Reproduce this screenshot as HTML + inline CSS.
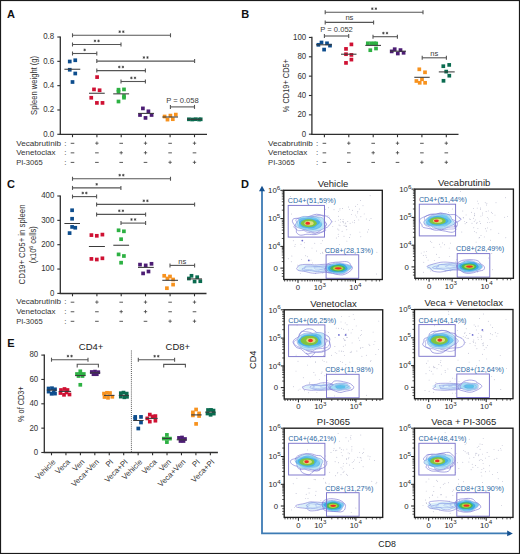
<!DOCTYPE html>
<html><head><meta charset="utf-8"><style>
html,body{margin:0;padding:0;background:#fff;}
svg{display:block;}
text{font-family:"Liberation Sans",sans-serif;}
</style></head><body>
<svg width="520" height="554" viewBox="0 0 520 554">
<defs><filter id="bl" x="-20%" y="-40%" width="140%" height="180%"><feGaussianBlur stdDeviation="0.65"/></filter></defs>
<rect x="0" y="0" width="520" height="554" fill="#fff"/>
<line x1="60.30" y1="36.42" x2="60.30" y2="135.00" stroke="#2e2e2e" stroke-width="1.3" />
<line x1="59.70" y1="134.40" x2="207.00" y2="134.40" stroke="#2e2e2e" stroke-width="1.3" />
<line x1="57.30" y1="134.30" x2="60.30" y2="134.30" stroke="#2e2e2e" stroke-width="1.1" />
<text x="54.20" y="136.65" font-size="8.6" text-anchor="end" fill="#333" textLength="10.98" lengthAdjust="spacingAndGlyphs" >0.0</text>
<line x1="57.30" y1="109.98" x2="60.30" y2="109.98" stroke="#2e2e2e" stroke-width="1.1" />
<text x="54.20" y="112.33" font-size="8.6" text-anchor="end" fill="#333" textLength="10.98" lengthAdjust="spacingAndGlyphs" >0.2</text>
<line x1="57.30" y1="85.66" x2="60.30" y2="85.66" stroke="#2e2e2e" stroke-width="1.1" />
<text x="54.20" y="88.01" font-size="8.6" text-anchor="end" fill="#333" textLength="10.98" lengthAdjust="spacingAndGlyphs" >0.4</text>
<line x1="57.30" y1="61.34" x2="60.30" y2="61.34" stroke="#2e2e2e" stroke-width="1.1" />
<text x="54.20" y="63.69" font-size="8.6" text-anchor="end" fill="#333" textLength="10.98" lengthAdjust="spacingAndGlyphs" >0.6</text>
<line x1="57.30" y1="37.02" x2="60.30" y2="37.02" stroke="#2e2e2e" stroke-width="1.1" />
<text x="54.20" y="39.37" font-size="8.6" text-anchor="end" fill="#333" textLength="10.98" lengthAdjust="spacingAndGlyphs" >0.8</text>
<line x1="72.50" y1="134.40" x2="72.50" y2="137.20" stroke="#2e2e2e" stroke-width="1.1" />
<line x1="96.90" y1="134.40" x2="96.90" y2="137.20" stroke="#2e2e2e" stroke-width="1.1" />
<line x1="121.20" y1="134.40" x2="121.20" y2="137.20" stroke="#2e2e2e" stroke-width="1.1" />
<line x1="145.50" y1="134.40" x2="145.50" y2="137.20" stroke="#2e2e2e" stroke-width="1.1" />
<line x1="170.10" y1="134.40" x2="170.10" y2="137.20" stroke="#2e2e2e" stroke-width="1.1" />
<line x1="194.50" y1="134.40" x2="194.50" y2="137.20" stroke="#2e2e2e" stroke-width="1.1" />
<text x="37.40" y="85.40" font-size="8.5" text-anchor="middle" fill="#333" textLength="59" lengthAdjust="spacingAndGlyphs" transform="rotate(-90 37.40 85.40)" >Spleen weight (g)</text>
<text x="16.20" y="145.50" font-size="8.0" text-anchor="start" fill="#333" textLength="44.8" lengthAdjust="spacingAndGlyphs" >Vecabrutinib</text>
<text x="65.40" y="145.50" font-size="8.0" text-anchor="middle" fill="#333" >:</text>
<line x1="70.70" y1="143.30" x2="74.30" y2="143.30" stroke="#444" stroke-width="0.9" />
<line x1="95.20" y1="143.20" x2="98.60" y2="143.20" stroke="#444" stroke-width="0.8" />
<line x1="96.90" y1="141.50" x2="96.90" y2="144.90" stroke="#444" stroke-width="0.8" />
<line x1="119.40" y1="143.30" x2="123.00" y2="143.30" stroke="#444" stroke-width="0.9" />
<line x1="143.80" y1="143.20" x2="147.20" y2="143.20" stroke="#444" stroke-width="0.8" />
<line x1="145.50" y1="141.50" x2="145.50" y2="144.90" stroke="#444" stroke-width="0.8" />
<line x1="168.30" y1="143.30" x2="171.90" y2="143.30" stroke="#444" stroke-width="0.9" />
<line x1="192.80" y1="143.20" x2="196.20" y2="143.20" stroke="#444" stroke-width="0.8" />
<line x1="194.50" y1="141.50" x2="194.50" y2="144.90" stroke="#444" stroke-width="0.8" />
<text x="16.20" y="155.05" font-size="8.0" text-anchor="start" fill="#333" textLength="39.2" lengthAdjust="spacingAndGlyphs" >Venetoclax</text>
<text x="65.40" y="155.05" font-size="8.0" text-anchor="middle" fill="#333" >:</text>
<line x1="70.70" y1="152.85" x2="74.30" y2="152.85" stroke="#444" stroke-width="0.9" />
<line x1="95.10" y1="152.85" x2="98.70" y2="152.85" stroke="#444" stroke-width="0.9" />
<line x1="119.50" y1="152.75" x2="122.90" y2="152.75" stroke="#444" stroke-width="0.8" />
<line x1="121.20" y1="151.05" x2="121.20" y2="154.45" stroke="#444" stroke-width="0.8" />
<line x1="143.80" y1="152.75" x2="147.20" y2="152.75" stroke="#444" stroke-width="0.8" />
<line x1="145.50" y1="151.05" x2="145.50" y2="154.45" stroke="#444" stroke-width="0.8" />
<line x1="168.30" y1="152.85" x2="171.90" y2="152.85" stroke="#444" stroke-width="0.9" />
<line x1="192.70" y1="152.85" x2="196.30" y2="152.85" stroke="#444" stroke-width="0.9" />
<text x="16.20" y="164.60" font-size="8.0" text-anchor="start" fill="#333" textLength="26.5" lengthAdjust="spacingAndGlyphs" >PI-3065</text>
<text x="65.40" y="164.60" font-size="8.0" text-anchor="middle" fill="#333" >:</text>
<line x1="70.70" y1="162.40" x2="74.30" y2="162.40" stroke="#444" stroke-width="0.9" />
<line x1="95.10" y1="162.40" x2="98.70" y2="162.40" stroke="#444" stroke-width="0.9" />
<line x1="119.40" y1="162.40" x2="123.00" y2="162.40" stroke="#444" stroke-width="0.9" />
<line x1="143.70" y1="162.40" x2="147.30" y2="162.40" stroke="#444" stroke-width="0.9" />
<line x1="168.40" y1="162.30" x2="171.80" y2="162.30" stroke="#444" stroke-width="0.8" />
<line x1="170.10" y1="160.60" x2="170.10" y2="164.00" stroke="#444" stroke-width="0.8" />
<line x1="192.80" y1="162.30" x2="196.20" y2="162.30" stroke="#444" stroke-width="0.8" />
<line x1="194.50" y1="160.60" x2="194.50" y2="164.00" stroke="#444" stroke-width="0.8" />
<rect x="67.90" y="59.65" width="3.7" height="3.7" fill="#0d4d8d"/>
<rect x="73.40" y="58.40" width="3.7" height="3.7" fill="#0d4d8d"/>
<rect x="67.90" y="67.90" width="3.7" height="3.7" fill="#0d4d8d"/>
<rect x="73.40" y="71.65" width="3.7" height="3.7" fill="#0d4d8d"/>
<rect x="70.65" y="80.15" width="3.7" height="3.7" fill="#0d4d8d"/>
<rect x="95.25" y="75.25" width="3.7" height="3.7" fill="#cf1133"/>
<rect x="92.15" y="87.55" width="3.7" height="3.7" fill="#cf1133"/>
<rect x="97.75" y="88.40" width="3.7" height="3.7" fill="#cf1133"/>
<rect x="89.40" y="95.90" width="3.7" height="3.7" fill="#cf1133"/>
<rect x="95.05" y="101.05" width="3.7" height="3.7" fill="#cf1133"/>
<rect x="100.65" y="101.05" width="3.7" height="3.7" fill="#cf1133"/>
<rect x="116.65" y="87.85" width="3.7" height="3.7" fill="#2db143"/>
<rect x="116.65" y="89.85" width="3.7" height="3.7" fill="#2db143"/>
<rect x="122.15" y="87.55" width="3.7" height="3.7" fill="#2db143"/>
<rect x="122.15" y="94.15" width="3.7" height="3.7" fill="#2db143"/>
<rect x="122.15" y="95.85" width="3.7" height="3.7" fill="#2db143"/>
<rect x="116.65" y="99.65" width="3.7" height="3.7" fill="#2db143"/>
<rect x="141.05" y="106.55" width="3.7" height="3.7" fill="#4c1d74"/>
<rect x="146.55" y="109.45" width="3.7" height="3.7" fill="#4c1d74"/>
<rect x="138.15" y="113.15" width="3.7" height="3.7" fill="#4c1d74"/>
<rect x="149.75" y="113.15" width="3.7" height="3.7" fill="#4c1d74"/>
<rect x="143.65" y="116.05" width="3.7" height="3.7" fill="#4c1d74"/>
<rect x="162.75" y="114.65" width="3.7" height="3.7" fill="#f7921e"/>
<rect x="165.65" y="117.75" width="3.7" height="3.7" fill="#f7921e"/>
<rect x="168.55" y="113.75" width="3.7" height="3.7" fill="#f7921e"/>
<rect x="170.95" y="117.35" width="3.7" height="3.7" fill="#f7921e"/>
<rect x="173.95" y="112.75" width="3.7" height="3.7" fill="#f7921e"/>
<rect x="187.05" y="117.45" width="3.7" height="3.7" fill="#0a6b4f"/>
<rect x="190.45" y="117.65" width="3.7" height="3.7" fill="#0a6b4f"/>
<rect x="193.85" y="117.35" width="3.7" height="3.7" fill="#0a6b4f"/>
<rect x="197.25" y="117.65" width="3.7" height="3.7" fill="#0a6b4f"/>
<rect x="198.85" y="117.45" width="3.7" height="3.7" fill="#0a6b4f"/>
<line x1="64.40" y1="69.25" x2="80.25" y2="69.25" stroke="#3a3a3a" stroke-width="1.05" />
<line x1="89.00" y1="93.25" x2="104.75" y2="93.25" stroke="#3a3a3a" stroke-width="1.05" />
<line x1="113.20" y1="93.85" x2="129.10" y2="93.85" stroke="#3a3a3a" stroke-width="1.05" />
<line x1="138.20" y1="113.40" x2="154.00" y2="113.40" stroke="#3a3a3a" stroke-width="1.05" />
<line x1="162.40" y1="117.00" x2="178.00" y2="117.00" stroke="#3a3a3a" stroke-width="1.05" />
<line x1="187.00" y1="119.30" x2="202.00" y2="119.30" stroke="#3a3a3a" stroke-width="1.05" />
<line x1="72.50" y1="35.30" x2="170.50" y2="35.30" stroke="#555" stroke-width="1.1" />
<line x1="72.50" y1="33.30" x2="72.50" y2="37.30" stroke="#555" stroke-width="1.1" />
<line x1="170.50" y1="33.30" x2="170.50" y2="37.30" stroke="#555" stroke-width="1.1" />
<line x1="119.70" y1="30.40" x2="119.70" y2="33.00" stroke="#333" stroke-width="0.7" />
<line x1="118.57" y1="31.05" x2="120.83" y2="32.35" stroke="#333" stroke-width="0.7" />
<line x1="120.83" y1="31.05" x2="118.57" y2="32.35" stroke="#333" stroke-width="0.7" />
<line x1="123.30" y1="30.40" x2="123.30" y2="33.00" stroke="#333" stroke-width="0.7" />
<line x1="122.17" y1="31.05" x2="124.43" y2="32.35" stroke="#333" stroke-width="0.7" />
<line x1="124.43" y1="31.05" x2="122.17" y2="32.35" stroke="#333" stroke-width="0.7" />
<line x1="72.50" y1="44.50" x2="121.00" y2="44.50" stroke="#555" stroke-width="1.1" />
<line x1="72.50" y1="42.50" x2="72.50" y2="46.50" stroke="#555" stroke-width="1.1" />
<line x1="121.00" y1="42.50" x2="121.00" y2="46.50" stroke="#555" stroke-width="1.1" />
<line x1="94.95" y1="39.60" x2="94.95" y2="42.20" stroke="#333" stroke-width="0.7" />
<line x1="93.82" y1="40.25" x2="96.08" y2="41.55" stroke="#333" stroke-width="0.7" />
<line x1="96.08" y1="40.25" x2="93.82" y2="41.55" stroke="#333" stroke-width="0.7" />
<line x1="98.55" y1="39.60" x2="98.55" y2="42.20" stroke="#333" stroke-width="0.7" />
<line x1="97.42" y1="40.25" x2="99.68" y2="41.55" stroke="#333" stroke-width="0.7" />
<line x1="99.68" y1="40.25" x2="97.42" y2="41.55" stroke="#333" stroke-width="0.7" />
<line x1="72.50" y1="53.50" x2="96.80" y2="53.50" stroke="#555" stroke-width="1.1" />
<line x1="72.50" y1="51.50" x2="72.50" y2="55.50" stroke="#555" stroke-width="1.1" />
<line x1="96.80" y1="51.50" x2="96.80" y2="55.50" stroke="#555" stroke-width="1.1" />
<line x1="84.65" y1="48.60" x2="84.65" y2="51.20" stroke="#333" stroke-width="0.7" />
<line x1="83.52" y1="49.25" x2="85.78" y2="50.55" stroke="#333" stroke-width="0.7" />
<line x1="85.78" y1="49.25" x2="83.52" y2="50.55" stroke="#333" stroke-width="0.7" />
<line x1="96.80" y1="61.10" x2="194.60" y2="61.10" stroke="#555" stroke-width="1.1" />
<line x1="96.80" y1="59.10" x2="96.80" y2="63.10" stroke="#555" stroke-width="1.1" />
<line x1="194.60" y1="59.10" x2="194.60" y2="63.10" stroke="#555" stroke-width="1.1" />
<line x1="143.90" y1="56.20" x2="143.90" y2="58.80" stroke="#333" stroke-width="0.7" />
<line x1="142.77" y1="56.85" x2="145.03" y2="58.15" stroke="#333" stroke-width="0.7" />
<line x1="145.03" y1="56.85" x2="142.77" y2="58.15" stroke="#333" stroke-width="0.7" />
<line x1="147.50" y1="56.20" x2="147.50" y2="58.80" stroke="#333" stroke-width="0.7" />
<line x1="146.37" y1="56.85" x2="148.63" y2="58.15" stroke="#333" stroke-width="0.7" />
<line x1="148.63" y1="56.85" x2="146.37" y2="58.15" stroke="#333" stroke-width="0.7" />
<line x1="96.80" y1="70.60" x2="145.40" y2="70.60" stroke="#555" stroke-width="1.1" />
<line x1="96.80" y1="68.60" x2="96.80" y2="72.60" stroke="#555" stroke-width="1.1" />
<line x1="145.40" y1="68.60" x2="145.40" y2="72.60" stroke="#555" stroke-width="1.1" />
<line x1="119.30" y1="65.70" x2="119.30" y2="68.30" stroke="#333" stroke-width="0.7" />
<line x1="118.17" y1="66.35" x2="120.43" y2="67.65" stroke="#333" stroke-width="0.7" />
<line x1="120.43" y1="66.35" x2="118.17" y2="67.65" stroke="#333" stroke-width="0.7" />
<line x1="122.90" y1="65.70" x2="122.90" y2="68.30" stroke="#333" stroke-width="0.7" />
<line x1="121.77" y1="66.35" x2="124.03" y2="67.65" stroke="#333" stroke-width="0.7" />
<line x1="124.03" y1="66.35" x2="121.77" y2="67.65" stroke="#333" stroke-width="0.7" />
<line x1="121.00" y1="81.50" x2="145.40" y2="81.50" stroke="#555" stroke-width="1.1" />
<line x1="121.00" y1="79.50" x2="121.00" y2="83.50" stroke="#555" stroke-width="1.1" />
<line x1="145.40" y1="79.50" x2="145.40" y2="83.50" stroke="#555" stroke-width="1.1" />
<line x1="131.40" y1="76.60" x2="131.40" y2="79.20" stroke="#333" stroke-width="0.7" />
<line x1="130.27" y1="77.25" x2="132.53" y2="78.55" stroke="#333" stroke-width="0.7" />
<line x1="132.53" y1="77.25" x2="130.27" y2="78.55" stroke="#333" stroke-width="0.7" />
<line x1="135.00" y1="76.60" x2="135.00" y2="79.20" stroke="#333" stroke-width="0.7" />
<line x1="133.87" y1="77.25" x2="136.13" y2="78.55" stroke="#333" stroke-width="0.7" />
<line x1="136.13" y1="77.25" x2="133.87" y2="78.55" stroke="#333" stroke-width="0.7" />
<line x1="170.40" y1="106.90" x2="194.50" y2="106.90" stroke="#555" stroke-width="1.1" />
<line x1="170.40" y1="104.90" x2="170.40" y2="108.90" stroke="#555" stroke-width="1.1" />
<line x1="194.50" y1="104.90" x2="194.50" y2="108.90" stroke="#555" stroke-width="1.1" />
<text x="182.45" y="102.60" font-size="7.6" text-anchor="middle" fill="#3a3a3a" >P = 0.058</text>
<line x1="311.90" y1="36.85" x2="311.90" y2="135.00" stroke="#2e2e2e" stroke-width="1.3" />
<line x1="311.30" y1="134.40" x2="458.50" y2="134.40" stroke="#2e2e2e" stroke-width="1.3" />
<line x1="308.90" y1="134.20" x2="311.90" y2="134.20" stroke="#2e2e2e" stroke-width="1.1" />
<text x="306.20" y="136.55" font-size="8.6" text-anchor="end" fill="#333" textLength="4.39" lengthAdjust="spacingAndGlyphs" >0</text>
<line x1="308.90" y1="114.85" x2="311.90" y2="114.85" stroke="#2e2e2e" stroke-width="1.1" />
<text x="306.20" y="117.20" font-size="8.6" text-anchor="end" fill="#333" textLength="8.78" lengthAdjust="spacingAndGlyphs" >20</text>
<line x1="308.90" y1="95.50" x2="311.90" y2="95.50" stroke="#2e2e2e" stroke-width="1.1" />
<text x="306.20" y="97.85" font-size="8.6" text-anchor="end" fill="#333" textLength="8.78" lengthAdjust="spacingAndGlyphs" >40</text>
<line x1="308.90" y1="76.15" x2="311.90" y2="76.15" stroke="#2e2e2e" stroke-width="1.1" />
<text x="306.20" y="78.50" font-size="8.6" text-anchor="end" fill="#333" textLength="8.78" lengthAdjust="spacingAndGlyphs" >60</text>
<line x1="308.90" y1="56.80" x2="311.90" y2="56.80" stroke="#2e2e2e" stroke-width="1.1" />
<text x="306.20" y="59.15" font-size="8.6" text-anchor="end" fill="#333" textLength="8.78" lengthAdjust="spacingAndGlyphs" >80</text>
<line x1="308.90" y1="37.45" x2="311.90" y2="37.45" stroke="#2e2e2e" stroke-width="1.1" />
<text x="306.20" y="39.80" font-size="8.6" text-anchor="end" fill="#333" textLength="13.18" lengthAdjust="spacingAndGlyphs" >100</text>
<line x1="324.40" y1="134.40" x2="324.40" y2="137.20" stroke="#2e2e2e" stroke-width="1.1" />
<line x1="348.80" y1="134.40" x2="348.80" y2="137.20" stroke="#2e2e2e" stroke-width="1.1" />
<line x1="373.20" y1="134.40" x2="373.20" y2="137.20" stroke="#2e2e2e" stroke-width="1.1" />
<line x1="397.50" y1="134.40" x2="397.50" y2="137.20" stroke="#2e2e2e" stroke-width="1.1" />
<line x1="421.90" y1="134.40" x2="421.90" y2="137.20" stroke="#2e2e2e" stroke-width="1.1" />
<line x1="446.30" y1="134.40" x2="446.30" y2="137.20" stroke="#2e2e2e" stroke-width="1.1" />
<text x="289.30" y="85.60" font-size="8.4" text-anchor="middle" fill="#333" textLength="53.1" lengthAdjust="spacingAndGlyphs" transform="rotate(-90 289.30 85.60)" >% CD19+ CD5+</text>
<text x="268.10" y="145.50" font-size="8.0" text-anchor="start" fill="#333" textLength="44.8" lengthAdjust="spacingAndGlyphs" >Vecabrutinib</text>
<text x="317.20" y="145.50" font-size="8.0" text-anchor="middle" fill="#333" >:</text>
<line x1="322.60" y1="143.30" x2="326.20" y2="143.30" stroke="#444" stroke-width="0.9" />
<line x1="347.10" y1="143.20" x2="350.50" y2="143.20" stroke="#444" stroke-width="0.8" />
<line x1="348.80" y1="141.50" x2="348.80" y2="144.90" stroke="#444" stroke-width="0.8" />
<line x1="371.40" y1="143.30" x2="375.00" y2="143.30" stroke="#444" stroke-width="0.9" />
<line x1="395.80" y1="143.20" x2="399.20" y2="143.20" stroke="#444" stroke-width="0.8" />
<line x1="397.50" y1="141.50" x2="397.50" y2="144.90" stroke="#444" stroke-width="0.8" />
<line x1="420.10" y1="143.30" x2="423.70" y2="143.30" stroke="#444" stroke-width="0.9" />
<line x1="444.60" y1="143.20" x2="448.00" y2="143.20" stroke="#444" stroke-width="0.8" />
<line x1="446.30" y1="141.50" x2="446.30" y2="144.90" stroke="#444" stroke-width="0.8" />
<text x="268.10" y="155.05" font-size="8.0" text-anchor="start" fill="#333" textLength="39.2" lengthAdjust="spacingAndGlyphs" >Venetoclax</text>
<text x="317.20" y="155.05" font-size="8.0" text-anchor="middle" fill="#333" >:</text>
<line x1="322.60" y1="152.85" x2="326.20" y2="152.85" stroke="#444" stroke-width="0.9" />
<line x1="347.00" y1="152.85" x2="350.60" y2="152.85" stroke="#444" stroke-width="0.9" />
<line x1="371.50" y1="152.75" x2="374.90" y2="152.75" stroke="#444" stroke-width="0.8" />
<line x1="373.20" y1="151.05" x2="373.20" y2="154.45" stroke="#444" stroke-width="0.8" />
<line x1="395.80" y1="152.75" x2="399.20" y2="152.75" stroke="#444" stroke-width="0.8" />
<line x1="397.50" y1="151.05" x2="397.50" y2="154.45" stroke="#444" stroke-width="0.8" />
<line x1="420.10" y1="152.85" x2="423.70" y2="152.85" stroke="#444" stroke-width="0.9" />
<line x1="444.50" y1="152.85" x2="448.10" y2="152.85" stroke="#444" stroke-width="0.9" />
<text x="268.10" y="164.60" font-size="8.0" text-anchor="start" fill="#333" textLength="26.5" lengthAdjust="spacingAndGlyphs" >PI-3065</text>
<text x="317.20" y="164.60" font-size="8.0" text-anchor="middle" fill="#333" >:</text>
<line x1="322.60" y1="162.40" x2="326.20" y2="162.40" stroke="#444" stroke-width="0.9" />
<line x1="347.00" y1="162.40" x2="350.60" y2="162.40" stroke="#444" stroke-width="0.9" />
<line x1="371.40" y1="162.40" x2="375.00" y2="162.40" stroke="#444" stroke-width="0.9" />
<line x1="395.70" y1="162.40" x2="399.30" y2="162.40" stroke="#444" stroke-width="0.9" />
<line x1="420.20" y1="162.30" x2="423.60" y2="162.30" stroke="#444" stroke-width="0.8" />
<line x1="421.90" y1="160.60" x2="421.90" y2="164.00" stroke="#444" stroke-width="0.8" />
<line x1="444.60" y1="162.30" x2="448.00" y2="162.30" stroke="#444" stroke-width="0.8" />
<line x1="446.30" y1="160.60" x2="446.30" y2="164.00" stroke="#444" stroke-width="0.8" />
<rect x="316.55" y="42.95" width="3.7" height="3.7" fill="#0d4d8d"/>
<rect x="319.65" y="40.65" width="3.7" height="3.7" fill="#0d4d8d"/>
<rect x="325.15" y="41.45" width="3.7" height="3.7" fill="#0d4d8d"/>
<rect x="328.15" y="43.75" width="3.7" height="3.7" fill="#0d4d8d"/>
<rect x="322.25" y="47.75" width="3.7" height="3.7" fill="#0d4d8d"/>
<rect x="349.55" y="42.55" width="3.7" height="3.7" fill="#cf1133"/>
<rect x="344.15" y="47.05" width="3.7" height="3.7" fill="#cf1133"/>
<rect x="344.15" y="52.35" width="3.7" height="3.7" fill="#cf1133"/>
<rect x="349.55" y="53.05" width="3.7" height="3.7" fill="#cf1133"/>
<rect x="349.55" y="57.75" width="3.7" height="3.7" fill="#cf1133"/>
<rect x="344.15" y="61.05" width="3.7" height="3.7" fill="#cf1133"/>
<rect x="365.95" y="41.45" width="3.7" height="3.7" fill="#2db143"/>
<rect x="369.35" y="41.45" width="3.7" height="3.7" fill="#2db143"/>
<rect x="372.75" y="41.45" width="3.7" height="3.7" fill="#2db143"/>
<rect x="374.35" y="41.65" width="3.7" height="3.7" fill="#2db143"/>
<rect x="368.45" y="48.35" width="3.7" height="3.7" fill="#2db143"/>
<rect x="374.15" y="46.65" width="3.7" height="3.7" fill="#2db143"/>
<rect x="389.85" y="49.55" width="3.7" height="3.7" fill="#4c1d74"/>
<rect x="392.85" y="47.35" width="3.7" height="3.7" fill="#4c1d74"/>
<rect x="395.95" y="51.65" width="3.7" height="3.7" fill="#4c1d74"/>
<rect x="398.65" y="48.25" width="3.7" height="3.7" fill="#4c1d74"/>
<rect x="401.75" y="50.95" width="3.7" height="3.7" fill="#4c1d74"/>
<rect x="417.45" y="67.45" width="3.7" height="3.7" fill="#f7921e"/>
<rect x="423.15" y="70.45" width="3.7" height="3.7" fill="#f7921e"/>
<rect x="414.55" y="79.15" width="3.7" height="3.7" fill="#f7921e"/>
<rect x="417.85" y="80.95" width="3.7" height="3.7" fill="#f7921e"/>
<rect x="420.15" y="77.45" width="3.7" height="3.7" fill="#f7921e"/>
<rect x="423.25" y="80.95" width="3.7" height="3.7" fill="#f7921e"/>
<rect x="441.45" y="64.35" width="3.7" height="3.7" fill="#0a6b4f"/>
<rect x="447.35" y="63.05" width="3.7" height="3.7" fill="#0a6b4f"/>
<rect x="444.35" y="69.75" width="3.7" height="3.7" fill="#0a6b4f"/>
<rect x="447.45" y="73.85" width="3.7" height="3.7" fill="#0a6b4f"/>
<rect x="441.65" y="78.95" width="3.7" height="3.7" fill="#0a6b4f"/>
<line x1="316.00" y1="44.80" x2="332.00" y2="44.80" stroke="#3a3a3a" stroke-width="1.05" />
<line x1="341.00" y1="54.20" x2="356.50" y2="54.20" stroke="#3a3a3a" stroke-width="1.05" />
<line x1="365.30" y1="45.40" x2="381.00" y2="45.40" stroke="#3a3a3a" stroke-width="1.05" />
<line x1="390.00" y1="51.20" x2="406.00" y2="51.20" stroke="#3a3a3a" stroke-width="1.05" />
<line x1="414.30" y1="77.30" x2="429.70" y2="77.30" stroke="#3a3a3a" stroke-width="1.05" />
<line x1="438.80" y1="71.90" x2="454.70" y2="71.90" stroke="#3a3a3a" stroke-width="1.05" />
<line x1="325.20" y1="12.30" x2="423.00" y2="12.30" stroke="#555" stroke-width="1.1" />
<line x1="325.20" y1="10.30" x2="325.20" y2="14.30" stroke="#555" stroke-width="1.1" />
<line x1="423.00" y1="10.30" x2="423.00" y2="14.30" stroke="#555" stroke-width="1.1" />
<line x1="372.30" y1="7.40" x2="372.30" y2="10.00" stroke="#333" stroke-width="0.7" />
<line x1="371.17" y1="8.05" x2="373.43" y2="9.35" stroke="#333" stroke-width="0.7" />
<line x1="373.43" y1="8.05" x2="371.17" y2="9.35" stroke="#333" stroke-width="0.7" />
<line x1="375.90" y1="7.40" x2="375.90" y2="10.00" stroke="#333" stroke-width="0.7" />
<line x1="374.77" y1="8.05" x2="377.03" y2="9.35" stroke="#333" stroke-width="0.7" />
<line x1="377.03" y1="8.05" x2="374.77" y2="9.35" stroke="#333" stroke-width="0.7" />
<line x1="325.20" y1="22.40" x2="373.60" y2="22.40" stroke="#555" stroke-width="1.1" />
<line x1="325.20" y1="20.40" x2="325.20" y2="24.40" stroke="#555" stroke-width="1.1" />
<line x1="373.60" y1="20.40" x2="373.60" y2="24.40" stroke="#555" stroke-width="1.1" />
<text x="349.40" y="20.10" font-size="7.6" text-anchor="middle" fill="#3a3a3a" >ns</text>
<line x1="324.40" y1="36.00" x2="348.70" y2="36.00" stroke="#555" stroke-width="1.1" />
<line x1="324.40" y1="34.00" x2="324.40" y2="38.00" stroke="#555" stroke-width="1.1" />
<line x1="348.70" y1="34.00" x2="348.70" y2="38.00" stroke="#555" stroke-width="1.1" />
<text x="336.55" y="31.50" font-size="7.6" text-anchor="middle" fill="#3a3a3a" >P = 0.052</text>
<line x1="373.00" y1="36.70" x2="397.40" y2="36.70" stroke="#555" stroke-width="1.1" />
<line x1="373.00" y1="34.70" x2="373.00" y2="38.70" stroke="#555" stroke-width="1.1" />
<line x1="397.40" y1="34.70" x2="397.40" y2="38.70" stroke="#555" stroke-width="1.1" />
<line x1="383.40" y1="31.80" x2="383.40" y2="34.40" stroke="#333" stroke-width="0.7" />
<line x1="382.27" y1="32.45" x2="384.53" y2="33.75" stroke="#333" stroke-width="0.7" />
<line x1="384.53" y1="32.45" x2="382.27" y2="33.75" stroke="#333" stroke-width="0.7" />
<line x1="387.00" y1="31.80" x2="387.00" y2="34.40" stroke="#333" stroke-width="0.7" />
<line x1="385.87" y1="32.45" x2="388.13" y2="33.75" stroke="#333" stroke-width="0.7" />
<line x1="388.13" y1="32.45" x2="385.87" y2="33.75" stroke="#333" stroke-width="0.7" />
<line x1="422.20" y1="57.80" x2="446.40" y2="57.80" stroke="#555" stroke-width="1.1" />
<line x1="422.20" y1="55.80" x2="422.20" y2="59.80" stroke="#555" stroke-width="1.1" />
<line x1="446.40" y1="55.80" x2="446.40" y2="59.80" stroke="#555" stroke-width="1.1" />
<text x="434.30" y="55.90" font-size="7.6" text-anchor="middle" fill="#3a3a3a" >ns</text>
<line x1="60.30" y1="195.40" x2="60.30" y2="294.10" stroke="#2e2e2e" stroke-width="1.3" />
<line x1="59.70" y1="293.50" x2="206.50" y2="293.50" stroke="#2e2e2e" stroke-width="1.3" />
<line x1="57.30" y1="293.40" x2="60.30" y2="293.40" stroke="#2e2e2e" stroke-width="1.1" />
<text x="54.40" y="295.75" font-size="8.6" text-anchor="end" fill="#333" textLength="4.39" lengthAdjust="spacingAndGlyphs" >0</text>
<line x1="57.30" y1="269.05" x2="60.30" y2="269.05" stroke="#2e2e2e" stroke-width="1.1" />
<text x="54.40" y="271.40" font-size="8.6" text-anchor="end" fill="#333" textLength="13.18" lengthAdjust="spacingAndGlyphs" >100</text>
<line x1="57.30" y1="244.70" x2="60.30" y2="244.70" stroke="#2e2e2e" stroke-width="1.1" />
<text x="54.40" y="247.05" font-size="8.6" text-anchor="end" fill="#333" textLength="13.18" lengthAdjust="spacingAndGlyphs" >200</text>
<line x1="57.30" y1="220.35" x2="60.30" y2="220.35" stroke="#2e2e2e" stroke-width="1.1" />
<text x="54.40" y="222.70" font-size="8.6" text-anchor="end" fill="#333" textLength="13.18" lengthAdjust="spacingAndGlyphs" >300</text>
<line x1="57.30" y1="196.00" x2="60.30" y2="196.00" stroke="#2e2e2e" stroke-width="1.1" />
<text x="54.40" y="198.35" font-size="8.6" text-anchor="end" fill="#333" textLength="13.18" lengthAdjust="spacingAndGlyphs" >400</text>
<line x1="72.50" y1="293.50" x2="72.50" y2="296.30" stroke="#2e2e2e" stroke-width="1.1" />
<line x1="96.90" y1="293.50" x2="96.90" y2="296.30" stroke="#2e2e2e" stroke-width="1.1" />
<line x1="121.20" y1="293.50" x2="121.20" y2="296.30" stroke="#2e2e2e" stroke-width="1.1" />
<line x1="145.50" y1="293.50" x2="145.50" y2="296.30" stroke="#2e2e2e" stroke-width="1.1" />
<line x1="170.10" y1="293.50" x2="170.10" y2="296.30" stroke="#2e2e2e" stroke-width="1.1" />
<line x1="194.50" y1="293.50" x2="194.50" y2="296.30" stroke="#2e2e2e" stroke-width="1.1" />
<text x="24.80" y="244.50" font-size="8.5" text-anchor="middle" fill="#333" textLength="80" lengthAdjust="spacingAndGlyphs" transform="rotate(-90 24.80 244.50)" >CD19+ CD5+ in spleen</text>
<text x="36.3" y="244.7" font-size="8.5" text-anchor="middle" fill="#333" transform="rotate(-90 36.3 244.7)" textLength="37" lengthAdjust="spacingAndGlyphs">(x10<tspan font-size="6" dy="-3.3">6</tspan><tspan dy="3.3"> cells)</tspan></text>
<text x="16.20" y="304.40" font-size="8.0" text-anchor="start" fill="#333" textLength="44.8" lengthAdjust="spacingAndGlyphs" >Vecabrutinib</text>
<text x="65.40" y="304.40" font-size="8.0" text-anchor="middle" fill="#333" >:</text>
<line x1="70.70" y1="302.20" x2="74.30" y2="302.20" stroke="#444" stroke-width="0.9" />
<line x1="95.20" y1="302.10" x2="98.60" y2="302.10" stroke="#444" stroke-width="0.8" />
<line x1="96.90" y1="300.40" x2="96.90" y2="303.80" stroke="#444" stroke-width="0.8" />
<line x1="119.40" y1="302.20" x2="123.00" y2="302.20" stroke="#444" stroke-width="0.9" />
<line x1="143.80" y1="302.10" x2="147.20" y2="302.10" stroke="#444" stroke-width="0.8" />
<line x1="145.50" y1="300.40" x2="145.50" y2="303.80" stroke="#444" stroke-width="0.8" />
<line x1="168.30" y1="302.20" x2="171.90" y2="302.20" stroke="#444" stroke-width="0.9" />
<line x1="192.80" y1="302.10" x2="196.20" y2="302.10" stroke="#444" stroke-width="0.8" />
<line x1="194.50" y1="300.40" x2="194.50" y2="303.80" stroke="#444" stroke-width="0.8" />
<text x="16.20" y="313.95" font-size="8.0" text-anchor="start" fill="#333" textLength="39.2" lengthAdjust="spacingAndGlyphs" >Venetoclax</text>
<text x="65.40" y="313.95" font-size="8.0" text-anchor="middle" fill="#333" >:</text>
<line x1="70.70" y1="311.75" x2="74.30" y2="311.75" stroke="#444" stroke-width="0.9" />
<line x1="95.10" y1="311.75" x2="98.70" y2="311.75" stroke="#444" stroke-width="0.9" />
<line x1="119.50" y1="311.65" x2="122.90" y2="311.65" stroke="#444" stroke-width="0.8" />
<line x1="121.20" y1="309.95" x2="121.20" y2="313.35" stroke="#444" stroke-width="0.8" />
<line x1="143.80" y1="311.65" x2="147.20" y2="311.65" stroke="#444" stroke-width="0.8" />
<line x1="145.50" y1="309.95" x2="145.50" y2="313.35" stroke="#444" stroke-width="0.8" />
<line x1="168.30" y1="311.75" x2="171.90" y2="311.75" stroke="#444" stroke-width="0.9" />
<line x1="192.70" y1="311.75" x2="196.30" y2="311.75" stroke="#444" stroke-width="0.9" />
<text x="16.20" y="323.50" font-size="8.0" text-anchor="start" fill="#333" textLength="26.5" lengthAdjust="spacingAndGlyphs" >PI-3065</text>
<text x="65.40" y="323.50" font-size="8.0" text-anchor="middle" fill="#333" >:</text>
<line x1="70.70" y1="321.30" x2="74.30" y2="321.30" stroke="#444" stroke-width="0.9" />
<line x1="95.10" y1="321.30" x2="98.70" y2="321.30" stroke="#444" stroke-width="0.9" />
<line x1="119.40" y1="321.30" x2="123.00" y2="321.30" stroke="#444" stroke-width="0.9" />
<line x1="143.70" y1="321.30" x2="147.30" y2="321.30" stroke="#444" stroke-width="0.9" />
<line x1="168.40" y1="321.20" x2="171.80" y2="321.20" stroke="#444" stroke-width="0.8" />
<line x1="170.10" y1="319.50" x2="170.10" y2="322.90" stroke="#444" stroke-width="0.8" />
<line x1="192.80" y1="321.20" x2="196.20" y2="321.20" stroke="#444" stroke-width="0.8" />
<line x1="194.50" y1="319.50" x2="194.50" y2="322.90" stroke="#444" stroke-width="0.8" />
<rect x="70.25" y="208.40" width="3.7" height="3.7" fill="#0d4d8d"/>
<rect x="70.25" y="216.90" width="3.7" height="3.7" fill="#0d4d8d"/>
<rect x="70.25" y="225.05" width="3.7" height="3.7" fill="#0d4d8d"/>
<rect x="73.40" y="225.90" width="3.7" height="3.7" fill="#0d4d8d"/>
<rect x="67.75" y="231.25" width="3.7" height="3.7" fill="#0d4d8d"/>
<rect x="89.55" y="233.25" width="3.7" height="3.7" fill="#cf1133"/>
<rect x="94.95" y="233.95" width="3.7" height="3.7" fill="#cf1133"/>
<rect x="100.55" y="232.75" width="3.7" height="3.7" fill="#cf1133"/>
<rect x="89.55" y="257.05" width="3.7" height="3.7" fill="#cf1133"/>
<rect x="94.95" y="257.65" width="3.7" height="3.7" fill="#cf1133"/>
<rect x="100.55" y="256.45" width="3.7" height="3.7" fill="#cf1133"/>
<rect x="116.75" y="228.45" width="3.7" height="3.7" fill="#2db143"/>
<rect x="122.05" y="229.45" width="3.7" height="3.7" fill="#2db143"/>
<rect x="119.25" y="237.35" width="3.7" height="3.7" fill="#2db143"/>
<rect x="116.75" y="252.55" width="3.7" height="3.7" fill="#2db143"/>
<rect x="122.05" y="254.15" width="3.7" height="3.7" fill="#2db143"/>
<rect x="119.25" y="260.85" width="3.7" height="3.7" fill="#2db143"/>
<rect x="138.15" y="262.75" width="3.7" height="3.7" fill="#4c1d74"/>
<rect x="143.85" y="263.55" width="3.7" height="3.7" fill="#4c1d74"/>
<rect x="149.65" y="261.95" width="3.7" height="3.7" fill="#4c1d74"/>
<rect x="141.25" y="271.55" width="3.7" height="3.7" fill="#4c1d74"/>
<rect x="146.65" y="269.65" width="3.7" height="3.7" fill="#4c1d74"/>
<rect x="162.35" y="273.95" width="3.7" height="3.7" fill="#f7921e"/>
<rect x="165.55" y="276.65" width="3.7" height="3.7" fill="#f7921e"/>
<rect x="168.15" y="274.65" width="3.7" height="3.7" fill="#f7921e"/>
<rect x="171.25" y="277.65" width="3.7" height="3.7" fill="#f7921e"/>
<rect x="171.25" y="282.75" width="3.7" height="3.7" fill="#f7921e"/>
<rect x="165.05" y="286.35" width="3.7" height="3.7" fill="#f7921e"/>
<rect x="187.05" y="276.65" width="3.7" height="3.7" fill="#0a6b4f"/>
<rect x="189.65" y="273.95" width="3.7" height="3.7" fill="#0a6b4f"/>
<rect x="192.75" y="279.65" width="3.7" height="3.7" fill="#0a6b4f"/>
<rect x="195.35" y="275.35" width="3.7" height="3.7" fill="#0a6b4f"/>
<rect x="198.45" y="279.35" width="3.7" height="3.7" fill="#0a6b4f"/>
<line x1="64.40" y1="223.50" x2="80.00" y2="223.50" stroke="#3a3a3a" stroke-width="1.05" />
<line x1="88.90" y1="246.50" x2="104.90" y2="246.50" stroke="#3a3a3a" stroke-width="1.05" />
<line x1="113.30" y1="245.25" x2="129.10" y2="245.25" stroke="#3a3a3a" stroke-width="1.05" />
<line x1="138.00" y1="267.40" x2="153.80" y2="267.40" stroke="#3a3a3a" stroke-width="1.05" />
<line x1="162.30" y1="280.30" x2="178.00" y2="280.30" stroke="#3a3a3a" stroke-width="1.05" />
<line x1="187.00" y1="278.90" x2="202.00" y2="278.90" stroke="#3a3a3a" stroke-width="1.05" />
<line x1="72.50" y1="178.75" x2="170.50" y2="178.75" stroke="#555" stroke-width="1.1" />
<line x1="72.50" y1="176.75" x2="72.50" y2="180.75" stroke="#555" stroke-width="1.1" />
<line x1="170.50" y1="176.75" x2="170.50" y2="180.75" stroke="#555" stroke-width="1.1" />
<line x1="119.70" y1="173.85" x2="119.70" y2="176.45" stroke="#333" stroke-width="0.7" />
<line x1="118.57" y1="174.50" x2="120.83" y2="175.80" stroke="#333" stroke-width="0.7" />
<line x1="120.83" y1="174.50" x2="118.57" y2="175.80" stroke="#333" stroke-width="0.7" />
<line x1="123.30" y1="173.85" x2="123.30" y2="176.45" stroke="#333" stroke-width="0.7" />
<line x1="122.17" y1="174.50" x2="124.43" y2="175.80" stroke="#333" stroke-width="0.7" />
<line x1="124.43" y1="174.50" x2="122.17" y2="175.80" stroke="#333" stroke-width="0.7" />
<line x1="72.50" y1="187.90" x2="120.90" y2="187.90" stroke="#555" stroke-width="1.1" />
<line x1="72.50" y1="185.90" x2="72.50" y2="189.90" stroke="#555" stroke-width="1.1" />
<line x1="120.90" y1="185.90" x2="120.90" y2="189.90" stroke="#555" stroke-width="1.1" />
<line x1="96.70" y1="183.00" x2="96.70" y2="185.60" stroke="#333" stroke-width="0.7" />
<line x1="95.57" y1="183.65" x2="97.83" y2="184.95" stroke="#333" stroke-width="0.7" />
<line x1="97.83" y1="183.65" x2="95.57" y2="184.95" stroke="#333" stroke-width="0.7" />
<line x1="72.50" y1="196.60" x2="96.60" y2="196.60" stroke="#555" stroke-width="1.1" />
<line x1="72.50" y1="194.60" x2="72.50" y2="198.60" stroke="#555" stroke-width="1.1" />
<line x1="96.60" y1="194.60" x2="96.60" y2="198.60" stroke="#555" stroke-width="1.1" />
<line x1="82.75" y1="191.70" x2="82.75" y2="194.30" stroke="#333" stroke-width="0.7" />
<line x1="81.62" y1="192.35" x2="83.88" y2="193.65" stroke="#333" stroke-width="0.7" />
<line x1="83.88" y1="192.35" x2="81.62" y2="193.65" stroke="#333" stroke-width="0.7" />
<line x1="86.35" y1="191.70" x2="86.35" y2="194.30" stroke="#333" stroke-width="0.7" />
<line x1="85.22" y1="192.35" x2="87.48" y2="193.65" stroke="#333" stroke-width="0.7" />
<line x1="87.48" y1="192.35" x2="85.22" y2="193.65" stroke="#333" stroke-width="0.7" />
<line x1="96.60" y1="204.40" x2="194.60" y2="204.40" stroke="#555" stroke-width="1.1" />
<line x1="96.60" y1="202.40" x2="96.60" y2="206.40" stroke="#555" stroke-width="1.1" />
<line x1="194.60" y1="202.40" x2="194.60" y2="206.40" stroke="#555" stroke-width="1.1" />
<line x1="143.80" y1="199.50" x2="143.80" y2="202.10" stroke="#333" stroke-width="0.7" />
<line x1="142.67" y1="200.15" x2="144.93" y2="201.45" stroke="#333" stroke-width="0.7" />
<line x1="144.93" y1="200.15" x2="142.67" y2="201.45" stroke="#333" stroke-width="0.7" />
<line x1="147.40" y1="199.50" x2="147.40" y2="202.10" stroke="#333" stroke-width="0.7" />
<line x1="146.27" y1="200.15" x2="148.53" y2="201.45" stroke="#333" stroke-width="0.7" />
<line x1="148.53" y1="200.15" x2="146.27" y2="201.45" stroke="#333" stroke-width="0.7" />
<line x1="96.60" y1="214.40" x2="145.60" y2="214.40" stroke="#555" stroke-width="1.1" />
<line x1="96.60" y1="212.40" x2="96.60" y2="216.40" stroke="#555" stroke-width="1.1" />
<line x1="145.60" y1="212.40" x2="145.60" y2="216.40" stroke="#555" stroke-width="1.1" />
<line x1="119.30" y1="209.50" x2="119.30" y2="212.10" stroke="#333" stroke-width="0.7" />
<line x1="118.17" y1="210.15" x2="120.43" y2="211.45" stroke="#333" stroke-width="0.7" />
<line x1="120.43" y1="210.15" x2="118.17" y2="211.45" stroke="#333" stroke-width="0.7" />
<line x1="122.90" y1="209.50" x2="122.90" y2="212.10" stroke="#333" stroke-width="0.7" />
<line x1="121.77" y1="210.15" x2="124.03" y2="211.45" stroke="#333" stroke-width="0.7" />
<line x1="124.03" y1="210.15" x2="121.77" y2="211.45" stroke="#333" stroke-width="0.7" />
<line x1="121.00" y1="223.10" x2="145.60" y2="223.10" stroke="#555" stroke-width="1.1" />
<line x1="121.00" y1="221.10" x2="121.00" y2="225.10" stroke="#555" stroke-width="1.1" />
<line x1="145.60" y1="221.10" x2="145.60" y2="225.10" stroke="#555" stroke-width="1.1" />
<line x1="131.50" y1="218.20" x2="131.50" y2="220.80" stroke="#333" stroke-width="0.7" />
<line x1="130.37" y1="218.85" x2="132.63" y2="220.15" stroke="#333" stroke-width="0.7" />
<line x1="132.63" y1="218.85" x2="130.37" y2="220.15" stroke="#333" stroke-width="0.7" />
<line x1="135.10" y1="218.20" x2="135.10" y2="220.80" stroke="#333" stroke-width="0.7" />
<line x1="133.97" y1="218.85" x2="136.23" y2="220.15" stroke="#333" stroke-width="0.7" />
<line x1="136.23" y1="218.85" x2="133.97" y2="220.15" stroke="#333" stroke-width="0.7" />
<line x1="170.00" y1="265.40" x2="194.60" y2="265.40" stroke="#555" stroke-width="1.1" />
<line x1="170.00" y1="263.40" x2="170.00" y2="267.40" stroke="#555" stroke-width="1.1" />
<line x1="194.60" y1="263.40" x2="194.60" y2="267.40" stroke="#555" stroke-width="1.1" />
<text x="182.30" y="263.60" font-size="7.6" text-anchor="middle" fill="#3a3a3a" >ns</text>
<line x1="44.30" y1="354.40" x2="44.30" y2="453.10" stroke="#2e2e2e" stroke-width="1.3" />
<line x1="43.70" y1="452.50" x2="217.90" y2="452.50" stroke="#2e2e2e" stroke-width="1.3" />
<line x1="41.30" y1="452.50" x2="44.30" y2="452.50" stroke="#2e2e2e" stroke-width="1.1" />
<text x="38.20" y="454.85" font-size="8.6" text-anchor="end" fill="#333" textLength="4.39" lengthAdjust="spacingAndGlyphs" >0</text>
<line x1="41.30" y1="428.15" x2="44.30" y2="428.15" stroke="#2e2e2e" stroke-width="1.1" />
<text x="38.20" y="430.50" font-size="8.6" text-anchor="end" fill="#333" textLength="8.78" lengthAdjust="spacingAndGlyphs" >20</text>
<line x1="41.30" y1="403.80" x2="44.30" y2="403.80" stroke="#2e2e2e" stroke-width="1.1" />
<text x="38.20" y="406.15" font-size="8.6" text-anchor="end" fill="#333" textLength="8.78" lengthAdjust="spacingAndGlyphs" >40</text>
<line x1="41.30" y1="379.45" x2="44.30" y2="379.45" stroke="#2e2e2e" stroke-width="1.1" />
<text x="38.20" y="381.80" font-size="8.6" text-anchor="end" fill="#333" textLength="8.78" lengthAdjust="spacingAndGlyphs" >60</text>
<line x1="41.30" y1="355.10" x2="44.30" y2="355.10" stroke="#2e2e2e" stroke-width="1.1" />
<text x="38.20" y="357.45" font-size="8.6" text-anchor="end" fill="#333" textLength="8.78" lengthAdjust="spacingAndGlyphs" >80</text>
<line x1="51.50" y1="452.50" x2="51.50" y2="455.30" stroke="#2e2e2e" stroke-width="1.1" />
<line x1="65.94" y1="452.50" x2="65.94" y2="455.30" stroke="#2e2e2e" stroke-width="1.1" />
<line x1="80.38" y1="452.50" x2="80.38" y2="455.30" stroke="#2e2e2e" stroke-width="1.1" />
<line x1="94.82" y1="452.50" x2="94.82" y2="455.30" stroke="#2e2e2e" stroke-width="1.1" />
<line x1="109.26" y1="452.50" x2="109.26" y2="455.30" stroke="#2e2e2e" stroke-width="1.1" />
<line x1="123.70" y1="452.50" x2="123.70" y2="455.30" stroke="#2e2e2e" stroke-width="1.1" />
<line x1="138.14" y1="452.50" x2="138.14" y2="455.30" stroke="#2e2e2e" stroke-width="1.1" />
<line x1="152.58" y1="452.50" x2="152.58" y2="455.30" stroke="#2e2e2e" stroke-width="1.1" />
<line x1="167.02" y1="452.50" x2="167.02" y2="455.30" stroke="#2e2e2e" stroke-width="1.1" />
<line x1="181.46" y1="452.50" x2="181.46" y2="455.30" stroke="#2e2e2e" stroke-width="1.1" />
<line x1="195.90" y1="452.50" x2="195.90" y2="455.30" stroke="#2e2e2e" stroke-width="1.1" />
<line x1="210.34" y1="452.50" x2="210.34" y2="455.30" stroke="#2e2e2e" stroke-width="1.1" />
<line x1="131.4" y1="350.5" x2="131.4" y2="452" stroke="#555" stroke-width="1" stroke-dasharray="1 1.05"/>
<text x="23.90" y="404.20" font-size="8.5" text-anchor="middle" fill="#333" textLength="35.4" lengthAdjust="spacingAndGlyphs" transform="rotate(-90 23.90 404.20)" >% of CD3+</text>
<text x="91.10" y="350.00" font-size="9.2" text-anchor="middle" fill="#222" textLength="24.6" lengthAdjust="spacingAndGlyphs" >CD4+</text>
<text x="177.80" y="349.60" font-size="9.2" text-anchor="middle" fill="#222" textLength="24.4" lengthAdjust="spacingAndGlyphs" >CD8+</text>
<text x="52.20" y="458.40" font-size="7.8" text-anchor="end" fill="#333" transform="rotate(-45 52.20 458.40)" dominant-baseline="hanging">Vehicle</text>
<text x="66.64" y="458.40" font-size="7.8" text-anchor="end" fill="#333" transform="rotate(-45 66.64 458.40)" dominant-baseline="hanging">Veca</text>
<text x="81.08" y="458.40" font-size="7.8" text-anchor="end" fill="#333" transform="rotate(-45 81.08 458.40)" dominant-baseline="hanging">Ven</text>
<text x="95.52" y="458.40" font-size="7.8" text-anchor="end" fill="#333" transform="rotate(-45 95.52 458.40)" dominant-baseline="hanging">Veca+Ven</text>
<text x="109.96" y="458.40" font-size="7.8" text-anchor="end" fill="#333" transform="rotate(-45 109.96 458.40)" dominant-baseline="hanging">PI</text>
<text x="124.40" y="458.40" font-size="7.8" text-anchor="end" fill="#333" transform="rotate(-45 124.40 458.40)" dominant-baseline="hanging">Veca+PI</text>
<text x="138.84" y="458.40" font-size="7.8" text-anchor="end" fill="#333" transform="rotate(-45 138.84 458.40)" dominant-baseline="hanging">Vehicle</text>
<text x="153.28" y="458.40" font-size="7.8" text-anchor="end" fill="#333" transform="rotate(-45 153.28 458.40)" dominant-baseline="hanging">Veca</text>
<text x="167.72" y="458.40" font-size="7.8" text-anchor="end" fill="#333" transform="rotate(-45 167.72 458.40)" dominant-baseline="hanging">Ven</text>
<text x="182.16" y="458.40" font-size="7.8" text-anchor="end" fill="#333" transform="rotate(-45 182.16 458.40)" dominant-baseline="hanging">Veca+Ven</text>
<text x="196.60" y="458.40" font-size="7.8" text-anchor="end" fill="#333" transform="rotate(-45 196.60 458.40)" dominant-baseline="hanging">PI</text>
<text x="211.04" y="458.40" font-size="7.8" text-anchor="end" fill="#333" transform="rotate(-45 211.04 458.40)" dominant-baseline="hanging">Veca+PI</text>
<line x1="51.50" y1="359.70" x2="88.00" y2="359.70" stroke="#555" stroke-width="1.1" />
<line x1="51.50" y1="357.70" x2="51.50" y2="361.70" stroke="#555" stroke-width="1.1" />
<line x1="88.00" y1="357.70" x2="88.00" y2="361.70" stroke="#555" stroke-width="1.1" />
<line x1="67.95" y1="354.80" x2="67.95" y2="357.40" stroke="#333" stroke-width="0.7" />
<line x1="66.82" y1="355.45" x2="69.08" y2="356.75" stroke="#333" stroke-width="0.7" />
<line x1="69.08" y1="355.45" x2="66.82" y2="356.75" stroke="#333" stroke-width="0.7" />
<line x1="71.55" y1="354.80" x2="71.55" y2="357.40" stroke="#333" stroke-width="0.7" />
<line x1="70.42" y1="355.45" x2="72.68" y2="356.75" stroke="#333" stroke-width="0.7" />
<line x1="72.68" y1="355.45" x2="70.42" y2="356.75" stroke="#333" stroke-width="0.7" />
<line x1="138.30" y1="359.80" x2="174.60" y2="359.80" stroke="#555" stroke-width="1.1" />
<line x1="138.30" y1="357.80" x2="138.30" y2="361.80" stroke="#555" stroke-width="1.1" />
<line x1="174.60" y1="357.80" x2="174.60" y2="361.80" stroke="#555" stroke-width="1.1" />
<line x1="154.65" y1="354.90" x2="154.65" y2="357.50" stroke="#333" stroke-width="0.7" />
<line x1="153.52" y1="355.55" x2="155.78" y2="356.85" stroke="#333" stroke-width="0.7" />
<line x1="155.78" y1="355.55" x2="153.52" y2="356.85" stroke="#333" stroke-width="0.7" />
<line x1="158.25" y1="354.90" x2="158.25" y2="357.50" stroke="#333" stroke-width="0.7" />
<line x1="157.12" y1="355.55" x2="159.38" y2="356.85" stroke="#333" stroke-width="0.7" />
<line x1="159.38" y1="355.55" x2="157.12" y2="356.85" stroke="#333" stroke-width="0.7" />
<path d="M77.20,367.60 L77.20,364.30 L98.40,364.30 L98.40,367.60" fill="none" stroke="#555" stroke-width="1.1"/>
<path d="M163.70,367.60 L163.70,364.40 L185.40,364.40 L185.40,367.60" fill="none" stroke="#555" stroke-width="1.1"/>
<rect x="46.75" y="386.65" width="3.7" height="3.7" fill="#0d4d8d"/>
<rect x="50.15" y="386.35" width="3.7" height="3.7" fill="#0d4d8d"/>
<rect x="53.15" y="387.45" width="3.7" height="3.7" fill="#0d4d8d"/>
<rect x="46.75" y="389.75" width="3.7" height="3.7" fill="#0d4d8d"/>
<rect x="51.75" y="390.35" width="3.7" height="3.7" fill="#0d4d8d"/>
<rect x="49.75" y="391.95" width="3.7" height="3.7" fill="#0d4d8d"/>
<rect x="53.15" y="391.75" width="3.7" height="3.7" fill="#0d4d8d"/>
<line x1="46.90" y1="390.10" x2="56.50" y2="390.10" stroke="#3a3a3a" stroke-width="1.05" />
<rect x="59.15" y="388.15" width="3.7" height="3.7" fill="#cf1133"/>
<rect x="62.65" y="387.15" width="3.7" height="3.7" fill="#cf1133"/>
<rect x="65.65" y="388.15" width="3.7" height="3.7" fill="#cf1133"/>
<rect x="58.65" y="391.15" width="3.7" height="3.7" fill="#cf1133"/>
<rect x="62.15" y="392.95" width="3.7" height="3.7" fill="#cf1133"/>
<rect x="67.65" y="392.65" width="3.7" height="3.7" fill="#cf1133"/>
<rect x="64.65" y="390.65" width="3.7" height="3.7" fill="#cf1133"/>
<line x1="58.80" y1="391.40" x2="71.10" y2="391.40" stroke="#3a3a3a" stroke-width="1.05" />
<rect x="78.45" y="369.45" width="3.7" height="3.7" fill="#2db143"/>
<rect x="75.15" y="372.15" width="3.7" height="3.7" fill="#2db143"/>
<rect x="78.45" y="372.15" width="3.7" height="3.7" fill="#2db143"/>
<rect x="81.95" y="372.15" width="3.7" height="3.7" fill="#2db143"/>
<rect x="76.65" y="374.15" width="3.7" height="3.7" fill="#2db143"/>
<rect x="80.65" y="374.15" width="3.7" height="3.7" fill="#2db143"/>
<rect x="78.45" y="382.95" width="3.7" height="3.7" fill="#2db143"/>
<line x1="75.10" y1="375.60" x2="85.50" y2="375.60" stroke="#3a3a3a" stroke-width="1.05" />
<rect x="89.95" y="370.15" width="3.7" height="3.7" fill="#4c1d74"/>
<rect x="93.15" y="369.75" width="3.7" height="3.7" fill="#4c1d74"/>
<rect x="96.45" y="370.35" width="3.7" height="3.7" fill="#4c1d74"/>
<rect x="91.65" y="372.35" width="3.7" height="3.7" fill="#4c1d74"/>
<rect x="94.95" y="372.35" width="3.7" height="3.7" fill="#4c1d74"/>
<line x1="89.90" y1="372.80" x2="100.20" y2="372.80" stroke="#3a3a3a" stroke-width="1.05" />
<rect x="102.15" y="391.75" width="3.7" height="3.7" fill="#f7921e"/>
<rect x="105.15" y="390.95" width="3.7" height="3.7" fill="#f7921e"/>
<rect x="108.15" y="391.15" width="3.7" height="3.7" fill="#f7921e"/>
<rect x="102.65" y="395.15" width="3.7" height="3.7" fill="#f7921e"/>
<rect x="106.15" y="395.95" width="3.7" height="3.7" fill="#f7921e"/>
<rect x="110.45" y="394.95" width="3.7" height="3.7" fill="#f7921e"/>
<line x1="104.00" y1="395.40" x2="114.50" y2="395.40" stroke="#3a3a3a" stroke-width="1.05" />
<rect x="118.95" y="391.35" width="3.7" height="3.7" fill="#0a6b4f"/>
<rect x="121.65" y="390.75" width="3.7" height="3.7" fill="#0a6b4f"/>
<rect x="124.85" y="391.75" width="3.7" height="3.7" fill="#0a6b4f"/>
<rect x="118.95" y="394.75" width="3.7" height="3.7" fill="#0a6b4f"/>
<rect x="122.45" y="395.45" width="3.7" height="3.7" fill="#0a6b4f"/>
<rect x="125.15" y="394.95" width="3.7" height="3.7" fill="#0a6b4f"/>
<line x1="118.80" y1="395.40" x2="128.90" y2="395.40" stroke="#3a3a3a" stroke-width="1.05" />
<rect x="133.35" y="415.05" width="3.7" height="3.7" fill="#0d4d8d"/>
<rect x="133.35" y="416.95" width="3.7" height="3.7" fill="#0d4d8d"/>
<rect x="139.15" y="415.05" width="3.7" height="3.7" fill="#0d4d8d"/>
<rect x="139.15" y="420.65" width="3.7" height="3.7" fill="#0d4d8d"/>
<rect x="136.45" y="426.65" width="3.7" height="3.7" fill="#0d4d8d"/>
<line x1="133.20" y1="420.50" x2="143.60" y2="420.50" stroke="#3a3a3a" stroke-width="1.05" />
<rect x="147.95" y="412.75" width="3.7" height="3.7" fill="#cf1133"/>
<rect x="153.55" y="414.25" width="3.7" height="3.7" fill="#cf1133"/>
<rect x="145.45" y="416.55" width="3.7" height="3.7" fill="#cf1133"/>
<rect x="153.55" y="418.85" width="3.7" height="3.7" fill="#cf1133"/>
<rect x="147.95" y="419.75" width="3.7" height="3.7" fill="#cf1133"/>
<rect x="150.75" y="414.65" width="3.7" height="3.7" fill="#cf1133"/>
<line x1="145.60" y1="418.40" x2="157.70" y2="418.40" stroke="#3a3a3a" stroke-width="1.05" />
<rect x="165.05" y="433.05" width="3.7" height="3.7" fill="#2db143"/>
<rect x="161.95" y="436.75" width="3.7" height="3.7" fill="#2db143"/>
<rect x="165.05" y="436.75" width="3.7" height="3.7" fill="#2db143"/>
<rect x="168.15" y="436.75" width="3.7" height="3.7" fill="#2db143"/>
<rect x="165.05" y="440.25" width="3.7" height="3.7" fill="#2db143"/>
<line x1="162.30" y1="438.40" x2="171.50" y2="438.40" stroke="#3a3a3a" stroke-width="1.05" />
<rect x="177.15" y="436.05" width="3.7" height="3.7" fill="#4c1d74"/>
<rect x="180.15" y="435.65" width="3.7" height="3.7" fill="#4c1d74"/>
<rect x="183.15" y="437.15" width="3.7" height="3.7" fill="#4c1d74"/>
<rect x="178.65" y="439.15" width="3.7" height="3.7" fill="#4c1d74"/>
<rect x="181.65" y="439.15" width="3.7" height="3.7" fill="#4c1d74"/>
<line x1="176.70" y1="439.80" x2="186.50" y2="439.80" stroke="#3a3a3a" stroke-width="1.05" />
<rect x="194.25" y="407.65" width="3.7" height="3.7" fill="#f7921e"/>
<rect x="191.05" y="410.55" width="3.7" height="3.7" fill="#f7921e"/>
<rect x="197.25" y="411.55" width="3.7" height="3.7" fill="#f7921e"/>
<rect x="191.05" y="413.55" width="3.7" height="3.7" fill="#f7921e"/>
<rect x="197.25" y="414.15" width="3.7" height="3.7" fill="#f7921e"/>
<rect x="194.25" y="422.05" width="3.7" height="3.7" fill="#f7921e"/>
<line x1="191.20" y1="414.90" x2="201.70" y2="414.90" stroke="#3a3a3a" stroke-width="1.05" />
<rect x="206.15" y="408.15" width="3.7" height="3.7" fill="#0a6b4f"/>
<rect x="209.15" y="408.05" width="3.7" height="3.7" fill="#0a6b4f"/>
<rect x="211.65" y="408.75" width="3.7" height="3.7" fill="#0a6b4f"/>
<rect x="205.65" y="411.65" width="3.7" height="3.7" fill="#0a6b4f"/>
<rect x="208.75" y="412.95" width="3.7" height="3.7" fill="#0a6b4f"/>
<rect x="211.95" y="411.75" width="3.7" height="3.7" fill="#0a6b4f"/>
<line x1="205.30" y1="412.10" x2="215.40" y2="412.10" stroke="#3a3a3a" stroke-width="1.05" />
<text x="333.05" y="187.20" font-size="9.5" text-anchor="middle" fill="#1e1e1e" >Vehicle</text>
<circle cx="357.5" cy="204.6" r="0.45" fill="#a2a3bd"/>
<circle cx="332.7" cy="221.7" r="0.45" fill="#a2a3bd"/>
<circle cx="321.0" cy="243.6" r="0.45" fill="#a2a3bd"/>
<circle cx="352.4" cy="210.3" r="0.45" fill="#a2a3bd"/>
<circle cx="291.9" cy="256.0" r="0.45" fill="#a2a3bd"/>
<circle cx="300.3" cy="273.6" r="0.45" fill="#a2a3bd"/>
<circle cx="290.6" cy="196.4" r="0.45" fill="#a2a3bd"/>
<circle cx="356.7" cy="216.9" r="0.45" fill="#a2a3bd"/>
<circle cx="343.2" cy="222.7" r="0.45" fill="#a2a3bd"/>
<circle cx="332.8" cy="226.6" r="0.45" fill="#a2a3bd"/>
<circle cx="346.8" cy="229.7" r="0.45" fill="#a2a3bd"/>
<circle cx="345.2" cy="223.7" r="0.45" fill="#a2a3bd"/>
<circle cx="312.4" cy="262.9" r="0.45" fill="#a2a3bd"/>
<circle cx="369.6" cy="220.2" r="0.45" fill="#a2a3bd"/>
<circle cx="336.3" cy="238.0" r="0.45" fill="#a2a3bd"/>
<circle cx="326.4" cy="255.2" r="0.45" fill="#a2a3bd"/>
<circle cx="316.6" cy="251.0" r="0.45" fill="#a2a3bd"/>
<circle cx="363.0" cy="205.7" r="0.45" fill="#a2a3bd"/>
<circle cx="343.1" cy="219.6" r="0.45" fill="#a2a3bd"/>
<circle cx="349.4" cy="209.4" r="0.45" fill="#a2a3bd"/>
<circle cx="328.0" cy="215.7" r="0.45" fill="#a2a3bd"/>
<circle cx="305.7" cy="255.8" r="0.45" fill="#a2a3bd"/>
<circle cx="348.4" cy="207.0" r="0.45" fill="#a2a3bd"/>
<circle cx="342.9" cy="221.5" r="0.45" fill="#a2a3bd"/>
<circle cx="340.0" cy="225.8" r="0.45" fill="#a2a3bd"/>
<circle cx="366.3" cy="219.0" r="0.45" fill="#a2a3bd"/>
<circle cx="351.4" cy="214.6" r="0.45" fill="#a2a3bd"/>
<circle cx="360.9" cy="216.7" r="0.45" fill="#a2a3bd"/>
<circle cx="344.0" cy="236.3" r="0.45" fill="#a2a3bd"/>
<circle cx="288.3" cy="258.7" r="0.45" fill="#a2a3bd"/>
<circle cx="324.6" cy="266.4" r="0.45" fill="#a2a3bd"/>
<circle cx="311.0" cy="260.1" r="0.45" fill="#a2a3bd"/>
<circle cx="368.5" cy="229.7" r="0.45" fill="#a2a3bd"/>
<circle cx="350.2" cy="234.8" r="0.45" fill="#a2a3bd"/>
<circle cx="338.9" cy="230.0" r="0.45" fill="#a2a3bd"/>
<circle cx="334.0" cy="209.7" r="0.45" fill="#a2a3bd"/>
<circle cx="354.3" cy="222.8" r="0.45" fill="#a2a3bd"/>
<circle cx="325.2" cy="209.2" r="0.45" fill="#a2a3bd"/>
<circle cx="321.3" cy="269.0" r="0.45" fill="#a2a3bd"/>
<circle cx="355.6" cy="206.3" r="0.45" fill="#a2a3bd"/>
<circle cx="347.8" cy="221.5" r="0.45" fill="#a2a3bd"/>
<circle cx="301.0" cy="244.2" r="0.45" fill="#a2a3bd"/>
<circle cx="304.5" cy="242.7" r="0.45" fill="#a2a3bd"/>
<circle cx="338.6" cy="220.1" r="0.45" fill="#a2a3bd"/>
<circle cx="342.6" cy="208.5" r="0.45" fill="#a2a3bd"/>
<circle cx="343.2" cy="221.7" r="0.45" fill="#a2a3bd"/>
<circle cx="339.0" cy="225.0" r="0.45" fill="#a2a3bd"/>
<circle cx="357.4" cy="212.9" r="0.45" fill="#a2a3bd"/>
<circle cx="328.4" cy="207.7" r="0.45" fill="#a2a3bd"/>
<circle cx="352.5" cy="222.1" r="0.45" fill="#a2a3bd"/>
<circle cx="297.7" cy="265.1" r="0.45" fill="#a2a3bd"/>
<circle cx="312.0" cy="248.1" r="0.45" fill="#a2a3bd"/>
<circle cx="360.8" cy="236.8" r="0.45" fill="#a2a3bd"/>
<circle cx="338.6" cy="211.6" r="0.45" fill="#a2a3bd"/>
<circle cx="338.5" cy="236.6" r="0.45" fill="#a2a3bd"/>
<circle cx="336.3" cy="251.3" r="0.45" fill="#a2a3bd"/>
<circle cx="315.8" cy="264.9" r="0.45" fill="#a2a3bd"/>
<circle cx="364.2" cy="213.9" r="0.45" fill="#a2a3bd"/>
<circle cx="345.8" cy="222.9" r="0.45" fill="#a2a3bd"/>
<circle cx="291.3" cy="261.7" r="0.45" fill="#a2a3bd"/>
<circle cx="340.0" cy="208.4" r="0.45" fill="#a2a3bd"/>
<circle cx="376.9" cy="252.2" r="0.45" fill="#a2a3bd"/>
<circle cx="337.8" cy="229.0" r="0.45" fill="#a2a3bd"/>
<circle cx="339.9" cy="209.9" r="0.45" fill="#a2a3bd"/>
<circle cx="359.9" cy="232.1" r="0.45" fill="#a2a3bd"/>
<circle cx="335.2" cy="221.3" r="0.45" fill="#a2a3bd"/>
<circle cx="370.1" cy="195.8" r="0.45" fill="#a2a3bd"/>
<circle cx="329.2" cy="252.5" r="0.45" fill="#a2a3bd"/>
<circle cx="304.3" cy="247.8" r="0.45" fill="#a2a3bd"/>
<circle cx="322.8" cy="273.1" r="0.45" fill="#a2a3bd"/>
<circle cx="359.3" cy="209.0" r="0.45" fill="#a2a3bd"/>
<circle cx="354.5" cy="220.5" r="0.45" fill="#a2a3bd"/>
<circle cx="294.9" cy="246.3" r="0.45" fill="#a2a3bd"/>
<circle cx="307.3" cy="256.7" r="0.45" fill="#a2a3bd"/>
<circle cx="322.9" cy="253.3" r="0.45" fill="#a2a3bd"/>
<circle cx="339.6" cy="244.6" r="0.45" fill="#a2a3bd"/>
<circle cx="327.1" cy="271.5" r="0.45" fill="#a2a3bd"/>
<circle cx="340.5" cy="219.5" r="0.45" fill="#a2a3bd"/>
<circle cx="367.4" cy="232.0" r="0.45" fill="#a2a3bd"/>
<circle cx="322.5" cy="252.3" r="0.45" fill="#a2a3bd"/>
<circle cx="320.7" cy="253.6" r="0.45" fill="#a2a3bd"/>
<circle cx="346.6" cy="226.2" r="0.45" fill="#a2a3bd"/>
<circle cx="357.8" cy="211.5" r="0.45" fill="#a2a3bd"/>
<circle cx="329.7" cy="217.1" r="0.45" fill="#a2a3bd"/>
<circle cx="322.4" cy="240.7" r="0.45" fill="#a2a3bd"/>
<circle cx="295.2" cy="244.4" r="0.45" fill="#a2a3bd"/>
<circle cx="291.5" cy="214.0" r="0.45" fill="#a2a3bd"/>
<circle cx="326.3" cy="203.8" r="0.45" fill="#a2a3bd"/>
<circle cx="346.9" cy="241.1" r="0.45" fill="#a2a3bd"/>
<circle cx="355.7" cy="215.1" r="0.45" fill="#a2a3bd"/>
<circle cx="371.0" cy="218.5" r="0.45" fill="#a2a3bd"/>
<circle cx="340.3" cy="222.1" r="0.45" fill="#a2a3bd"/>
<circle cx="293.3" cy="240.7" r="0.45" fill="#a2a3bd"/>
<circle cx="314.8" cy="243.3" r="0.45" fill="#a2a3bd"/>
<circle cx="344.1" cy="225.3" r="0.45" fill="#a2a3bd"/>
<circle cx="376.5" cy="274.0" r="0.45" fill="#a2a3bd"/>
<circle cx="349.4" cy="237.5" r="0.45" fill="#a2a3bd"/>
<circle cx="337.5" cy="250.9" r="0.45" fill="#a2a3bd"/>
<circle cx="301.4" cy="259.4" r="0.45" fill="#a2a3bd"/>
<circle cx="345.9" cy="226.2" r="0.45" fill="#a2a3bd"/>
<circle cx="358.8" cy="219.9" r="0.45" fill="#a2a3bd"/>
<circle cx="315.6" cy="273.4" r="0.45" fill="#a2a3bd"/>
<circle cx="342.1" cy="231.3" r="0.45" fill="#a2a3bd"/>
<circle cx="360.4" cy="200.5" r="0.45" fill="#a2a3bd"/>
<circle cx="338.2" cy="234.3" r="0.45" fill="#a2a3bd"/>
<circle cx="338.4" cy="216.2" r="0.45" fill="#a2a3bd"/>
<circle cx="346.0" cy="225.9" r="0.45" fill="#a2a3bd"/>
<circle cx="350.1" cy="223.3" r="0.45" fill="#a2a3bd"/>
<circle cx="302.6" cy="268.2" r="0.45" fill="#a2a3bd"/>
<circle cx="302.3" cy="240.6" r="0.9" fill="#6c6cd0"/>
<circle cx="308.8" cy="260.4" r="0.9" fill="#6c6cd0"/>
<path d="M329.83,224.56 C329.18,225.46 328.48,226.27 327.58,226.96 C326.69,227.65 325.14,228.01 324.48,228.73 C323.82,229.45 324.33,230.60 323.61,231.29 C322.89,231.98 321.38,232.35 320.17,232.87 C318.95,233.40 317.75,234.16 316.32,234.44 C314.90,234.72 313.16,234.59 311.60,234.55 C310.04,234.51 308.81,234.11 306.98,234.22 C305.16,234.33 302.36,235.41 300.65,235.19 C298.94,234.97 297.45,233.84 296.74,232.89 C296.03,231.94 296.55,230.48 296.37,229.49 C296.19,228.50 296.05,227.77 295.67,226.95 C295.29,226.13 294.62,225.44 294.08,224.56 C293.54,223.68 292.50,222.65 292.44,221.68 C292.37,220.72 292.38,219.34 293.68,218.76 C294.98,218.18 298.40,218.33 300.26,218.20 C302.11,218.07 303.53,218.19 304.81,217.97 C306.09,217.75 306.80,217.29 307.93,216.89 C309.07,216.49 310.17,215.98 311.60,215.54 C313.03,215.10 314.89,214.34 316.52,214.26 C318.15,214.19 319.70,214.76 321.37,215.08 C323.03,215.40 325.12,215.60 326.50,216.21 C327.89,216.81 328.87,217.81 329.70,218.70 C330.53,219.60 331.47,220.60 331.49,221.57 C331.51,222.55 330.48,223.66 329.83,224.56 Z" fill="none" stroke="#6d6ad0" stroke-width="0.6" />
<path d="M326.36,224.22 C326.34,224.93 325.79,225.69 325.24,226.33 C324.68,226.97 323.70,227.48 323.03,228.08 C322.37,228.68 321.99,229.35 321.24,229.94 C320.50,230.54 319.57,231.07 318.56,231.63 C317.54,232.20 316.46,233.16 315.14,233.33 C313.81,233.50 312.00,232.89 310.60,232.67 C309.20,232.45 307.83,232.39 306.72,232.01 C305.61,231.64 305.29,230.65 303.94,230.43 C302.58,230.21 299.96,230.95 298.58,230.69 C297.21,230.42 296.48,229.52 295.70,228.85 C294.91,228.17 293.81,227.40 293.87,226.63 C293.92,225.86 295.58,224.96 296.05,224.22 C296.51,223.48 296.66,222.97 296.64,222.21 C296.61,221.44 295.46,220.34 295.88,219.65 C296.29,218.95 297.89,218.42 299.13,218.05 C300.38,217.68 302.03,217.63 303.34,217.45 C304.65,217.27 305.78,217.06 306.99,216.98 C308.20,216.89 309.33,217.08 310.60,216.94 C311.87,216.81 313.00,216.45 314.61,216.16 C316.23,215.87 318.72,215.06 320.27,215.21 C321.83,215.35 323.30,216.24 323.94,217.04 C324.58,217.85 323.87,219.18 324.11,220.02 C324.35,220.86 325.01,221.39 325.38,222.09 C325.76,222.79 326.39,223.51 326.36,224.22 Z" fill="none" stroke="#6d6ad0" stroke-width="0.5" />
<path d="M325.48,227.45 C325.38,227.89 324.93,228.24 324.98,228.74 C325.03,229.24 326.01,229.99 325.78,230.46 C325.54,230.93 324.42,231.28 323.59,231.56 C322.76,231.85 321.73,232.01 320.81,232.16 C319.89,232.31 318.98,232.34 318.08,232.47 C317.18,232.60 316.29,232.94 315.40,232.94 C314.51,232.94 313.46,232.75 312.71,232.49 C311.96,232.23 311.59,231.64 310.89,231.38 C310.18,231.11 309.30,231.12 308.50,230.91 C307.70,230.71 307.07,230.44 306.09,230.15 C305.11,229.86 303.26,229.62 302.63,229.17 C302.00,228.72 302.14,228.00 302.33,227.45 C302.51,226.90 303.22,226.36 303.74,225.88 C304.26,225.40 304.85,224.98 305.42,224.56 C306.00,224.13 306.51,223.70 307.17,223.32 C307.84,222.93 308.50,222.41 309.42,222.25 C310.34,222.09 311.69,222.19 312.69,222.36 C313.68,222.54 314.52,223.24 315.40,223.29 C316.28,223.34 317.00,222.80 317.96,222.66 C318.92,222.51 319.98,222.44 321.17,222.43 C322.37,222.41 324.24,222.26 325.13,222.56 C326.02,222.86 326.43,223.64 326.50,224.23 C326.58,224.82 325.77,225.54 325.60,226.08 C325.43,226.61 325.58,227.01 325.48,227.45 Z" fill="none" stroke="#6d6ad0" stroke-width="0.45" />
<g filter="url(#bl)">
<path d="M324.32,223.71 C324.45,224.35 324.90,225.00 324.91,225.68 C324.92,226.36 324.86,227.14 324.37,227.79 C323.89,228.43 322.96,229.04 322.00,229.52 C321.03,230.00 319.77,230.37 318.56,230.67 C317.36,230.96 316.06,231.20 314.78,231.30 C313.51,231.41 312.13,231.42 310.90,231.29 C309.67,231.16 308.48,230.83 307.40,230.55 C306.33,230.26 305.47,229.87 304.45,229.57 C303.43,229.27 302.39,229.07 301.28,228.75 C300.17,228.43 298.75,228.15 297.81,227.67 C296.86,227.19 295.94,226.52 295.60,225.86 C295.27,225.20 295.54,224.39 295.80,223.71 C296.07,223.03 296.78,222.42 297.18,221.78 C297.59,221.15 297.82,220.54 298.24,219.88 C298.66,219.23 298.93,218.41 299.72,217.85 C300.51,217.29 301.72,216.74 302.97,216.52 C304.22,216.29 305.91,216.43 307.23,216.53 C308.55,216.63 309.72,217.00 310.90,217.10 C312.08,217.19 313.03,217.13 314.28,217.10 C315.53,217.07 317.06,216.80 318.40,216.91 C319.73,217.01 321.33,217.28 322.28,217.75 C323.23,218.22 323.77,219.04 324.08,219.72 C324.39,220.41 324.09,221.19 324.13,221.85 C324.17,222.52 324.19,223.07 324.32,223.71 Z" fill="#bfe6f6" stroke="none" stroke-width="0" />
<path d="M321.59,223.37 C321.85,223.89 322.05,224.49 321.96,225.04 C321.86,225.59 321.50,226.18 321.02,226.69 C320.54,227.20 319.85,227.70 319.08,228.12 C318.31,228.54 317.40,228.95 316.41,229.20 C315.42,229.45 314.23,229.61 313.14,229.63 C312.06,229.65 310.91,229.47 309.90,229.32 C308.89,229.18 308.04,228.93 307.10,228.77 C306.16,228.62 305.26,228.56 304.27,228.41 C303.29,228.26 302.07,228.17 301.19,227.87 C300.32,227.57 299.42,227.11 299.01,226.62 C298.59,226.13 298.65,225.47 298.69,224.92 C298.72,224.38 299.16,223.88 299.23,223.37 C299.30,222.86 299.18,222.43 299.11,221.88 C299.04,221.32 298.66,220.66 298.84,220.07 C299.02,219.48 299.43,218.78 300.19,218.35 C300.94,217.92 302.23,217.65 303.34,217.49 C304.45,217.34 305.73,217.45 306.83,217.44 C307.92,217.43 308.87,217.45 309.90,217.44 C310.93,217.43 311.98,217.31 313.00,217.38 C314.02,217.46 315.17,217.59 316.03,217.88 C316.88,218.17 317.58,218.67 318.12,219.12 C318.66,219.57 318.90,220.10 319.28,220.57 C319.65,221.04 320.01,221.45 320.39,221.92 C320.78,222.38 321.33,222.85 321.59,223.37 Z" fill="#72c9ef" stroke="none" stroke-width="0" />
<path d="M319.55,223.28 C319.25,223.73 318.56,224.12 318.10,224.48 C317.65,224.85 317.20,225.15 316.82,225.50 C316.43,225.85 316.23,226.25 315.79,226.60 C315.35,226.95 314.85,227.37 314.18,227.63 C313.52,227.89 312.63,228.07 311.80,228.16 C310.96,228.25 310.05,228.20 309.20,228.17 C308.35,228.14 307.53,228.07 306.70,227.97 C305.88,227.88 305.02,227.78 304.26,227.59 C303.50,227.40 302.74,227.14 302.15,226.83 C301.56,226.53 301.12,226.12 300.73,225.74 C300.35,225.36 300.09,224.96 299.84,224.55 C299.58,224.14 299.30,223.72 299.20,223.28 C299.09,222.85 299.02,222.37 299.22,221.94 C299.43,221.51 299.88,221.08 300.41,220.73 C300.94,220.39 301.72,220.12 302.41,219.87 C303.10,219.62 303.82,219.43 304.54,219.23 C305.27,219.03 305.97,218.81 306.74,218.67 C307.52,218.54 308.38,218.42 309.20,218.42 C310.02,218.42 310.88,218.55 311.65,218.69 C312.42,218.82 313.10,219.05 313.84,219.24 C314.58,219.43 315.33,219.59 316.10,219.81 C316.87,220.04 317.83,220.26 318.46,220.60 C319.09,220.93 319.71,221.40 319.90,221.84 C320.08,222.29 319.85,222.84 319.55,223.28 Z" fill="#48b0e6" stroke="none" stroke-width="0" />
<ellipse cx="308.80" cy="223.28" rx="8.00" ry="3.91" fill="#80c440" />
<ellipse cx="308.98" cy="223.20" rx="4.60" ry="2.21" fill="#dfe07a" />
<ellipse cx="307.70" cy="223.20" rx="2.40" ry="1.53" fill="#ec2f2a" />
</g>
<path d="M324.32,223.71 C324.45,224.35 324.90,225.00 324.91,225.68 C324.92,226.36 324.86,227.14 324.37,227.79 C323.89,228.43 322.96,229.04 322.00,229.52 C321.03,230.00 319.77,230.37 318.56,230.67 C317.36,230.96 316.06,231.20 314.78,231.30 C313.51,231.41 312.13,231.42 310.90,231.29 C309.67,231.16 308.48,230.83 307.40,230.55 C306.33,230.26 305.47,229.87 304.45,229.57 C303.43,229.27 302.39,229.07 301.28,228.75 C300.17,228.43 298.75,228.15 297.81,227.67 C296.86,227.19 295.94,226.52 295.60,225.86 C295.27,225.20 295.54,224.39 295.80,223.71 C296.07,223.03 296.78,222.42 297.18,221.78 C297.59,221.15 297.82,220.54 298.24,219.88 C298.66,219.23 298.93,218.41 299.72,217.85 C300.51,217.29 301.72,216.74 302.97,216.52 C304.22,216.29 305.91,216.43 307.23,216.53 C308.55,216.63 309.72,217.00 310.90,217.10 C312.08,217.19 313.03,217.13 314.28,217.10 C315.53,217.07 317.06,216.80 318.40,216.91 C319.73,217.01 321.33,217.28 322.28,217.75 C323.23,218.22 323.77,219.04 324.08,219.72 C324.39,220.41 324.09,221.19 324.13,221.85 C324.17,222.52 324.19,223.07 324.32,223.71 Z" fill="none" stroke="#6f86d8" stroke-width="0.45" />
<path d="M321.73,223.37 C321.81,223.91 321.79,224.48 321.57,225.01 C321.35,225.54 320.94,226.08 320.43,226.56 C319.92,227.04 319.26,227.51 318.52,227.90 C317.78,228.29 316.91,228.65 315.99,228.91 C315.08,229.18 314.03,229.36 313.02,229.48 C312.00,229.60 310.95,229.63 309.90,229.64 C308.85,229.66 307.80,229.64 306.74,229.57 C305.67,229.49 304.52,229.41 303.50,229.19 C302.49,228.97 301.41,228.65 300.63,228.24 C299.84,227.83 299.23,227.27 298.78,226.74 C298.34,226.21 298.16,225.61 297.96,225.05 C297.77,224.49 297.63,223.93 297.60,223.37 C297.56,222.81 297.49,222.20 297.75,221.66 C298.01,221.12 298.48,220.54 299.16,220.11 C299.84,219.69 300.90,219.38 301.81,219.12 C302.72,218.86 303.74,218.78 304.62,218.56 C305.49,218.35 306.19,218.12 307.07,217.82 C307.95,217.52 308.82,217.05 309.90,216.79 C310.98,216.53 312.35,216.24 313.52,216.27 C314.70,216.29 316.03,216.57 316.96,216.95 C317.89,217.33 318.57,217.98 319.12,218.53 C319.66,219.08 319.90,219.69 320.23,220.24 C320.56,220.78 320.84,221.27 321.09,221.79 C321.35,222.32 321.65,222.83 321.73,223.37 Z" fill="none" stroke="#5e9ae0" stroke-width="0.35" />
<g filter="url(#bl)">
<path d="M333.81,268.50 C334.22,268.83 334.54,269.20 334.39,269.55 C334.24,269.90 333.66,270.26 332.91,270.59 C332.15,270.91 331.07,271.22 329.86,271.48 C328.65,271.75 327.21,272.00 325.65,272.16 C324.09,272.32 322.22,272.42 320.51,272.43 C318.80,272.45 316.99,272.33 315.40,272.24 C313.81,272.15 312.47,271.99 310.99,271.90 C309.51,271.80 308.08,271.76 306.53,271.67 C304.98,271.57 303.07,271.52 301.69,271.33 C300.31,271.14 298.90,270.85 298.24,270.54 C297.58,270.24 297.68,269.82 297.74,269.48 C297.80,269.14 298.49,268.82 298.60,268.50 C298.71,268.18 298.51,267.91 298.41,267.56 C298.30,267.21 297.69,266.79 297.98,266.42 C298.26,266.05 298.92,265.61 300.10,265.34 C301.28,265.07 303.32,264.90 305.07,264.81 C306.81,264.71 308.84,264.78 310.56,264.77 C312.28,264.77 313.78,264.78 315.40,264.77 C317.02,264.77 318.68,264.69 320.29,264.74 C321.89,264.78 323.71,264.87 325.05,265.05 C326.39,265.23 327.49,265.55 328.35,265.83 C329.20,266.11 329.57,266.45 330.17,266.74 C330.76,267.03 331.32,267.29 331.92,267.59 C332.53,267.88 333.40,268.17 333.81,268.50 Z" fill="#dcf0fa" stroke="none" stroke-width="0" />
</g>
<path d="M328.85,268.50 C329.19,268.83 330.45,269.13 331.10,269.54 C331.76,269.96 332.89,270.53 332.80,270.98 C332.70,271.43 331.93,272.01 330.53,272.26 C329.14,272.50 326.21,272.36 324.42,272.46 C322.62,272.56 321.34,272.71 319.75,272.85 C318.16,272.99 316.50,273.33 314.90,273.31 C313.30,273.30 311.50,273.01 310.13,272.78 C308.77,272.54 307.79,272.17 306.71,271.91 C305.63,271.65 304.88,271.41 303.63,271.21 C302.38,271.00 300.25,270.94 299.19,270.68 C298.12,270.42 297.65,270.00 297.22,269.64 C296.80,269.27 296.61,268.88 296.65,268.50 C296.68,268.12 297.20,267.77 297.44,267.38 C297.67,266.99 297.59,266.56 298.05,266.16 C298.52,265.76 299.08,265.27 300.24,264.98 C301.40,264.68 303.35,264.49 305.03,264.40 C306.71,264.30 308.68,264.29 310.33,264.40 C311.97,264.51 313.44,264.98 314.90,265.03 C316.36,265.09 317.40,264.86 319.11,264.73 C320.81,264.60 323.16,264.26 325.13,264.25 C327.09,264.23 329.96,264.31 330.91,264.65 C331.86,265.00 331.13,265.80 330.83,266.29 C330.52,266.78 329.41,267.22 329.08,267.59 C328.75,267.96 328.51,268.17 328.85,268.50 Z" fill="none" stroke="#6d6ad0" stroke-width="0.55" />
<path d="M326.26,268.70 C326.55,268.93 327.97,269.18 328.30,269.45 C328.63,269.71 328.52,270.03 328.23,270.30 C327.93,270.57 327.48,270.92 326.54,271.09 C325.60,271.26 323.82,271.24 322.60,271.31 C321.39,271.38 320.38,271.47 319.26,271.52 C318.15,271.58 316.92,271.73 315.90,271.64 C314.88,271.56 313.94,271.19 313.16,271.00 C312.37,270.82 312.09,270.61 311.20,270.53 C310.31,270.45 309.02,270.57 307.80,270.52 C306.59,270.47 304.88,270.42 303.92,270.25 C302.97,270.09 302.33,269.79 302.05,269.53 C301.77,269.28 301.90,268.96 302.24,268.70 C302.57,268.44 303.53,268.21 304.04,267.99 C304.55,267.76 305.10,267.60 305.30,267.32 C305.50,267.04 304.68,266.54 305.25,266.31 C305.82,266.07 307.47,265.94 308.73,265.91 C310.00,265.88 311.66,266.01 312.86,266.15 C314.05,266.29 314.98,266.68 315.90,266.76 C316.82,266.84 317.20,266.75 318.38,266.62 C319.56,266.48 321.59,266.00 322.97,265.95 C324.34,265.89 325.71,266.10 326.63,266.29 C327.56,266.47 328.51,266.77 328.50,267.06 C328.49,267.36 326.94,267.78 326.57,268.06 C326.20,268.33 325.97,268.47 326.26,268.70 Z" fill="none" stroke="#7487e0" stroke-width="0.5" />
<path d="M324.68,268.40 C324.53,268.59 323.71,268.78 323.12,268.93 C322.52,269.07 321.69,269.17 321.12,269.28 C320.56,269.39 320.01,269.42 319.71,269.60 C319.41,269.78 319.73,270.12 319.33,270.33 C318.93,270.54 318.12,270.80 317.30,270.85 C316.48,270.90 315.20,270.78 314.40,270.64 C313.60,270.49 312.97,270.18 312.53,269.98 C312.09,269.78 312.23,269.52 311.75,269.44 C311.27,269.35 310.59,269.46 309.66,269.47 C308.73,269.48 307.08,269.55 306.18,269.47 C305.28,269.40 304.56,269.19 304.26,269.01 C303.95,268.84 304.29,268.60 304.32,268.40 C304.35,268.20 304.23,267.99 304.44,267.80 C304.64,267.60 304.97,267.39 305.54,267.24 C306.10,267.10 306.96,266.96 307.82,266.91 C308.69,266.87 309.92,266.96 310.72,266.96 C311.52,266.96 312.00,266.93 312.61,266.89 C313.22,266.85 313.70,266.82 314.40,266.74 C315.10,266.65 316.10,266.37 316.80,266.38 C317.50,266.38 318.00,266.65 318.58,266.76 C319.15,266.88 319.73,266.96 320.25,267.08 C320.78,267.19 321.11,267.32 321.73,267.44 C322.36,267.57 323.53,267.66 324.02,267.82 C324.51,267.98 324.83,268.21 324.68,268.40 Z" fill="none" stroke="#8aa4e8" stroke-width="0.45" />
<path d="M325.14,268.10 C324.70,268.23 324.18,268.26 324.09,268.38 C323.99,268.49 324.36,268.59 324.57,268.77 C324.78,268.96 325.40,269.29 325.35,269.49 C325.29,269.69 324.81,269.93 324.24,269.96 C323.67,270.00 322.55,269.78 321.91,269.68 C321.27,269.58 320.81,269.44 320.40,269.34 C319.99,269.24 319.85,269.10 319.46,269.08 C319.08,269.06 318.58,269.20 318.10,269.22 C317.62,269.23 317.09,269.21 316.59,269.17 C316.09,269.13 315.41,269.06 315.11,268.96 C314.81,268.85 314.97,268.66 314.80,268.52 C314.64,268.38 314.27,268.25 314.13,268.10 C313.99,267.95 313.81,267.76 313.96,267.62 C314.12,267.47 314.63,267.34 315.05,267.23 C315.46,267.13 315.97,267.05 316.45,266.99 C316.92,266.93 317.43,266.91 317.90,266.88 C318.36,266.86 318.79,266.90 319.21,266.85 C319.63,266.81 319.99,266.65 320.40,266.64 C320.81,266.63 321.23,266.76 321.64,266.80 C322.06,266.84 322.36,266.88 322.90,266.89 C323.44,266.90 324.35,266.79 324.88,266.84 C325.42,266.89 325.80,267.05 326.10,267.18 C326.41,267.31 326.89,267.47 326.73,267.62 C326.57,267.78 325.59,267.97 325.14,268.10 Z" fill="none" stroke="#8aa4e8" stroke-width="0.4" />
<path d="M352.35,268.10 C352.33,268.66 352.00,269.24 351.60,269.76 C351.19,270.28 350.50,270.74 349.92,271.22 C349.35,271.69 348.83,272.18 348.12,272.62 C347.41,273.07 346.59,273.49 345.66,273.86 C344.73,274.24 343.70,274.76 342.55,274.90 C341.41,275.04 339.99,274.81 338.80,274.70 C337.61,274.59 336.44,274.48 335.40,274.25 C334.37,274.02 333.71,273.52 332.60,273.31 C331.50,273.09 329.83,273.25 328.78,272.96 C327.74,272.67 326.97,272.10 326.33,271.59 C325.69,271.08 325.02,270.49 324.93,269.90 C324.85,269.32 325.59,268.67 325.82,268.10 C326.05,267.53 326.20,267.05 326.32,266.48 C326.44,265.90 326.09,265.19 326.53,264.66 C326.98,264.14 328.02,263.67 328.98,263.33 C329.94,262.99 331.20,262.82 332.29,262.63 C333.39,262.44 334.46,262.30 335.55,262.21 C336.63,262.12 337.67,262.15 338.80,262.07 C339.93,262.00 341.02,261.84 342.30,261.76 C343.58,261.69 345.28,261.46 346.48,261.65 C347.67,261.84 348.81,262.39 349.48,262.91 C350.16,263.44 350.17,264.23 350.54,264.81 C350.91,265.39 351.40,265.87 351.70,266.42 C352.00,266.97 352.37,267.54 352.35,268.10 Z" fill="none" stroke="#6d6ad0" stroke-width="0.6" />
<g filter="url(#bl)">
<path d="M350.98,268.30 C350.61,268.76 349.76,269.18 349.20,269.57 C348.64,269.95 348.10,270.26 347.63,270.63 C347.16,271.01 346.91,271.42 346.37,271.80 C345.83,272.17 345.22,272.61 344.40,272.88 C343.59,273.15 342.50,273.34 341.48,273.44 C340.46,273.54 339.34,273.49 338.30,273.46 C337.26,273.42 336.25,273.35 335.24,273.24 C334.23,273.14 333.18,273.04 332.25,272.84 C331.32,272.64 330.38,272.37 329.66,272.04 C328.95,271.72 328.41,271.30 327.93,270.89 C327.46,270.49 327.15,270.06 326.83,269.63 C326.52,269.20 326.18,268.76 326.05,268.30 C325.93,267.84 325.84,267.33 326.09,266.88 C326.33,266.43 326.89,265.97 327.54,265.61 C328.19,265.24 329.14,264.96 329.99,264.70 C330.83,264.43 331.72,264.23 332.60,264.02 C333.48,263.81 334.34,263.58 335.29,263.43 C336.24,263.29 337.30,263.17 338.30,263.17 C339.30,263.17 340.35,263.31 341.30,263.45 C342.25,263.59 343.08,263.84 343.98,264.03 C344.89,264.23 345.81,264.40 346.75,264.64 C347.69,264.88 348.86,265.11 349.64,265.46 C350.41,265.82 351.17,266.31 351.40,266.78 C351.62,267.25 351.34,267.84 350.98,268.30 Z" fill="#7ccbee" stroke="none" stroke-width="0" />
<path d="M347.53,268.30 C347.58,268.65 347.55,269.02 347.36,269.36 C347.18,269.70 346.85,270.05 346.44,270.36 C346.03,270.67 345.50,270.97 344.91,271.22 C344.31,271.47 343.62,271.70 342.88,271.88 C342.15,272.05 341.32,272.17 340.50,272.25 C339.69,272.33 338.84,272.35 338.00,272.36 C337.16,272.37 336.32,272.35 335.47,272.29 C334.62,272.24 333.72,272.17 332.92,272.02 C332.11,271.87 331.28,271.67 330.66,271.40 C330.03,271.14 329.53,270.79 329.17,270.46 C328.80,270.12 328.63,269.74 328.46,269.38 C328.29,269.02 328.18,268.66 328.16,268.30 C328.13,267.94 328.10,267.55 328.31,267.20 C328.53,266.85 328.90,266.48 329.42,266.21 C329.94,265.93 330.74,265.71 331.45,265.53 C332.15,265.35 332.95,265.27 333.66,265.12 C334.36,264.97 334.96,264.83 335.69,264.65 C336.41,264.48 337.14,264.21 338.00,264.07 C338.86,263.93 339.92,263.79 340.84,263.82 C341.76,263.85 342.78,264.02 343.53,264.25 C344.27,264.49 344.84,264.88 345.30,265.21 C345.77,265.55 346.01,265.93 346.30,266.27 C346.60,266.62 346.84,266.94 347.05,267.28 C347.25,267.61 347.47,267.95 347.53,268.30 Z" fill="#3ea6e4" stroke="none" stroke-width="0" />
<ellipse cx="337.80" cy="268.30" rx="7.44" ry="3.22" fill="#46b858" />
<ellipse cx="338.10" cy="268.30" rx="5.04" ry="2.08" fill="#b9d33a" />
<ellipse cx="338.30" cy="268.30" rx="3.36" ry="1.14" fill="#ee2a20" />
</g>
<path d="M351.29,268.30 C350.92,268.79 350.05,269.23 349.47,269.64 C348.90,270.05 348.34,270.38 347.86,270.77 C347.38,271.16 347.12,271.60 346.57,272.00 C346.02,272.39 345.39,272.85 344.55,273.14 C343.72,273.43 342.60,273.63 341.56,273.74 C340.52,273.84 339.37,273.79 338.30,273.75 C337.23,273.72 336.20,273.64 335.17,273.53 C334.13,273.42 333.05,273.31 332.10,273.10 C331.15,272.89 330.19,272.60 329.45,272.26 C328.71,271.91 328.16,271.47 327.67,271.04 C327.19,270.62 326.87,270.17 326.55,269.71 C326.23,269.25 325.87,268.78 325.74,268.30 C325.62,267.82 325.53,267.27 325.78,266.80 C326.03,266.33 326.60,265.84 327.27,265.45 C327.94,265.07 328.91,264.77 329.78,264.49 C330.64,264.21 331.55,264.00 332.46,263.77 C333.36,263.55 334.24,263.30 335.22,263.15 C336.19,263.00 337.27,262.87 338.30,262.87 C339.33,262.88 340.40,263.02 341.37,263.17 C342.35,263.32 343.20,263.58 344.13,263.79 C345.06,264.00 346.00,264.17 346.96,264.43 C347.93,264.68 349.13,264.92 349.92,265.30 C350.71,265.68 351.49,266.19 351.72,266.69 C351.95,267.19 351.67,267.81 351.29,268.30 Z" fill="none" stroke="#5a72d8" stroke-width="0.45" />
<rect x="288.20" y="205.40" width="36.3" height="31.7" fill="none" stroke="#7c74cc" stroke-width="0.95"/>
<rect x="326.10" y="254.80" width="32.6" height="23.5" fill="none" stroke="#7c74cc" stroke-width="0.95"/>
<text x="287.80" y="203.30" font-size="7.3" text-anchor="start" fill="#2d69a4" textLength="48" lengthAdjust="spacingAndGlyphs" >CD4+(51,59%)</text>
<text x="324.80" y="252.60" font-size="7.3" text-anchor="start" fill="#2d69a4" textLength="48.3" lengthAdjust="spacingAndGlyphs" >CD8+(28,13%)</text>
<rect x="283.80" y="190.30" width="98.5" height="89.2" fill="none" stroke="#1e1e1e" stroke-width="1.35"/>
<line x1="280.40" y1="190.30" x2="283.80" y2="190.30" stroke="#1e1e1e" stroke-width="1.0" />
<line x1="280.40" y1="218.60" x2="283.80" y2="218.60" stroke="#1e1e1e" stroke-width="1.0" />
<line x1="280.40" y1="246.40" x2="283.80" y2="246.40" stroke="#1e1e1e" stroke-width="1.0" />
<line x1="280.40" y1="268.10" x2="283.80" y2="268.10" stroke="#1e1e1e" stroke-width="1.0" />
<line x1="281.80" y1="210.17" x2="283.80" y2="210.17" stroke="#1e1e1e" stroke-width="0.75" />
<line x1="281.80" y1="205.24" x2="283.80" y2="205.24" stroke="#1e1e1e" stroke-width="0.75" />
<line x1="281.80" y1="201.74" x2="283.80" y2="201.74" stroke="#1e1e1e" stroke-width="0.75" />
<line x1="281.80" y1="199.03" x2="283.80" y2="199.03" stroke="#1e1e1e" stroke-width="0.75" />
<line x1="281.80" y1="196.81" x2="283.80" y2="196.81" stroke="#1e1e1e" stroke-width="0.75" />
<line x1="281.80" y1="194.94" x2="283.80" y2="194.94" stroke="#1e1e1e" stroke-width="0.75" />
<line x1="281.80" y1="193.31" x2="283.80" y2="193.31" stroke="#1e1e1e" stroke-width="0.75" />
<line x1="281.80" y1="191.88" x2="283.80" y2="191.88" stroke="#1e1e1e" stroke-width="0.75" />
<line x1="281.80" y1="238.47" x2="283.80" y2="238.47" stroke="#1e1e1e" stroke-width="0.75" />
<line x1="281.80" y1="233.54" x2="283.80" y2="233.54" stroke="#1e1e1e" stroke-width="0.75" />
<line x1="281.80" y1="230.04" x2="283.80" y2="230.04" stroke="#1e1e1e" stroke-width="0.75" />
<line x1="281.80" y1="227.33" x2="283.80" y2="227.33" stroke="#1e1e1e" stroke-width="0.75" />
<line x1="281.80" y1="225.11" x2="283.80" y2="225.11" stroke="#1e1e1e" stroke-width="0.75" />
<line x1="281.80" y1="223.24" x2="283.80" y2="223.24" stroke="#1e1e1e" stroke-width="0.75" />
<line x1="281.80" y1="221.61" x2="283.80" y2="221.61" stroke="#1e1e1e" stroke-width="0.75" />
<line x1="281.80" y1="220.18" x2="283.80" y2="220.18" stroke="#1e1e1e" stroke-width="0.75" />
<line x1="281.80" y1="261.57" x2="283.80" y2="261.57" stroke="#1e1e1e" stroke-width="0.75" />
<line x1="281.80" y1="257.75" x2="283.80" y2="257.75" stroke="#1e1e1e" stroke-width="0.75" />
<line x1="281.80" y1="255.04" x2="283.80" y2="255.04" stroke="#1e1e1e" stroke-width="0.75" />
<line x1="281.80" y1="252.93" x2="283.80" y2="252.93" stroke="#1e1e1e" stroke-width="0.75" />
<line x1="281.80" y1="251.21" x2="283.80" y2="251.21" stroke="#1e1e1e" stroke-width="0.75" />
<line x1="281.80" y1="249.76" x2="283.80" y2="249.76" stroke="#1e1e1e" stroke-width="0.75" />
<line x1="281.80" y1="248.50" x2="283.80" y2="248.50" stroke="#1e1e1e" stroke-width="0.75" />
<line x1="281.80" y1="247.39" x2="283.80" y2="247.39" stroke="#1e1e1e" stroke-width="0.75" />
<line x1="281.80" y1="270.80" x2="283.80" y2="270.80" stroke="#1e1e1e" stroke-width="0.75" />
<line x1="281.80" y1="273.50" x2="283.80" y2="273.50" stroke="#1e1e1e" stroke-width="0.75" />
<line x1="281.80" y1="276.30" x2="283.80" y2="276.30" stroke="#1e1e1e" stroke-width="0.75" />
<text x="276.80" y="193.10" font-size="7.8" text-anchor="end" fill="#2a2a2a">10</text>
<text x="276.80" y="189.90" font-size="6.2" fill="#2a2a2a">6</text>
<text x="276.80" y="221.40" font-size="7.8" text-anchor="end" fill="#2a2a2a">10</text>
<text x="276.80" y="218.20" font-size="6.2" fill="#2a2a2a">5</text>
<text x="276.80" y="249.20" font-size="7.8" text-anchor="end" fill="#2a2a2a">10</text>
<text x="276.80" y="246.00" font-size="6.2" fill="#2a2a2a">4</text>
<text x="277.80" y="270.90" font-size="7.8" text-anchor="end" fill="#2a2a2a">0</text>
<line x1="298.00" y1="279.50" x2="298.00" y2="282.90" stroke="#1e1e1e" stroke-width="1.0" />
<line x1="321.00" y1="279.50" x2="321.00" y2="282.90" stroke="#1e1e1e" stroke-width="1.0" />
<line x1="355.50" y1="279.50" x2="355.50" y2="282.90" stroke="#1e1e1e" stroke-width="1.0" />
<line x1="284.60" y1="279.50" x2="284.60" y2="281.50" stroke="#1e1e1e" stroke-width="0.75" />
<line x1="287.30" y1="279.50" x2="287.30" y2="281.50" stroke="#1e1e1e" stroke-width="0.75" />
<line x1="290.00" y1="279.50" x2="290.00" y2="281.50" stroke="#1e1e1e" stroke-width="0.75" />
<line x1="292.70" y1="279.50" x2="292.70" y2="281.50" stroke="#1e1e1e" stroke-width="0.75" />
<line x1="295.40" y1="279.50" x2="295.40" y2="281.50" stroke="#1e1e1e" stroke-width="0.75" />
<line x1="301.97" y1="279.50" x2="301.97" y2="281.50" stroke="#1e1e1e" stroke-width="0.75" />
<line x1="304.90" y1="279.50" x2="304.90" y2="281.50" stroke="#1e1e1e" stroke-width="0.75" />
<line x1="307.55" y1="279.50" x2="307.55" y2="281.50" stroke="#1e1e1e" stroke-width="0.75" />
<line x1="310.02" y1="279.50" x2="310.02" y2="281.50" stroke="#1e1e1e" stroke-width="0.75" />
<line x1="312.37" y1="279.50" x2="312.37" y2="281.50" stroke="#1e1e1e" stroke-width="0.75" />
<line x1="314.63" y1="279.50" x2="314.63" y2="281.50" stroke="#1e1e1e" stroke-width="0.75" />
<line x1="316.81" y1="279.50" x2="316.81" y2="281.50" stroke="#1e1e1e" stroke-width="0.75" />
<line x1="318.93" y1="279.50" x2="318.93" y2="281.50" stroke="#1e1e1e" stroke-width="0.75" />
<line x1="331.39" y1="279.50" x2="331.39" y2="281.50" stroke="#1e1e1e" stroke-width="0.75" />
<line x1="337.46" y1="279.50" x2="337.46" y2="281.50" stroke="#1e1e1e" stroke-width="0.75" />
<line x1="341.77" y1="279.50" x2="341.77" y2="281.50" stroke="#1e1e1e" stroke-width="0.75" />
<line x1="345.11" y1="279.50" x2="345.11" y2="281.50" stroke="#1e1e1e" stroke-width="0.75" />
<line x1="347.85" y1="279.50" x2="347.85" y2="281.50" stroke="#1e1e1e" stroke-width="0.75" />
<line x1="350.16" y1="279.50" x2="350.16" y2="281.50" stroke="#1e1e1e" stroke-width="0.75" />
<line x1="352.16" y1="279.50" x2="352.16" y2="281.50" stroke="#1e1e1e" stroke-width="0.75" />
<line x1="353.92" y1="279.50" x2="353.92" y2="281.50" stroke="#1e1e1e" stroke-width="0.75" />
<line x1="365.89" y1="279.50" x2="365.89" y2="281.50" stroke="#1e1e1e" stroke-width="0.75" />
<line x1="371.96" y1="279.50" x2="371.96" y2="281.50" stroke="#1e1e1e" stroke-width="0.75" />
<line x1="376.27" y1="279.50" x2="376.27" y2="281.50" stroke="#1e1e1e" stroke-width="0.75" />
<line x1="379.61" y1="279.50" x2="379.61" y2="281.50" stroke="#1e1e1e" stroke-width="0.75" />
<text x="298.00" y="289.90" font-size="7.8" text-anchor="middle" fill="#2a2a2a">0</text>
<text x="318.10" y="289.90" font-size="7.8" text-anchor="middle" fill="#2a2a2a">10</text>
<text x="322.50" y="286.50" font-size="6.2" fill="#2a2a2a">3</text>
<text x="353.70" y="289.90" font-size="7.8" text-anchor="middle" fill="#2a2a2a">10</text>
<text x="358.10" y="286.50" font-size="6.2" fill="#2a2a2a">4</text>
<text x="464.15" y="186.00" font-size="9.5" text-anchor="middle" fill="#1e1e1e" >Vecabrutinib</text>
<circle cx="505.6" cy="197.7" r="0.45" fill="#a2a3bd"/>
<circle cx="486.9" cy="203.3" r="0.45" fill="#a2a3bd"/>
<circle cx="434.3" cy="260.4" r="0.45" fill="#a2a3bd"/>
<circle cx="444.4" cy="244.7" r="0.45" fill="#a2a3bd"/>
<circle cx="461.8" cy="232.0" r="0.45" fill="#a2a3bd"/>
<circle cx="505.8" cy="237.8" r="0.45" fill="#a2a3bd"/>
<circle cx="476.5" cy="223.3" r="0.45" fill="#a2a3bd"/>
<circle cx="466.6" cy="222.4" r="0.45" fill="#a2a3bd"/>
<circle cx="488.3" cy="210.9" r="0.45" fill="#a2a3bd"/>
<circle cx="477.1" cy="222.7" r="0.45" fill="#a2a3bd"/>
<circle cx="486.3" cy="231.0" r="0.45" fill="#a2a3bd"/>
<circle cx="480.6" cy="208.0" r="0.45" fill="#a2a3bd"/>
<circle cx="491.8" cy="253.5" r="0.45" fill="#a2a3bd"/>
<circle cx="488.7" cy="258.0" r="0.45" fill="#a2a3bd"/>
<circle cx="507.4" cy="216.4" r="0.45" fill="#a2a3bd"/>
<circle cx="477.4" cy="201.1" r="0.45" fill="#a2a3bd"/>
<circle cx="463.2" cy="217.5" r="0.45" fill="#a2a3bd"/>
<circle cx="464.7" cy="261.5" r="0.45" fill="#a2a3bd"/>
<circle cx="496.0" cy="202.8" r="0.45" fill="#a2a3bd"/>
<circle cx="452.3" cy="209.0" r="0.45" fill="#a2a3bd"/>
<circle cx="440.9" cy="246.9" r="0.45" fill="#a2a3bd"/>
<circle cx="474.6" cy="213.2" r="0.45" fill="#a2a3bd"/>
<circle cx="443.4" cy="268.0" r="0.45" fill="#a2a3bd"/>
<circle cx="495.0" cy="215.1" r="0.45" fill="#a2a3bd"/>
<circle cx="459.6" cy="218.2" r="0.45" fill="#a2a3bd"/>
<circle cx="473.8" cy="227.7" r="0.45" fill="#a2a3bd"/>
<circle cx="492.3" cy="213.4" r="0.45" fill="#a2a3bd"/>
<circle cx="485.2" cy="202.7" r="0.45" fill="#a2a3bd"/>
<circle cx="436.4" cy="254.3" r="0.45" fill="#a2a3bd"/>
<circle cx="471.4" cy="212.2" r="0.45" fill="#a2a3bd"/>
<circle cx="480.9" cy="216.1" r="0.45" fill="#a2a3bd"/>
<circle cx="482.4" cy="213.0" r="0.45" fill="#a2a3bd"/>
<circle cx="486.1" cy="211.5" r="0.45" fill="#a2a3bd"/>
<circle cx="424.1" cy="251.9" r="0.45" fill="#a2a3bd"/>
<circle cx="474.6" cy="215.7" r="0.45" fill="#a2a3bd"/>
<circle cx="421.2" cy="253.1" r="0.45" fill="#a2a3bd"/>
<circle cx="476.1" cy="242.1" r="0.45" fill="#a2a3bd"/>
<circle cx="484.3" cy="236.9" r="0.45" fill="#a2a3bd"/>
<circle cx="487.6" cy="222.6" r="0.45" fill="#a2a3bd"/>
<circle cx="450.4" cy="243.1" r="0.45" fill="#a2a3bd"/>
<circle cx="489.8" cy="222.6" r="0.45" fill="#a2a3bd"/>
<circle cx="450.3" cy="270.9" r="0.45" fill="#a2a3bd"/>
<circle cx="454.8" cy="263.9" r="0.45" fill="#a2a3bd"/>
<circle cx="479.6" cy="237.5" r="0.45" fill="#a2a3bd"/>
<circle cx="487.4" cy="227.9" r="0.45" fill="#a2a3bd"/>
<circle cx="430.6" cy="241.2" r="0.45" fill="#a2a3bd"/>
<circle cx="470.2" cy="219.5" r="0.45" fill="#a2a3bd"/>
<circle cx="442.6" cy="242.9" r="0.45" fill="#a2a3bd"/>
<circle cx="492.1" cy="221.8" r="0.45" fill="#a2a3bd"/>
<circle cx="479.8" cy="221.2" r="0.45" fill="#a2a3bd"/>
<circle cx="490.9" cy="229.8" r="0.45" fill="#a2a3bd"/>
<circle cx="504.7" cy="217.2" r="0.45" fill="#a2a3bd"/>
<circle cx="440.2" cy="229.7" r="0.45" fill="#a2a3bd"/>
<circle cx="462.8" cy="211.0" r="0.45" fill="#a2a3bd"/>
<circle cx="449.2" cy="248.1" r="0.45" fill="#a2a3bd"/>
<circle cx="475.7" cy="219.9" r="0.45" fill="#a2a3bd"/>
<circle cx="472.0" cy="223.3" r="0.45" fill="#a2a3bd"/>
<circle cx="431.8" cy="242.6" r="0.45" fill="#a2a3bd"/>
<circle cx="477.9" cy="228.4" r="0.45" fill="#a2a3bd"/>
<circle cx="466.8" cy="222.4" r="0.45" fill="#a2a3bd"/>
<circle cx="430.8" cy="271.0" r="0.45" fill="#a2a3bd"/>
<circle cx="485.6" cy="228.8" r="0.45" fill="#a2a3bd"/>
<circle cx="473.5" cy="218.2" r="0.45" fill="#a2a3bd"/>
<circle cx="469.4" cy="218.9" r="0.45" fill="#a2a3bd"/>
<circle cx="480.6" cy="209.3" r="0.45" fill="#a2a3bd"/>
<circle cx="491.4" cy="212.3" r="0.45" fill="#a2a3bd"/>
<circle cx="488.4" cy="218.9" r="0.45" fill="#a2a3bd"/>
<circle cx="474.7" cy="215.0" r="0.45" fill="#a2a3bd"/>
<circle cx="486.6" cy="205.0" r="0.45" fill="#a2a3bd"/>
<circle cx="465.1" cy="223.8" r="0.45" fill="#a2a3bd"/>
<circle cx="481.0" cy="235.5" r="0.45" fill="#a2a3bd"/>
<circle cx="474.4" cy="231.4" r="0.45" fill="#a2a3bd"/>
<circle cx="425.9" cy="255.2" r="0.45" fill="#a2a3bd"/>
<circle cx="466.1" cy="214.9" r="0.45" fill="#a2a3bd"/>
<circle cx="477.2" cy="208.1" r="0.45" fill="#a2a3bd"/>
<circle cx="480.4" cy="223.5" r="0.45" fill="#a2a3bd"/>
<circle cx="477.6" cy="272.0" r="0.45" fill="#a2a3bd"/>
<circle cx="423.8" cy="262.3" r="0.45" fill="#a2a3bd"/>
<circle cx="449.7" cy="256.6" r="0.45" fill="#a2a3bd"/>
<circle cx="456.2" cy="225.8" r="0.45" fill="#a2a3bd"/>
<circle cx="463.4" cy="217.9" r="0.45" fill="#a2a3bd"/>
<circle cx="492.5" cy="269.7" r="0.45" fill="#a2a3bd"/>
<circle cx="433.9" cy="247.3" r="0.45" fill="#a2a3bd"/>
<circle cx="476.2" cy="232.8" r="0.45" fill="#a2a3bd"/>
<circle cx="456.9" cy="259.7" r="0.45" fill="#a2a3bd"/>
<circle cx="426.5" cy="251.6" r="0.45" fill="#a2a3bd"/>
<circle cx="432.3" cy="227.4" r="0.45" fill="#a2a3bd"/>
<circle cx="498.8" cy="233.2" r="0.45" fill="#a2a3bd"/>
<circle cx="478.2" cy="203.7" r="0.45" fill="#a2a3bd"/>
<circle cx="479.0" cy="237.9" r="0.45" fill="#a2a3bd"/>
<circle cx="439.1" cy="257.5" r="0.45" fill="#a2a3bd"/>
<circle cx="448.5" cy="212.6" r="0.45" fill="#a2a3bd"/>
<circle cx="426.5" cy="257.3" r="0.45" fill="#a2a3bd"/>
<circle cx="432.4" cy="270.6" r="0.45" fill="#a2a3bd"/>
<circle cx="473.4" cy="208.4" r="0.45" fill="#a2a3bd"/>
<circle cx="490.5" cy="240.2" r="0.45" fill="#a2a3bd"/>
<circle cx="474.2" cy="221.2" r="0.45" fill="#a2a3bd"/>
<circle cx="482.5" cy="215.0" r="0.45" fill="#a2a3bd"/>
<circle cx="464.7" cy="221.4" r="0.45" fill="#a2a3bd"/>
<circle cx="457.6" cy="263.9" r="0.45" fill="#a2a3bd"/>
<circle cx="487.3" cy="217.6" r="0.45" fill="#a2a3bd"/>
<circle cx="447.3" cy="265.9" r="0.45" fill="#a2a3bd"/>
<circle cx="439.5" cy="244.2" r="0.45" fill="#a2a3bd"/>
<circle cx="460.5" cy="191.5" r="0.45" fill="#a2a3bd"/>
<circle cx="423.3" cy="255.5" r="0.45" fill="#a2a3bd"/>
<circle cx="455.6" cy="262.0" r="0.45" fill="#a2a3bd"/>
<circle cx="423.5" cy="272.3" r="0.45" fill="#a2a3bd"/>
<circle cx="445.3" cy="271.0" r="0.45" fill="#a2a3bd"/>
<circle cx="428.1" cy="260.1" r="0.45" fill="#a2a3bd"/>
<circle cx="441.5" cy="214.5" r="0.9" fill="#6c6cd0"/>
<path d="M457.15,222.05 C456.02,222.82 454.67,223.22 454.25,223.91 C453.82,224.60 454.33,225.18 454.59,226.16 C454.85,227.14 456.21,228.76 455.82,229.79 C455.42,230.82 453.97,232.08 452.22,232.31 C450.47,232.54 447.27,231.51 445.31,231.17 C443.35,230.83 441.87,230.65 440.46,230.25 C439.06,229.86 438.23,228.98 436.89,228.78 C435.55,228.58 433.93,229.13 432.44,229.06 C430.95,228.99 429.56,228.66 427.96,228.35 C426.36,228.04 423.88,227.81 422.85,227.18 C421.81,226.55 422.27,225.43 421.78,224.57 C421.28,223.72 420.18,222.93 419.88,222.05 C419.58,221.17 419.36,220.10 419.98,219.28 C420.60,218.46 422.35,217.77 423.59,217.14 C424.83,216.50 426.05,215.91 427.42,215.47 C428.79,215.03 430.33,214.70 431.82,214.50 C433.31,214.30 434.90,214.56 436.34,214.29 C437.78,214.01 439.06,212.92 440.46,212.86 C441.87,212.80 443.38,213.62 444.78,213.92 C446.19,214.22 447.19,214.55 448.90,214.68 C450.62,214.80 453.54,214.31 455.09,214.67 C456.64,215.04 457.23,216.11 458.22,216.88 C459.21,217.64 461.21,218.41 461.03,219.27 C460.86,220.13 458.28,221.27 457.15,222.05 Z" fill="none" stroke="#6d6ad0" stroke-width="0.6" />
<path d="M456.86,221.74 C457.53,222.43 457.58,223.29 457.50,224.08 C457.42,224.87 457.56,225.97 456.39,226.47 C455.22,226.97 452.10,226.86 450.49,227.08 C448.87,227.30 447.83,227.45 446.68,227.81 C445.54,228.16 444.80,228.84 443.59,229.23 C442.38,229.62 440.92,229.97 439.44,230.14 C437.97,230.32 436.11,230.50 434.72,230.27 C433.33,230.03 432.00,229.33 431.10,228.73 C430.20,228.12 430.22,227.16 429.32,226.64 C428.42,226.11 426.55,226.06 425.73,225.57 C424.91,225.08 424.63,224.33 424.39,223.69 C424.15,223.05 424.24,222.38 424.30,221.74 C424.36,221.09 424.74,220.53 424.75,219.83 C424.76,219.13 424.02,218.22 424.39,217.53 C424.76,216.84 425.96,216.26 426.97,215.70 C427.98,215.14 429.08,214.48 430.44,214.19 C431.79,213.89 433.61,214.01 435.11,213.91 C436.61,213.80 437.99,213.56 439.44,213.55 C440.89,213.54 442.38,213.68 443.81,213.84 C445.24,214.01 446.96,214.10 448.03,214.54 C449.10,214.98 449.86,215.81 450.26,216.50 C450.66,217.19 449.91,218.09 450.45,218.66 C450.98,219.23 452.42,219.40 453.49,219.91 C454.56,220.43 456.19,221.04 456.86,221.74 Z" fill="none" stroke="#6d6ad0" stroke-width="0.5" />
<path d="M453.80,224.70 C454.75,225.08 456.31,225.69 456.67,226.19 C457.03,226.70 456.50,227.29 455.99,227.74 C455.48,228.19 454.62,228.67 453.60,228.88 C452.59,229.10 450.98,228.98 449.89,229.04 C448.80,229.11 447.97,229.14 447.04,229.25 C446.12,229.37 445.23,229.73 444.34,229.72 C443.45,229.71 442.56,229.34 441.67,229.20 C440.79,229.06 439.94,229.00 439.02,228.86 C438.11,228.73 436.87,228.67 436.17,228.39 C435.47,228.11 435.02,227.61 434.81,227.19 C434.60,226.76 435.06,226.26 434.91,225.84 C434.76,225.43 434.05,225.10 433.91,224.70 C433.77,224.30 434.08,223.92 434.04,223.45 C434.01,222.99 433.51,222.41 433.70,221.92 C433.88,221.44 434.44,220.92 435.14,220.54 C435.84,220.17 436.83,219.75 437.90,219.66 C438.96,219.56 440.48,220.05 441.55,219.99 C442.62,219.94 443.34,219.47 444.34,219.35 C445.34,219.23 446.49,219.22 447.56,219.27 C448.64,219.32 450.04,219.33 450.79,219.65 C451.54,219.98 452.01,220.66 452.05,221.22 C452.08,221.77 451.15,222.52 450.98,222.97 C450.81,223.41 450.55,223.60 451.02,223.89 C451.49,224.18 452.86,224.32 453.80,224.70 Z" fill="none" stroke="#6d6ad0" stroke-width="0.45" />
<g filter="url(#bl)">
<path d="M453.83,221.27 C454.24,221.84 454.78,222.55 454.66,223.15 C454.53,223.75 453.84,224.40 453.06,224.89 C452.29,225.39 451.03,225.72 450.02,226.11 C449.02,226.50 448.08,226.84 447.04,227.22 C446.01,227.61 445.04,228.14 443.82,228.43 C442.61,228.72 441.09,228.99 439.75,228.95 C438.41,228.91 436.96,228.54 435.81,228.20 C434.67,227.85 433.84,227.27 432.88,226.88 C431.91,226.49 431.07,226.19 430.02,225.86 C428.96,225.52 427.55,225.29 426.56,224.86 C425.56,224.42 424.46,223.85 424.07,223.25 C423.69,222.65 423.88,221.88 424.23,221.27 C424.57,220.65 425.51,220.08 426.14,219.55 C426.77,219.02 427.39,218.57 428.00,218.07 C428.60,217.57 429.02,217.02 429.75,216.56 C430.48,216.09 431.36,215.60 432.39,215.26 C433.41,214.91 434.66,214.68 435.89,214.47 C437.11,214.26 438.40,214.12 439.75,214.01 C441.10,213.90 442.60,213.74 443.99,213.82 C445.38,213.89 446.98,214.07 448.10,214.45 C449.21,214.84 450.09,215.52 450.65,216.13 C451.20,216.74 451.16,217.50 451.42,218.09 C451.68,218.69 451.78,219.17 452.18,219.70 C452.58,220.23 453.42,220.69 453.83,221.27 Z" fill="#bfe6f6" stroke="none" stroke-width="0" />
<path d="M451.62,220.96 C451.76,221.46 451.60,222.04 451.23,222.51 C450.86,222.99 450.08,223.43 449.41,223.82 C448.73,224.22 447.96,224.56 447.18,224.89 C446.41,225.22 445.64,225.57 444.74,225.80 C443.85,226.03 442.80,226.22 441.79,226.28 C440.79,226.33 439.71,226.21 438.73,226.14 C437.75,226.07 436.90,225.92 435.90,225.86 C434.91,225.80 433.88,225.85 432.75,225.77 C431.62,225.70 430.19,225.67 429.15,225.41 C428.12,225.15 427.06,224.71 426.54,224.23 C426.02,223.75 426.02,223.08 426.04,222.54 C426.07,221.99 426.52,221.46 426.72,220.96 C426.91,220.45 427.00,220.00 427.23,219.52 C427.45,219.04 427.54,218.51 428.04,218.08 C428.53,217.66 429.33,217.25 430.19,216.98 C431.05,216.72 432.22,216.63 433.18,216.48 C434.14,216.34 435.02,216.29 435.94,216.11 C436.87,215.94 437.69,215.63 438.73,215.44 C439.77,215.25 441.04,214.98 442.16,215.00 C443.28,215.01 444.56,215.23 445.45,215.54 C446.34,215.85 446.95,216.42 447.52,216.87 C448.08,217.32 448.36,217.80 448.85,218.24 C449.33,218.68 449.95,219.05 450.41,219.50 C450.87,219.95 451.49,220.45 451.62,220.96 Z" fill="#72c9ef" stroke="none" stroke-width="0" />
<path d="M448.50,220.88 C448.50,221.28 448.28,221.71 447.96,222.08 C447.65,222.46 447.14,222.82 446.62,223.13 C446.09,223.44 445.44,223.70 444.79,223.95 C444.15,224.19 443.46,224.39 442.75,224.59 C442.04,224.79 441.32,224.97 440.54,225.13 C439.75,225.30 438.90,225.48 438.02,225.55 C437.13,225.63 436.11,225.67 435.23,225.59 C434.34,225.50 433.41,225.30 432.70,225.04 C431.99,224.79 431.43,224.41 430.94,224.08 C430.46,223.74 430.14,223.38 429.78,223.03 C429.41,222.68 429.04,222.36 428.77,222.00 C428.49,221.64 428.17,221.26 428.11,220.88 C428.06,220.50 428.16,220.08 428.42,219.71 C428.68,219.35 429.20,219.02 429.67,218.70 C430.15,218.38 430.70,218.11 431.25,217.81 C431.79,217.52 432.30,217.19 432.96,216.91 C433.62,216.63 434.37,216.31 435.21,216.14 C436.06,215.98 437.11,215.89 438.02,215.93 C438.92,215.98 439.88,216.20 440.66,216.41 C441.44,216.62 442.07,216.95 442.71,217.20 C443.35,217.46 443.89,217.69 444.50,217.94 C445.11,218.19 445.80,218.41 446.37,218.69 C446.94,218.98 447.56,219.31 447.92,219.68 C448.27,220.04 448.49,220.48 448.50,220.88 Z" fill="#48b0e6" stroke="none" stroke-width="0" />
<ellipse cx="437.61" cy="220.88" rx="8.16" ry="3.59" fill="#80c440" />
<ellipse cx="437.74" cy="220.80" rx="4.69" ry="2.03" fill="#dfe07a" />
<ellipse cx="436.40" cy="220.80" rx="2.45" ry="1.40" fill="#ec2f2a" />
</g>
<path d="M453.83,221.27 C454.24,221.84 454.78,222.55 454.66,223.15 C454.53,223.75 453.84,224.40 453.06,224.89 C452.29,225.39 451.03,225.72 450.02,226.11 C449.02,226.50 448.08,226.84 447.04,227.22 C446.01,227.61 445.04,228.14 443.82,228.43 C442.61,228.72 441.09,228.99 439.75,228.95 C438.41,228.91 436.96,228.54 435.81,228.20 C434.67,227.85 433.84,227.27 432.88,226.88 C431.91,226.49 431.07,226.19 430.02,225.86 C428.96,225.52 427.55,225.29 426.56,224.86 C425.56,224.42 424.46,223.85 424.07,223.25 C423.69,222.65 423.88,221.88 424.23,221.27 C424.57,220.65 425.51,220.08 426.14,219.55 C426.77,219.02 427.39,218.57 428.00,218.07 C428.60,217.57 429.02,217.02 429.75,216.56 C430.48,216.09 431.36,215.60 432.39,215.26 C433.41,214.91 434.66,214.68 435.89,214.47 C437.11,214.26 438.40,214.12 439.75,214.01 C441.10,213.90 442.60,213.74 443.99,213.82 C445.38,213.89 446.98,214.07 448.10,214.45 C449.21,214.84 450.09,215.52 450.65,216.13 C451.20,216.74 451.16,217.50 451.42,218.09 C451.68,218.69 451.78,219.17 452.18,219.70 C452.58,220.23 453.42,220.69 453.83,221.27 Z" fill="none" stroke="#6f86d8" stroke-width="0.45" />
<path d="M450.69,220.96 C450.78,221.44 450.75,221.97 450.51,222.45 C450.28,222.93 449.78,223.39 449.27,223.83 C448.76,224.27 448.15,224.68 447.47,225.08 C446.79,225.49 446.07,225.92 445.19,226.24 C444.31,226.57 443.25,226.88 442.17,227.03 C441.10,227.18 439.84,227.18 438.73,227.12 C437.62,227.06 436.52,226.85 435.50,226.66 C434.47,226.47 433.52,226.24 432.59,225.98 C431.65,225.73 430.70,225.47 429.91,225.12 C429.13,224.78 428.40,224.36 427.88,223.92 C427.37,223.47 427.08,222.96 426.83,222.46 C426.58,221.97 426.46,221.47 426.37,220.96 C426.28,220.44 426.15,219.90 426.30,219.38 C426.46,218.86 426.72,218.28 427.31,217.84 C427.90,217.40 428.88,217.01 429.83,216.75 C430.78,216.49 432.00,216.41 433.00,216.27 C434.00,216.12 434.88,216.05 435.84,215.86 C436.79,215.67 437.65,215.34 438.73,215.13 C439.81,214.92 441.13,214.62 442.32,214.62 C443.51,214.61 444.91,214.79 445.87,215.11 C446.84,215.43 447.56,216.02 448.11,216.53 C448.65,217.03 448.82,217.62 449.13,218.12 C449.44,218.62 449.71,219.06 449.97,219.53 C450.23,220.01 450.60,220.47 450.69,220.96 Z" fill="none" stroke="#5e9ae0" stroke-width="0.35" />
<g filter="url(#bl)">
<path d="M466.51,266.80 C466.73,267.14 466.48,267.54 465.91,267.87 C465.33,268.19 464.12,268.49 463.07,268.76 C462.03,269.04 460.83,269.27 459.62,269.49 C458.42,269.72 457.23,269.96 455.84,270.12 C454.44,270.28 452.81,270.40 451.26,270.44 C449.70,270.48 448.02,270.40 446.50,270.35 C444.98,270.31 443.66,270.20 442.11,270.16 C440.57,270.12 438.96,270.15 437.22,270.10 C435.47,270.05 433.24,270.03 431.63,269.85 C430.03,269.68 428.38,269.37 427.58,269.04 C426.78,268.71 426.76,268.26 426.81,267.88 C426.85,267.51 427.54,267.14 427.85,266.80 C428.16,266.46 428.30,266.15 428.64,265.82 C428.98,265.49 429.14,265.12 429.90,264.83 C430.67,264.54 431.91,264.26 433.24,264.08 C434.57,263.90 436.40,263.84 437.89,263.74 C439.37,263.64 440.73,263.60 442.17,263.48 C443.61,263.36 444.89,263.15 446.50,263.02 C448.11,262.89 450.09,262.71 451.83,262.72 C453.57,262.73 455.55,262.88 456.94,263.09 C458.32,263.30 459.26,263.69 460.14,264.00 C461.02,264.31 461.45,264.64 462.20,264.94 C462.95,265.24 463.92,265.49 464.63,265.80 C465.35,266.11 466.30,266.46 466.51,266.80 Z" fill="#dcf0fa" stroke="none" stroke-width="0" />
</g>
<path d="M465.19,266.80 C465.04,267.19 464.01,267.54 463.66,267.93 C463.31,268.32 463.82,268.82 463.10,269.16 C462.37,269.50 460.86,269.84 459.29,269.98 C457.72,270.11 455.25,269.94 453.67,269.97 C452.08,270.01 451.07,270.00 449.79,270.18 C448.51,270.36 447.61,270.73 446.00,271.04 C444.39,271.35 442.02,271.97 440.11,272.05 C438.21,272.13 436.00,271.83 434.59,271.52 C433.18,271.22 432.26,270.67 431.67,270.22 C431.08,269.78 431.36,269.26 431.05,268.86 C430.74,268.46 430.42,268.18 429.78,267.84 C429.15,267.49 427.56,267.17 427.25,266.80 C426.94,266.43 427.28,265.98 427.92,265.64 C428.56,265.30 430.13,265.04 431.10,264.74 C432.07,264.45 432.74,264.14 433.73,263.87 C434.73,263.60 435.87,263.37 437.06,263.10 C438.26,262.83 439.41,262.42 440.90,262.25 C442.39,262.08 444.34,262.07 446.00,262.10 C447.66,262.14 449.34,262.31 450.86,262.46 C452.39,262.61 453.63,262.85 455.14,263.02 C456.65,263.19 458.69,263.22 459.92,263.47 C461.15,263.73 461.73,264.17 462.51,264.52 C463.29,264.88 464.13,265.23 464.58,265.61 C465.03,265.99 465.35,266.41 465.19,266.80 Z" fill="none" stroke="#6d6ad0" stroke-width="0.55" />
<path d="M457.87,267.00 C458.52,267.23 460.36,267.55 460.57,267.81 C460.77,268.07 459.88,268.37 459.10,268.56 C458.32,268.76 456.90,268.85 455.90,268.99 C454.89,269.12 453.94,269.16 453.09,269.36 C452.25,269.56 451.85,269.99 450.83,270.20 C449.82,270.40 448.19,270.64 447.00,270.57 C445.81,270.49 444.60,270.00 443.69,269.76 C442.79,269.51 442.39,269.25 441.57,269.10 C440.76,268.94 439.91,268.92 438.82,268.83 C437.74,268.73 436.14,268.70 435.09,268.54 C434.03,268.38 432.78,268.12 432.50,267.87 C432.22,267.61 432.95,267.26 433.42,267.00 C433.88,266.74 434.46,266.48 435.30,266.30 C436.13,266.12 437.89,266.09 438.43,265.89 C438.98,265.70 438.24,265.36 438.58,265.12 C438.92,264.88 439.61,264.61 440.48,264.48 C441.35,264.35 442.72,264.42 443.81,264.34 C444.90,264.26 445.82,264.10 447.00,264.00 C448.18,263.91 449.56,263.77 450.89,263.75 C452.22,263.74 454.04,263.73 454.98,263.91 C455.92,264.10 456.28,264.56 456.54,264.87 C456.79,265.18 456.48,265.52 456.50,265.77 C456.52,266.03 456.41,266.22 456.64,266.42 C456.87,266.63 457.21,266.77 457.87,267.00 Z" fill="none" stroke="#7487e0" stroke-width="0.5" />
<path d="M455.47,266.70 C455.65,266.89 455.85,267.13 455.48,267.30 C455.10,267.47 453.85,267.57 453.22,267.70 C452.60,267.83 452.26,267.97 451.70,268.09 C451.15,268.21 450.56,268.33 449.90,268.41 C449.23,268.49 448.45,268.58 447.72,268.56 C446.98,268.54 446.18,268.34 445.50,268.29 C444.82,268.24 444.26,268.29 443.63,268.27 C442.99,268.25 442.61,268.17 441.68,268.18 C440.75,268.20 438.93,268.42 438.06,268.37 C437.18,268.32 436.76,268.06 436.42,267.88 C436.07,267.69 435.70,267.47 435.99,267.27 C436.28,267.08 437.73,266.87 438.15,266.70 C438.56,266.53 438.54,266.45 438.46,266.28 C438.39,266.11 437.74,265.89 437.70,265.69 C437.65,265.49 437.75,265.22 438.19,265.06 C438.64,264.89 439.54,264.77 440.35,264.70 C441.16,264.63 442.19,264.60 443.05,264.64 C443.91,264.69 444.78,264.87 445.50,264.95 C446.22,265.03 446.72,265.09 447.38,265.12 C448.04,265.16 448.87,265.10 449.48,265.15 C450.08,265.21 450.51,265.36 450.98,265.47 C451.45,265.58 451.72,265.70 452.29,265.82 C452.86,265.94 453.88,266.02 454.41,266.16 C454.94,266.31 455.29,266.51 455.47,266.70 Z" fill="none" stroke="#8aa4e8" stroke-width="0.45" />
<path d="M456.77,266.40 C456.77,266.54 457.03,266.67 457.07,266.82 C457.11,266.96 457.23,267.15 457.04,267.29 C456.84,267.43 456.35,267.54 455.91,267.63 C455.47,267.71 454.92,267.78 454.40,267.80 C453.89,267.82 453.29,267.75 452.81,267.76 C452.32,267.77 451.98,267.80 451.50,267.84 C451.02,267.89 450.37,268.06 449.93,268.03 C449.48,268.01 449.12,267.81 448.83,267.69 C448.54,267.57 448.50,267.42 448.19,267.32 C447.87,267.23 447.31,267.22 446.93,267.13 C446.56,267.05 446.22,266.94 445.96,266.81 C445.69,266.69 445.32,266.54 445.34,266.40 C445.36,266.26 445.72,266.10 446.07,265.99 C446.43,265.89 447.19,265.86 447.47,265.75 C447.75,265.65 447.61,265.50 447.76,265.36 C447.91,265.21 448.04,265.03 448.35,264.88 C448.67,264.73 449.10,264.50 449.62,264.45 C450.15,264.40 450.99,264.46 451.50,264.57 C452.01,264.69 452.36,265.01 452.70,265.15 C453.05,265.29 453.19,265.35 453.57,265.40 C453.96,265.45 454.52,265.39 455.00,265.42 C455.49,265.46 456.15,265.50 456.49,265.60 C456.84,265.69 457.03,265.85 457.08,265.98 C457.13,266.12 456.77,266.26 456.77,266.40 Z" fill="none" stroke="#8aa4e8" stroke-width="0.4" />
<path d="M484.20,266.40 C484.55,266.98 484.60,267.66 484.44,268.28 C484.28,268.90 484.06,269.65 483.23,270.11 C482.40,270.56 480.60,270.71 479.46,270.99 C478.32,271.27 477.37,271.47 476.38,271.76 C475.38,272.05 474.55,272.46 473.49,272.72 C472.43,272.98 471.21,273.21 470.00,273.29 C468.79,273.38 467.37,273.43 466.22,273.25 C465.06,273.07 463.95,272.63 463.07,272.22 C462.20,271.81 461.75,271.21 460.98,270.78 C460.20,270.35 459.04,270.10 458.40,269.65 C457.76,269.20 457.39,268.61 457.14,268.07 C456.88,267.53 456.84,266.95 456.86,266.40 C456.88,265.85 457.11,265.32 457.26,264.74 C457.40,264.17 457.28,263.50 457.71,262.96 C458.15,262.41 459.01,261.91 459.85,261.47 C460.69,261.03 461.66,260.57 462.76,260.31 C463.85,260.05 465.20,260.01 466.41,259.90 C467.62,259.78 468.80,259.65 470.00,259.64 C471.20,259.63 472.44,259.71 473.62,259.85 C474.79,259.99 476.10,260.13 477.05,260.47 C478.00,260.81 478.77,261.38 479.31,261.88 C479.85,262.39 479.82,263.02 480.32,263.51 C480.81,264.00 481.65,264.32 482.29,264.80 C482.94,265.28 483.84,265.82 484.20,266.40 Z" fill="none" stroke="#6d6ad0" stroke-width="0.6" />
<g filter="url(#bl)">
<path d="M482.08,266.60 C482.09,267.06 481.82,267.56 481.44,267.99 C481.07,268.42 480.46,268.83 479.82,269.18 C479.19,269.54 478.41,269.85 477.64,270.13 C476.86,270.41 476.03,270.64 475.18,270.86 C474.33,271.09 473.47,271.31 472.53,271.49 C471.58,271.68 470.56,271.89 469.50,271.97 C468.44,272.06 467.22,272.11 466.15,272.01 C465.09,271.92 463.98,271.68 463.12,271.39 C462.26,271.10 461.59,270.67 461.01,270.28 C460.42,269.89 460.04,269.47 459.61,269.07 C459.17,268.68 458.73,268.30 458.40,267.89 C458.06,267.48 457.68,267.04 457.61,266.60 C457.54,266.16 457.67,265.68 457.98,265.26 C458.30,264.85 458.92,264.46 459.49,264.09 C460.05,263.73 460.72,263.42 461.37,263.08 C462.03,262.74 462.63,262.36 463.43,262.04 C464.22,261.72 465.12,261.34 466.13,261.16 C467.15,260.97 468.41,260.87 469.50,260.92 C470.59,260.97 471.74,261.22 472.67,261.47 C473.61,261.71 474.36,262.08 475.13,262.37 C475.90,262.67 476.55,262.94 477.29,263.23 C478.02,263.51 478.85,263.76 479.53,264.09 C480.21,264.42 480.96,264.80 481.38,265.22 C481.81,265.64 482.07,266.14 482.08,266.60 Z" fill="#7ccbee" stroke="none" stroke-width="0" />
<path d="M478.66,266.60 C478.72,266.94 478.68,267.31 478.49,267.65 C478.29,267.99 477.91,268.32 477.51,268.63 C477.11,268.94 476.61,269.23 476.07,269.50 C475.53,269.78 474.94,270.07 474.24,270.29 C473.54,270.51 472.72,270.72 471.88,270.82 C471.03,270.92 470.07,270.94 469.20,270.90 C468.33,270.86 467.47,270.73 466.66,270.60 C465.86,270.48 465.09,270.32 464.36,270.14 C463.63,269.96 462.89,269.77 462.28,269.53 C461.66,269.28 461.10,268.99 460.69,268.68 C460.28,268.37 460.04,268.01 459.84,267.66 C459.64,267.31 459.54,266.96 459.48,266.60 C459.43,266.24 459.35,265.86 459.49,265.50 C459.63,265.14 459.86,264.74 460.31,264.43 C460.77,264.12 461.50,263.85 462.22,263.65 C462.94,263.46 463.86,263.37 464.63,263.26 C465.41,263.14 466.12,263.07 466.89,262.95 C467.65,262.82 468.35,262.62 469.20,262.50 C470.05,262.38 471.06,262.21 471.97,262.22 C472.89,262.24 473.94,262.37 474.69,262.58 C475.44,262.80 476.03,263.18 476.49,263.52 C476.94,263.85 477.15,264.25 477.42,264.59 C477.69,264.94 477.92,265.25 478.13,265.59 C478.33,265.92 478.60,266.26 478.66,266.60 Z" fill="#3ea6e4" stroke="none" stroke-width="0" />
<ellipse cx="469.00" cy="266.60" rx="7.44" ry="3.22" fill="#46b858" />
<ellipse cx="469.30" cy="266.60" rx="5.04" ry="2.08" fill="#b9d33a" />
<ellipse cx="469.50" cy="266.60" rx="3.36" ry="1.14" fill="#ee2a20" />
</g>
<path d="M482.40,266.60 C482.41,267.09 482.13,267.61 481.74,268.07 C481.36,268.52 480.73,268.95 480.08,269.33 C479.43,269.71 478.63,270.03 477.84,270.33 C477.05,270.63 476.20,270.87 475.32,271.11 C474.45,271.35 473.57,271.58 472.60,271.77 C471.63,271.97 470.59,272.19 469.50,272.28 C468.41,272.37 467.16,272.43 466.07,272.33 C464.98,272.22 463.84,271.97 462.96,271.67 C462.08,271.36 461.40,270.90 460.80,270.49 C460.20,270.08 459.81,269.64 459.36,269.22 C458.91,268.80 458.46,268.40 458.12,267.96 C457.78,267.53 457.38,267.06 457.31,266.60 C457.24,266.14 457.38,265.63 457.70,265.19 C458.02,264.74 458.66,264.34 459.24,263.95 C459.82,263.57 460.50,263.24 461.17,262.88 C461.84,262.51 462.46,262.12 463.27,261.78 C464.09,261.44 465.01,261.04 466.05,260.84 C467.09,260.65 468.38,260.54 469.50,260.59 C470.62,260.64 471.79,260.91 472.75,261.17 C473.72,261.43 474.48,261.82 475.27,262.13 C476.06,262.44 476.73,262.73 477.48,263.03 C478.23,263.33 479.08,263.59 479.78,263.95 C480.48,264.30 481.25,264.70 481.68,265.14 C482.12,265.58 482.38,266.11 482.40,266.60 Z" fill="none" stroke="#5a72d8" stroke-width="0.45" />
<rect x="419.30" y="204.20" width="36.3" height="31.7" fill="none" stroke="#7c74cc" stroke-width="0.95"/>
<rect x="457.20" y="253.60" width="32.6" height="23.5" fill="none" stroke="#7c74cc" stroke-width="0.95"/>
<text x="418.90" y="202.10" font-size="7.3" text-anchor="start" fill="#2d69a4" textLength="48" lengthAdjust="spacingAndGlyphs" >CD4+(51,44%)</text>
<text x="455.90" y="251.40" font-size="7.3" text-anchor="start" fill="#2d69a4" textLength="48.3" lengthAdjust="spacingAndGlyphs" >CD8+(28,49%)</text>
<rect x="414.90" y="189.10" width="98.5" height="89.2" fill="none" stroke="#1e1e1e" stroke-width="1.35"/>
<line x1="411.50" y1="189.10" x2="414.90" y2="189.10" stroke="#1e1e1e" stroke-width="1.0" />
<line x1="411.50" y1="217.40" x2="414.90" y2="217.40" stroke="#1e1e1e" stroke-width="1.0" />
<line x1="411.50" y1="245.20" x2="414.90" y2="245.20" stroke="#1e1e1e" stroke-width="1.0" />
<line x1="411.50" y1="266.90" x2="414.90" y2="266.90" stroke="#1e1e1e" stroke-width="1.0" />
<line x1="412.90" y1="208.97" x2="414.90" y2="208.97" stroke="#1e1e1e" stroke-width="0.75" />
<line x1="412.90" y1="204.04" x2="414.90" y2="204.04" stroke="#1e1e1e" stroke-width="0.75" />
<line x1="412.90" y1="200.54" x2="414.90" y2="200.54" stroke="#1e1e1e" stroke-width="0.75" />
<line x1="412.90" y1="197.83" x2="414.90" y2="197.83" stroke="#1e1e1e" stroke-width="0.75" />
<line x1="412.90" y1="195.61" x2="414.90" y2="195.61" stroke="#1e1e1e" stroke-width="0.75" />
<line x1="412.90" y1="193.74" x2="414.90" y2="193.74" stroke="#1e1e1e" stroke-width="0.75" />
<line x1="412.90" y1="192.11" x2="414.90" y2="192.11" stroke="#1e1e1e" stroke-width="0.75" />
<line x1="412.90" y1="190.68" x2="414.90" y2="190.68" stroke="#1e1e1e" stroke-width="0.75" />
<line x1="412.90" y1="237.27" x2="414.90" y2="237.27" stroke="#1e1e1e" stroke-width="0.75" />
<line x1="412.90" y1="232.34" x2="414.90" y2="232.34" stroke="#1e1e1e" stroke-width="0.75" />
<line x1="412.90" y1="228.84" x2="414.90" y2="228.84" stroke="#1e1e1e" stroke-width="0.75" />
<line x1="412.90" y1="226.13" x2="414.90" y2="226.13" stroke="#1e1e1e" stroke-width="0.75" />
<line x1="412.90" y1="223.91" x2="414.90" y2="223.91" stroke="#1e1e1e" stroke-width="0.75" />
<line x1="412.90" y1="222.04" x2="414.90" y2="222.04" stroke="#1e1e1e" stroke-width="0.75" />
<line x1="412.90" y1="220.41" x2="414.90" y2="220.41" stroke="#1e1e1e" stroke-width="0.75" />
<line x1="412.90" y1="218.98" x2="414.90" y2="218.98" stroke="#1e1e1e" stroke-width="0.75" />
<line x1="412.90" y1="260.37" x2="414.90" y2="260.37" stroke="#1e1e1e" stroke-width="0.75" />
<line x1="412.90" y1="256.55" x2="414.90" y2="256.55" stroke="#1e1e1e" stroke-width="0.75" />
<line x1="412.90" y1="253.84" x2="414.90" y2="253.84" stroke="#1e1e1e" stroke-width="0.75" />
<line x1="412.90" y1="251.73" x2="414.90" y2="251.73" stroke="#1e1e1e" stroke-width="0.75" />
<line x1="412.90" y1="250.01" x2="414.90" y2="250.01" stroke="#1e1e1e" stroke-width="0.75" />
<line x1="412.90" y1="248.56" x2="414.90" y2="248.56" stroke="#1e1e1e" stroke-width="0.75" />
<line x1="412.90" y1="247.30" x2="414.90" y2="247.30" stroke="#1e1e1e" stroke-width="0.75" />
<line x1="412.90" y1="246.19" x2="414.90" y2="246.19" stroke="#1e1e1e" stroke-width="0.75" />
<line x1="412.90" y1="269.60" x2="414.90" y2="269.60" stroke="#1e1e1e" stroke-width="0.75" />
<line x1="412.90" y1="272.30" x2="414.90" y2="272.30" stroke="#1e1e1e" stroke-width="0.75" />
<line x1="412.90" y1="275.10" x2="414.90" y2="275.10" stroke="#1e1e1e" stroke-width="0.75" />
<text x="407.90" y="191.90" font-size="7.8" text-anchor="end" fill="#2a2a2a">10</text>
<text x="407.90" y="188.70" font-size="6.2" fill="#2a2a2a">6</text>
<text x="407.90" y="220.20" font-size="7.8" text-anchor="end" fill="#2a2a2a">10</text>
<text x="407.90" y="217.00" font-size="6.2" fill="#2a2a2a">5</text>
<text x="407.90" y="248.00" font-size="7.8" text-anchor="end" fill="#2a2a2a">10</text>
<text x="407.90" y="244.80" font-size="6.2" fill="#2a2a2a">4</text>
<text x="408.90" y="269.70" font-size="7.8" text-anchor="end" fill="#2a2a2a">0</text>
<line x1="429.10" y1="278.30" x2="429.10" y2="281.70" stroke="#1e1e1e" stroke-width="1.0" />
<line x1="452.10" y1="278.30" x2="452.10" y2="281.70" stroke="#1e1e1e" stroke-width="1.0" />
<line x1="486.60" y1="278.30" x2="486.60" y2="281.70" stroke="#1e1e1e" stroke-width="1.0" />
<line x1="415.70" y1="278.30" x2="415.70" y2="280.30" stroke="#1e1e1e" stroke-width="0.75" />
<line x1="418.40" y1="278.30" x2="418.40" y2="280.30" stroke="#1e1e1e" stroke-width="0.75" />
<line x1="421.10" y1="278.30" x2="421.10" y2="280.30" stroke="#1e1e1e" stroke-width="0.75" />
<line x1="423.80" y1="278.30" x2="423.80" y2="280.30" stroke="#1e1e1e" stroke-width="0.75" />
<line x1="426.50" y1="278.30" x2="426.50" y2="280.30" stroke="#1e1e1e" stroke-width="0.75" />
<line x1="433.07" y1="278.30" x2="433.07" y2="280.30" stroke="#1e1e1e" stroke-width="0.75" />
<line x1="436.00" y1="278.30" x2="436.00" y2="280.30" stroke="#1e1e1e" stroke-width="0.75" />
<line x1="438.65" y1="278.30" x2="438.65" y2="280.30" stroke="#1e1e1e" stroke-width="0.75" />
<line x1="441.12" y1="278.30" x2="441.12" y2="280.30" stroke="#1e1e1e" stroke-width="0.75" />
<line x1="443.47" y1="278.30" x2="443.47" y2="280.30" stroke="#1e1e1e" stroke-width="0.75" />
<line x1="445.73" y1="278.30" x2="445.73" y2="280.30" stroke="#1e1e1e" stroke-width="0.75" />
<line x1="447.91" y1="278.30" x2="447.91" y2="280.30" stroke="#1e1e1e" stroke-width="0.75" />
<line x1="450.03" y1="278.30" x2="450.03" y2="280.30" stroke="#1e1e1e" stroke-width="0.75" />
<line x1="462.49" y1="278.30" x2="462.49" y2="280.30" stroke="#1e1e1e" stroke-width="0.75" />
<line x1="468.56" y1="278.30" x2="468.56" y2="280.30" stroke="#1e1e1e" stroke-width="0.75" />
<line x1="472.87" y1="278.30" x2="472.87" y2="280.30" stroke="#1e1e1e" stroke-width="0.75" />
<line x1="476.21" y1="278.30" x2="476.21" y2="280.30" stroke="#1e1e1e" stroke-width="0.75" />
<line x1="478.95" y1="278.30" x2="478.95" y2="280.30" stroke="#1e1e1e" stroke-width="0.75" />
<line x1="481.26" y1="278.30" x2="481.26" y2="280.30" stroke="#1e1e1e" stroke-width="0.75" />
<line x1="483.26" y1="278.30" x2="483.26" y2="280.30" stroke="#1e1e1e" stroke-width="0.75" />
<line x1="485.02" y1="278.30" x2="485.02" y2="280.30" stroke="#1e1e1e" stroke-width="0.75" />
<line x1="496.99" y1="278.30" x2="496.99" y2="280.30" stroke="#1e1e1e" stroke-width="0.75" />
<line x1="503.06" y1="278.30" x2="503.06" y2="280.30" stroke="#1e1e1e" stroke-width="0.75" />
<line x1="507.37" y1="278.30" x2="507.37" y2="280.30" stroke="#1e1e1e" stroke-width="0.75" />
<line x1="510.71" y1="278.30" x2="510.71" y2="280.30" stroke="#1e1e1e" stroke-width="0.75" />
<text x="429.10" y="288.70" font-size="7.8" text-anchor="middle" fill="#2a2a2a">0</text>
<text x="449.20" y="288.70" font-size="7.8" text-anchor="middle" fill="#2a2a2a">10</text>
<text x="453.60" y="285.30" font-size="6.2" fill="#2a2a2a">3</text>
<text x="484.80" y="288.70" font-size="7.8" text-anchor="middle" fill="#2a2a2a">10</text>
<text x="489.20" y="285.30" font-size="6.2" fill="#2a2a2a">4</text>
<text x="333.45" y="306.70" font-size="9.5" text-anchor="middle" fill="#1e1e1e" >Venetoclax</text>
<circle cx="335.1" cy="337.6" r="0.45" fill="#a2a3bd"/>
<circle cx="315.4" cy="362.1" r="0.45" fill="#a2a3bd"/>
<circle cx="351.1" cy="332.9" r="0.45" fill="#a2a3bd"/>
<circle cx="359.7" cy="340.4" r="0.45" fill="#a2a3bd"/>
<circle cx="309.8" cy="382.3" r="0.45" fill="#a2a3bd"/>
<circle cx="330.2" cy="322.7" r="0.45" fill="#a2a3bd"/>
<circle cx="345.2" cy="322.9" r="0.45" fill="#a2a3bd"/>
<circle cx="347.0" cy="324.8" r="0.45" fill="#a2a3bd"/>
<circle cx="369.8" cy="345.5" r="0.45" fill="#a2a3bd"/>
<circle cx="341.4" cy="316.6" r="0.45" fill="#a2a3bd"/>
<circle cx="326.3" cy="373.7" r="0.45" fill="#a2a3bd"/>
<circle cx="308.7" cy="392.7" r="0.45" fill="#a2a3bd"/>
<circle cx="297.1" cy="325.0" r="0.45" fill="#a2a3bd"/>
<circle cx="358.7" cy="338.0" r="0.45" fill="#a2a3bd"/>
<circle cx="303.3" cy="377.7" r="0.45" fill="#a2a3bd"/>
<circle cx="336.8" cy="353.6" r="0.45" fill="#a2a3bd"/>
<circle cx="361.2" cy="330.5" r="0.45" fill="#a2a3bd"/>
<circle cx="366.6" cy="395.3" r="0.45" fill="#a2a3bd"/>
<circle cx="298.2" cy="390.1" r="0.45" fill="#a2a3bd"/>
<circle cx="371.0" cy="360.6" r="0.45" fill="#a2a3bd"/>
<circle cx="300.0" cy="389.1" r="0.45" fill="#a2a3bd"/>
<circle cx="345.3" cy="345.0" r="0.45" fill="#a2a3bd"/>
<circle cx="378.8" cy="321.1" r="0.45" fill="#a2a3bd"/>
<circle cx="307.4" cy="365.1" r="0.45" fill="#a2a3bd"/>
<circle cx="349.1" cy="316.6" r="0.45" fill="#a2a3bd"/>
<circle cx="343.5" cy="338.4" r="0.45" fill="#a2a3bd"/>
<circle cx="304.4" cy="390.8" r="0.45" fill="#a2a3bd"/>
<circle cx="334.4" cy="395.9" r="0.45" fill="#a2a3bd"/>
<circle cx="360.6" cy="348.4" r="0.45" fill="#a2a3bd"/>
<circle cx="350.2" cy="352.4" r="0.45" fill="#a2a3bd"/>
<circle cx="298.0" cy="361.3" r="0.45" fill="#a2a3bd"/>
<circle cx="316.9" cy="392.6" r="0.45" fill="#a2a3bd"/>
<circle cx="322.8" cy="351.6" r="0.45" fill="#a2a3bd"/>
<circle cx="336.2" cy="328.1" r="0.45" fill="#a2a3bd"/>
<circle cx="325.4" cy="321.3" r="0.45" fill="#a2a3bd"/>
<circle cx="328.8" cy="348.8" r="0.45" fill="#a2a3bd"/>
<circle cx="335.8" cy="372.2" r="0.45" fill="#a2a3bd"/>
<circle cx="344.5" cy="340.3" r="0.45" fill="#a2a3bd"/>
<circle cx="344.1" cy="339.6" r="0.45" fill="#a2a3bd"/>
<circle cx="315.6" cy="361.9" r="0.45" fill="#a2a3bd"/>
<circle cx="309.5" cy="383.7" r="0.45" fill="#a2a3bd"/>
<circle cx="341.0" cy="321.9" r="0.45" fill="#a2a3bd"/>
<circle cx="362.9" cy="347.5" r="0.45" fill="#a2a3bd"/>
<circle cx="311.2" cy="351.3" r="0.45" fill="#a2a3bd"/>
<circle cx="341.3" cy="351.1" r="0.45" fill="#a2a3bd"/>
<circle cx="335.2" cy="352.6" r="0.45" fill="#a2a3bd"/>
<circle cx="331.4" cy="355.2" r="0.45" fill="#a2a3bd"/>
<circle cx="328.5" cy="332.6" r="0.45" fill="#a2a3bd"/>
<circle cx="349.9" cy="362.1" r="0.45" fill="#a2a3bd"/>
<circle cx="351.1" cy="352.6" r="0.45" fill="#a2a3bd"/>
<circle cx="296.0" cy="371.1" r="0.45" fill="#a2a3bd"/>
<circle cx="352.7" cy="329.6" r="0.45" fill="#a2a3bd"/>
<circle cx="303.7" cy="341.5" r="0.45" fill="#a2a3bd"/>
<circle cx="324.9" cy="375.7" r="0.45" fill="#a2a3bd"/>
<circle cx="356.9" cy="351.0" r="0.45" fill="#a2a3bd"/>
<circle cx="354.2" cy="319.3" r="0.45" fill="#a2a3bd"/>
<circle cx="342.3" cy="362.2" r="0.45" fill="#a2a3bd"/>
<circle cx="322.0" cy="372.0" r="0.45" fill="#a2a3bd"/>
<circle cx="340.6" cy="361.4" r="0.45" fill="#a2a3bd"/>
<circle cx="339.1" cy="351.0" r="0.45" fill="#a2a3bd"/>
<circle cx="323.4" cy="355.3" r="0.45" fill="#a2a3bd"/>
<circle cx="374.9" cy="341.6" r="0.45" fill="#a2a3bd"/>
<circle cx="378.5" cy="349.5" r="0.45" fill="#a2a3bd"/>
<circle cx="373.1" cy="332.1" r="0.45" fill="#a2a3bd"/>
<circle cx="323.2" cy="383.1" r="0.45" fill="#a2a3bd"/>
<circle cx="343.5" cy="351.4" r="0.45" fill="#a2a3bd"/>
<circle cx="360.8" cy="347.4" r="0.45" fill="#a2a3bd"/>
<circle cx="347.5" cy="337.4" r="0.45" fill="#a2a3bd"/>
<circle cx="351.7" cy="389.7" r="0.45" fill="#a2a3bd"/>
<circle cx="370.5" cy="361.2" r="0.45" fill="#a2a3bd"/>
<circle cx="346.0" cy="333.4" r="0.45" fill="#a2a3bd"/>
<circle cx="338.6" cy="328.3" r="0.45" fill="#a2a3bd"/>
<circle cx="361.5" cy="334.6" r="0.45" fill="#a2a3bd"/>
<circle cx="345.8" cy="364.7" r="0.45" fill="#a2a3bd"/>
<circle cx="348.5" cy="329.9" r="0.45" fill="#a2a3bd"/>
<circle cx="324.6" cy="336.0" r="0.45" fill="#a2a3bd"/>
<circle cx="353.2" cy="314.6" r="0.45" fill="#a2a3bd"/>
<circle cx="322.7" cy="360.1" r="0.45" fill="#a2a3bd"/>
<circle cx="324.1" cy="361.6" r="0.45" fill="#a2a3bd"/>
<circle cx="344.5" cy="355.4" r="0.45" fill="#a2a3bd"/>
<circle cx="325.7" cy="344.3" r="0.45" fill="#a2a3bd"/>
<circle cx="352.1" cy="342.9" r="0.45" fill="#a2a3bd"/>
<circle cx="375.8" cy="354.4" r="0.45" fill="#a2a3bd"/>
<circle cx="296.1" cy="355.1" r="0.45" fill="#a2a3bd"/>
<circle cx="341.8" cy="351.1" r="0.45" fill="#a2a3bd"/>
<circle cx="313.9" cy="372.5" r="0.45" fill="#a2a3bd"/>
<circle cx="343.3" cy="346.2" r="0.45" fill="#a2a3bd"/>
<circle cx="343.7" cy="329.3" r="0.45" fill="#a2a3bd"/>
<circle cx="351.2" cy="351.3" r="0.45" fill="#a2a3bd"/>
<circle cx="321.2" cy="373.2" r="0.45" fill="#a2a3bd"/>
<circle cx="315.2" cy="375.0" r="0.45" fill="#a2a3bd"/>
<circle cx="327.5" cy="341.3" r="0.45" fill="#a2a3bd"/>
<circle cx="341.6" cy="328.3" r="0.45" fill="#a2a3bd"/>
<circle cx="328.2" cy="336.7" r="0.45" fill="#a2a3bd"/>
<circle cx="334.9" cy="346.5" r="0.45" fill="#a2a3bd"/>
<circle cx="373.9" cy="344.6" r="0.45" fill="#a2a3bd"/>
<circle cx="360.6" cy="335.4" r="0.45" fill="#a2a3bd"/>
<circle cx="361.9" cy="356.2" r="0.45" fill="#a2a3bd"/>
<circle cx="325.0" cy="387.7" r="0.45" fill="#a2a3bd"/>
<circle cx="319.3" cy="379.6" r="0.45" fill="#a2a3bd"/>
<circle cx="345.2" cy="340.2" r="0.45" fill="#a2a3bd"/>
<circle cx="346.7" cy="337.2" r="0.45" fill="#a2a3bd"/>
<circle cx="366.3" cy="355.2" r="0.45" fill="#a2a3bd"/>
<circle cx="369.0" cy="344.2" r="0.45" fill="#a2a3bd"/>
<circle cx="356.2" cy="325.9" r="0.45" fill="#a2a3bd"/>
<circle cx="327.4" cy="380.2" r="0.45" fill="#a2a3bd"/>
<circle cx="293.5" cy="386.8" r="0.45" fill="#a2a3bd"/>
<circle cx="345.0" cy="335.2" r="0.45" fill="#a2a3bd"/>
<circle cx="326.8" cy="362.0" r="0.45" fill="#a2a3bd"/>
<circle cx="325.5" cy="332.0" r="0.45" fill="#a2a3bd"/>
<circle cx="338.9" cy="334.9" r="0.9" fill="#6c6cd0"/>
<circle cx="345.7" cy="334.9" r="0.9" fill="#6c6cd0"/>
<path d="M329.29,342.02 C329.38,343.02 330.33,344.02 330.38,345.07 C330.44,346.12 330.40,347.42 329.64,348.33 C328.88,349.24 327.15,349.90 325.80,350.54 C324.45,351.18 323.08,351.87 321.55,352.16 C320.01,352.45 318.14,352.16 316.58,352.26 C315.02,352.36 313.78,352.49 312.20,352.78 C310.62,353.06 308.51,354.22 307.08,353.99 C305.65,353.75 304.59,352.20 303.59,351.36 C302.60,350.52 302.28,349.58 301.13,348.95 C299.98,348.33 297.79,348.29 296.68,347.63 C295.56,346.98 295.02,345.94 294.42,345.00 C293.81,344.07 293.01,343.01 293.06,342.02 C293.12,341.03 293.86,339.92 294.75,339.09 C295.64,338.26 297.60,337.87 298.39,337.03 C299.18,336.19 298.81,334.98 299.49,334.06 C300.17,333.13 301.29,332.32 302.48,331.47 C303.67,330.62 304.99,329.33 306.61,328.96 C308.23,328.59 310.57,328.68 312.20,329.23 C313.83,329.78 315.09,331.53 316.37,332.26 C317.66,333.00 318.59,333.29 319.91,333.65 C321.23,334.01 322.92,334.01 324.30,334.44 C325.67,334.88 327.22,335.48 328.15,336.25 C329.08,337.02 329.67,338.09 329.86,339.06 C330.05,340.02 329.21,341.02 329.29,342.02 Z" fill="none" stroke="#6d6ad0" stroke-width="0.6" />
<path d="M329.48,341.64 C330.03,342.52 329.67,343.63 329.29,344.55 C328.92,345.48 328.37,346.56 327.23,347.21 C326.10,347.85 324.01,348.17 322.47,348.42 C320.94,348.67 319.29,348.51 318.01,348.73 C316.73,348.95 315.94,349.20 314.80,349.73 C313.67,350.26 312.48,351.71 311.20,351.90 C309.92,352.08 308.27,351.34 307.10,350.85 C305.93,350.36 305.21,349.46 304.18,348.95 C303.14,348.45 302.01,348.27 300.88,347.84 C299.76,347.42 298.49,347.01 297.42,346.42 C296.36,345.84 295.07,345.13 294.50,344.33 C293.92,343.53 293.51,342.46 293.96,341.64 C294.41,340.82 296.39,340.10 297.20,339.39 C298.02,338.67 298.45,338.13 298.87,337.36 C299.29,336.58 299.29,335.72 299.72,334.74 C300.15,333.75 300.26,331.98 301.43,331.46 C302.60,330.95 305.13,331.45 306.76,331.67 C308.38,331.89 309.92,332.34 311.20,332.79 C312.48,333.24 313.41,333.97 314.44,334.36 C315.48,334.75 316.41,334.87 317.43,335.15 C318.45,335.42 319.50,335.66 320.57,336.01 C321.64,336.36 322.95,336.70 323.86,337.25 C324.76,337.79 325.07,338.52 326.00,339.26 C326.94,339.99 328.93,340.76 329.48,341.64 Z" fill="none" stroke="#6d6ad0" stroke-width="0.5" />
<path d="M325.13,345.25 C324.97,345.69 324.58,346.08 324.39,346.51 C324.20,346.95 324.04,347.29 324.02,347.85 C323.99,348.41 324.57,349.33 324.24,349.88 C323.91,350.42 322.90,350.83 322.04,351.12 C321.17,351.41 320.05,351.51 319.05,351.64 C318.04,351.76 316.99,351.93 316.00,351.88 C315.01,351.83 314.07,351.50 313.09,351.34 C312.12,351.19 311.11,351.14 310.15,350.94 C309.18,350.74 307.98,350.55 307.30,350.13 C306.62,349.72 306.04,349.07 306.06,348.47 C306.08,347.87 307.38,347.08 307.43,346.54 C307.49,346.00 306.82,345.75 306.38,345.25 C305.93,344.75 304.98,344.15 304.77,343.56 C304.56,342.97 304.70,342.26 305.14,341.73 C305.57,341.20 306.35,340.59 307.35,340.40 C308.36,340.20 310.07,340.44 311.18,340.56 C312.29,340.68 313.21,341.22 314.02,341.09 C314.82,340.97 315.15,340.22 316.00,339.82 C316.85,339.43 317.95,338.96 319.11,338.73 C320.27,338.51 321.71,338.38 322.97,338.47 C324.23,338.56 326.11,338.69 326.66,339.27 C327.20,339.84 326.47,341.17 326.25,341.93 C326.03,342.69 325.54,343.29 325.36,343.84 C325.17,344.40 325.30,344.81 325.13,345.25 Z" fill="none" stroke="#6d6ad0" stroke-width="0.45" />
<path d="M306.0,352.9 L310.5,357.1 L315.0,352.9" fill="none" stroke="#6d6ad0" stroke-width="0.55" />
<g filter="url(#bl)">
<path d="M324.38,341.07 C324.43,341.76 324.91,342.45 324.88,343.17 C324.84,343.88 324.75,344.73 324.20,345.36 C323.65,346.00 322.56,346.54 321.57,346.97 C320.58,347.39 319.32,347.59 318.24,347.90 C317.15,348.22 316.18,348.53 315.06,348.85 C313.94,349.18 312.78,349.66 311.50,349.87 C310.22,350.07 308.69,350.23 307.37,350.09 C306.05,349.96 304.69,349.54 303.60,349.08 C302.51,348.62 301.63,347.94 300.83,347.32 C300.03,346.70 299.37,346.03 298.82,345.36 C298.26,344.68 297.77,343.98 297.49,343.27 C297.22,342.55 297.13,341.80 297.17,341.07 C297.22,340.34 297.45,339.62 297.74,338.91 C298.03,338.20 298.37,337.48 298.92,336.82 C299.48,336.16 300.16,335.45 301.07,334.96 C301.99,334.48 303.25,334.10 304.42,333.89 C305.60,333.68 306.95,333.76 308.13,333.70 C309.31,333.64 310.31,333.68 311.50,333.54 C312.69,333.39 313.86,332.99 315.28,332.81 C316.69,332.64 318.54,332.31 319.98,332.46 C321.43,332.62 323.09,333.11 323.97,333.77 C324.85,334.43 325.15,335.54 325.26,336.42 C325.36,337.29 324.75,338.24 324.61,339.01 C324.46,339.79 324.34,340.38 324.38,341.07 Z" fill="#bfe6f6" stroke="none" stroke-width="0" />
<path d="M320.68,340.69 C320.74,341.24 321.21,341.76 321.31,342.36 C321.41,342.96 321.59,343.70 321.29,344.29 C320.98,344.87 320.25,345.46 319.47,345.87 C318.68,346.28 317.55,346.52 316.56,346.76 C315.58,346.99 314.57,347.14 313.56,347.28 C312.55,347.43 311.53,347.60 310.50,347.62 C309.47,347.65 308.36,347.60 307.37,347.43 C306.39,347.26 305.45,346.93 304.58,346.61 C303.71,346.29 302.94,345.91 302.14,345.52 C301.35,345.13 300.47,344.75 299.80,344.26 C299.12,343.78 298.40,343.21 298.10,342.61 C297.80,342.02 297.80,341.30 297.99,340.69 C298.18,340.08 298.79,339.49 299.25,338.95 C299.71,338.41 300.24,337.94 300.75,337.44 C301.26,336.94 301.66,336.40 302.30,335.95 C302.93,335.50 303.69,335.03 304.56,334.75 C305.44,334.47 306.54,334.36 307.53,334.27 C308.51,334.19 309.49,334.27 310.50,334.22 C311.51,334.18 312.48,334.05 313.60,334.00 C314.72,333.96 316.10,333.78 317.24,333.94 C318.38,334.10 319.71,334.44 320.42,334.96 C321.14,335.47 321.45,336.32 321.54,337.01 C321.63,337.69 321.10,338.46 320.96,339.07 C320.81,339.68 320.62,340.14 320.68,340.69 Z" fill="#72c9ef" stroke="none" stroke-width="0" />
<path d="M320.68,340.60 C320.93,341.13 321.29,341.76 321.19,342.31 C321.09,342.87 320.68,343.49 320.07,343.93 C319.46,344.36 318.39,344.68 317.50,344.92 C316.61,345.17 315.60,345.24 314.73,345.40 C313.87,345.55 313.13,345.70 312.31,345.85 C311.48,346.01 310.67,346.24 309.80,346.32 C308.93,346.40 307.95,346.43 307.06,346.35 C306.17,346.26 305.28,346.04 304.45,345.81 C303.61,345.58 302.82,345.28 302.04,344.96 C301.27,344.63 300.43,344.28 299.82,343.84 C299.20,343.40 298.60,342.86 298.37,342.32 C298.13,341.78 298.20,341.14 298.40,340.60 C298.60,340.05 299.15,339.53 299.59,339.06 C300.03,338.58 300.53,338.17 301.01,337.74 C301.50,337.31 301.91,336.87 302.49,336.49 C303.07,336.10 303.74,335.71 304.50,335.44 C305.27,335.17 306.20,335.00 307.08,334.88 C307.96,334.76 308.88,334.75 309.80,334.72 C310.72,334.70 311.65,334.67 312.59,334.74 C313.53,334.81 314.57,334.89 315.42,335.12 C316.27,335.36 317.10,335.74 317.68,336.16 C318.27,336.58 318.58,337.14 318.92,337.64 C319.25,338.13 319.41,338.61 319.70,339.10 C319.99,339.60 320.43,340.06 320.68,340.60 Z" fill="#48b0e6" stroke="none" stroke-width="0" />
<ellipse cx="309.40" cy="340.60" rx="8.80" ry="4.81" fill="#80c440" />
<ellipse cx="310.90" cy="340.50" rx="4.60" ry="2.47" fill="#dfe07a" />
<ellipse cx="310.50" cy="340.50" rx="2.40" ry="1.71" fill="#ec2f2a" />
</g>
<path d="M324.38,341.07 C324.43,341.76 324.91,342.45 324.88,343.17 C324.84,343.88 324.75,344.73 324.20,345.36 C323.65,346.00 322.56,346.54 321.57,346.97 C320.58,347.39 319.32,347.59 318.24,347.90 C317.15,348.22 316.18,348.53 315.06,348.85 C313.94,349.18 312.78,349.66 311.50,349.87 C310.22,350.07 308.69,350.23 307.37,350.09 C306.05,349.96 304.69,349.54 303.60,349.08 C302.51,348.62 301.63,347.94 300.83,347.32 C300.03,346.70 299.37,346.03 298.82,345.36 C298.26,344.68 297.77,343.98 297.49,343.27 C297.22,342.55 297.13,341.80 297.17,341.07 C297.22,340.34 297.45,339.62 297.74,338.91 C298.03,338.20 298.37,337.48 298.92,336.82 C299.48,336.16 300.16,335.45 301.07,334.96 C301.99,334.48 303.25,334.10 304.42,333.89 C305.60,333.68 306.95,333.76 308.13,333.70 C309.31,333.64 310.31,333.68 311.50,333.54 C312.69,333.39 313.86,332.99 315.28,332.81 C316.69,332.64 318.54,332.31 319.98,332.46 C321.43,332.62 323.09,333.11 323.97,333.77 C324.85,334.43 325.15,335.54 325.26,336.42 C325.36,337.29 324.75,338.24 324.61,339.01 C324.46,339.79 324.34,340.38 324.38,341.07 Z" fill="none" stroke="#6f86d8" stroke-width="0.45" />
<path d="M321.71,340.69 C321.72,341.28 321.90,341.86 321.83,342.47 C321.76,343.08 321.71,343.78 321.31,344.35 C320.91,344.93 320.20,345.50 319.42,345.93 C318.64,346.35 317.58,346.64 316.62,346.91 C315.65,347.17 314.64,347.35 313.62,347.52 C312.60,347.69 311.57,347.86 310.50,347.93 C309.43,347.99 308.28,348.02 307.21,347.91 C306.13,347.80 305.02,347.56 304.04,347.26 C303.05,346.96 302.09,346.55 301.29,346.10 C300.49,345.64 299.70,345.10 299.22,344.51 C298.73,343.93 298.41,343.23 298.39,342.60 C298.37,341.96 298.75,341.27 299.09,340.69 C299.43,340.11 300.07,339.63 300.43,339.11 C300.79,338.58 301.01,338.13 301.25,337.55 C301.49,336.97 301.46,336.26 301.87,335.62 C302.28,334.99 302.84,334.22 303.69,333.77 C304.54,333.32 305.82,333.02 306.96,332.93 C308.09,332.84 309.39,333.08 310.50,333.23 C311.61,333.38 312.59,333.65 313.62,333.84 C314.66,334.04 315.70,334.13 316.70,334.38 C317.70,334.63 318.84,334.90 319.62,335.34 C320.40,335.77 321.03,336.40 321.38,337.00 C321.74,337.60 321.69,338.31 321.74,338.92 C321.80,339.54 321.69,340.10 321.71,340.69 Z" fill="none" stroke="#5e9ae0" stroke-width="0.35" />
<g filter="url(#bl)">
<path d="M335.38,387.00 C335.47,387.25 336.15,387.49 336.29,387.76 C336.44,388.03 336.70,388.37 336.26,388.63 C335.81,388.90 334.77,389.17 333.64,389.35 C332.51,389.54 330.88,389.65 329.46,389.76 C328.05,389.86 326.60,389.93 325.14,389.99 C323.69,390.06 322.23,390.14 320.75,390.15 C319.27,390.16 317.67,390.14 316.26,390.06 C314.84,389.99 313.50,389.84 312.24,389.69 C310.99,389.55 309.88,389.37 308.74,389.19 C307.59,389.02 306.33,388.84 305.37,388.62 C304.40,388.40 303.36,388.14 302.92,387.87 C302.49,387.60 302.49,387.28 302.77,387.00 C303.04,386.72 303.91,386.45 304.57,386.21 C305.24,385.96 306.01,385.75 306.74,385.52 C307.47,385.30 308.04,385.05 308.96,384.85 C309.87,384.64 310.97,384.43 312.22,384.30 C313.47,384.17 315.05,384.13 316.47,384.09 C317.90,384.05 319.29,384.08 320.75,384.06 C322.21,384.04 323.59,383.98 325.21,383.96 C326.82,383.94 328.81,383.86 330.44,383.93 C332.08,384.01 333.98,384.16 335.01,384.40 C336.04,384.63 336.49,385.02 336.62,385.33 C336.75,385.64 335.99,385.99 335.78,386.26 C335.57,386.54 335.30,386.75 335.38,387.00 Z" fill="#dcf0fa" stroke="none" stroke-width="0" />
</g>
<path d="M338.29,387.00 C338.48,387.30 337.52,387.67 336.73,387.94 C335.95,388.21 334.39,388.38 333.58,388.64 C332.77,388.90 332.82,389.28 331.88,389.48 C330.94,389.68 329.19,389.70 327.95,389.84 C326.71,389.98 325.71,390.24 324.42,390.32 C323.14,390.40 321.61,390.33 320.25,390.31 C318.89,390.29 317.74,390.19 316.24,390.19 C314.73,390.20 312.75,390.39 311.24,390.33 C309.72,390.26 308.47,390.00 307.17,389.79 C305.86,389.58 304.03,389.38 303.39,389.08 C302.74,388.77 303.50,388.31 303.31,387.97 C303.11,387.62 302.02,387.31 302.21,387.00 C302.39,386.69 303.73,386.38 304.40,386.09 C305.07,385.81 305.30,385.49 306.20,385.27 C307.10,385.05 308.57,384.90 309.79,384.77 C311.01,384.65 312.36,384.61 313.53,384.52 C314.69,384.43 315.65,384.47 316.77,384.24 C317.89,384.00 318.77,383.36 320.25,383.10 C321.73,382.85 324.03,382.65 325.65,382.71 C327.27,382.76 328.79,383.14 329.98,383.41 C331.16,383.68 332.19,384.00 332.79,384.33 C333.39,384.65 333.12,385.06 333.58,385.36 C334.04,385.66 334.77,385.85 335.56,386.13 C336.34,386.40 338.09,386.70 338.29,387.00 Z" fill="none" stroke="#6d6ad0" stroke-width="0.55" />
<path d="M329.70,387.20 C329.70,387.37 330.34,387.51 330.59,387.71 C330.84,387.90 331.56,388.20 331.22,388.37 C330.89,388.53 329.46,388.61 328.58,388.69 C327.70,388.76 326.70,388.75 325.92,388.84 C325.14,388.92 324.68,389.06 323.90,389.20 C323.12,389.35 322.29,389.60 321.25,389.72 C320.21,389.84 318.72,389.96 317.66,389.91 C316.60,389.86 315.67,389.60 314.90,389.43 C314.14,389.25 313.63,389.04 313.08,388.86 C312.53,388.67 312.07,388.51 311.61,388.33 C311.15,388.15 310.62,387.98 310.32,387.79 C310.02,387.61 309.80,387.40 309.81,387.20 C309.82,387.00 310.19,386.81 310.38,386.61 C310.57,386.41 310.54,386.18 310.97,386.00 C311.40,385.82 312.14,385.63 312.94,385.52 C313.75,385.40 314.79,385.29 315.80,385.29 C316.81,385.29 318.10,385.47 319.01,385.50 C319.92,385.54 320.40,385.57 321.25,385.49 C322.10,385.42 322.83,385.21 324.09,385.05 C325.36,384.89 327.38,384.57 328.82,384.54 C330.27,384.51 332.08,384.65 332.77,384.87 C333.45,385.08 333.32,385.53 332.95,385.83 C332.58,386.14 331.10,386.47 330.56,386.69 C330.02,386.92 329.69,387.03 329.70,387.20 Z" fill="none" stroke="#7487e0" stroke-width="0.5" />
<path d="M326.30,386.90 C326.20,387.02 326.06,387.13 325.89,387.24 C325.73,387.34 325.50,387.44 325.30,387.55 C325.11,387.67 325.01,387.80 324.71,387.91 C324.41,388.02 323.96,388.10 323.52,388.23 C323.08,388.35 322.69,388.57 322.06,388.66 C321.44,388.74 320.51,388.75 319.75,388.74 C318.99,388.73 318.26,388.64 317.52,388.60 C316.77,388.55 315.96,388.55 315.27,388.48 C314.58,388.41 313.82,388.32 313.40,388.19 C312.98,388.07 312.80,387.88 312.75,387.72 C312.69,387.57 312.74,387.40 313.06,387.26 C313.39,387.13 314.51,387.01 314.70,386.90 C314.89,386.79 314.50,386.73 314.21,386.60 C313.91,386.46 313.13,386.28 312.92,386.10 C312.71,385.92 312.59,385.66 312.94,385.51 C313.30,385.37 314.22,385.25 315.04,385.24 C315.86,385.23 317.07,385.39 317.86,385.46 C318.64,385.54 319.11,385.70 319.75,385.69 C320.39,385.68 320.94,385.48 321.71,385.41 C322.48,385.34 323.47,385.27 324.35,385.28 C325.22,385.28 326.38,385.32 326.94,385.44 C327.50,385.55 327.78,385.78 327.71,385.96 C327.64,386.15 326.75,386.37 326.52,386.53 C326.28,386.69 326.41,386.78 326.30,386.90 Z" fill="none" stroke="#8aa4e8" stroke-width="0.45" />
<path d="M332.17,386.60 C332.30,386.73 332.34,386.91 332.06,387.03 C331.78,387.14 331.14,387.26 330.52,387.30 C329.89,387.33 328.86,387.26 328.31,387.25 C327.76,387.24 327.49,387.20 327.23,387.25 C326.96,387.29 326.96,387.40 326.71,387.51 C326.47,387.62 326.17,387.83 325.75,387.92 C325.33,388.01 324.69,388.06 324.22,388.04 C323.74,388.03 323.20,387.95 322.90,387.85 C322.60,387.75 322.67,387.55 322.40,387.45 C322.12,387.35 321.59,387.34 321.23,387.26 C320.87,387.18 320.36,387.08 320.24,386.97 C320.11,386.86 320.38,386.72 320.50,386.60 C320.62,386.48 320.69,386.36 320.98,386.28 C321.28,386.19 322.04,386.18 322.27,386.09 C322.50,386.00 322.22,385.85 322.37,385.74 C322.51,385.64 322.77,385.51 323.12,385.45 C323.48,385.39 324.04,385.42 324.48,385.40 C324.92,385.39 325.33,385.36 325.75,385.37 C326.17,385.38 326.60,385.40 326.98,385.44 C327.35,385.48 327.63,385.56 328.02,385.61 C328.40,385.65 328.97,385.64 329.28,385.71 C329.59,385.77 329.55,385.91 329.88,386.00 C330.21,386.08 330.89,386.13 331.27,386.23 C331.66,386.33 332.04,386.47 332.17,386.60 Z" fill="none" stroke="#8aa4e8" stroke-width="0.4" />
<path d="M353.64,386.60 C353.88,387.11 353.72,387.70 353.45,388.21 C353.18,388.72 352.73,389.28 352.03,389.67 C351.32,390.07 350.16,390.33 349.21,390.56 C348.26,390.79 347.23,390.87 346.33,391.05 C345.43,391.24 344.69,391.42 343.81,391.66 C342.92,391.89 341.97,392.39 341.00,392.45 C340.03,392.52 338.89,392.26 337.98,392.05 C337.07,391.83 336.35,391.44 335.55,391.16 C334.76,390.88 333.96,390.66 333.20,390.37 C332.43,390.07 331.62,389.77 330.95,389.40 C330.29,389.03 329.56,388.59 329.21,388.13 C328.85,387.66 328.65,387.08 328.83,386.60 C329.01,386.12 329.87,385.66 330.31,385.22 C330.76,384.78 331.11,384.40 331.50,383.95 C331.88,383.51 332.14,383.03 332.62,382.56 C333.11,382.08 333.54,381.37 334.41,381.09 C335.28,380.81 336.73,380.86 337.83,380.88 C338.93,380.90 340.03,381.05 341.00,381.21 C341.97,381.36 342.80,381.64 343.65,381.83 C344.50,382.02 345.30,382.14 346.10,382.34 C346.90,382.53 347.70,382.74 348.45,383.00 C349.21,383.27 350.01,383.56 350.61,383.92 C351.21,384.28 351.54,384.72 352.05,385.17 C352.55,385.62 353.41,386.09 353.64,386.60 Z" fill="none" stroke="#6d6ad0" stroke-width="0.6" />
<g filter="url(#bl)">
<path d="M349.60,386.80 C349.85,387.12 350.23,387.49 350.17,387.83 C350.11,388.16 349.77,388.54 349.23,388.80 C348.69,389.05 347.72,389.23 346.94,389.36 C346.16,389.48 345.27,389.50 344.54,389.58 C343.81,389.65 343.22,389.73 342.55,389.83 C341.87,389.92 341.22,390.07 340.50,390.13 C339.78,390.19 338.96,390.22 338.22,390.18 C337.48,390.13 336.74,390.00 336.04,389.87 C335.33,389.73 334.67,389.57 334.00,389.38 C333.34,389.19 332.59,388.99 332.06,388.73 C331.52,388.48 330.98,388.15 330.78,387.83 C330.59,387.51 330.67,387.12 330.88,386.80 C331.08,386.48 331.61,386.17 332.01,385.90 C332.41,385.62 332.85,385.39 333.26,385.14 C333.66,384.89 333.98,384.63 334.45,384.40 C334.92,384.17 335.46,383.93 336.09,383.77 C336.73,383.62 337.50,383.52 338.24,383.45 C338.97,383.38 339.73,383.38 340.50,383.36 C341.27,383.35 342.04,383.32 342.83,383.35 C343.62,383.38 344.51,383.41 345.23,383.55 C345.95,383.69 346.65,383.92 347.13,384.17 C347.60,384.42 347.82,384.77 348.08,385.06 C348.34,385.36 348.43,385.64 348.68,385.93 C348.93,386.22 349.35,386.48 349.60,386.80 Z" fill="#a4ddf4" stroke="none" stroke-width="0" />
<ellipse cx="340.50" cy="386.80" rx="5.00" ry="1.89" fill="#5cc0ea" />
</g>
<path d="M350.10,386.80 C350.37,387.13 350.77,387.54 350.71,387.89 C350.64,388.24 350.28,388.65 349.72,388.92 C349.15,389.19 348.12,389.37 347.30,389.51 C346.47,389.64 345.54,389.66 344.76,389.74 C343.99,389.82 343.37,389.91 342.66,390.01 C341.95,390.10 341.26,390.27 340.50,390.33 C339.74,390.39 338.88,390.42 338.09,390.37 C337.31,390.33 336.53,390.19 335.79,390.05 C335.05,389.91 334.34,389.73 333.64,389.53 C332.94,389.33 332.16,389.12 331.59,388.85 C331.02,388.57 330.45,388.23 330.24,387.89 C330.04,387.55 330.13,387.14 330.34,386.80 C330.56,386.46 331.12,386.14 331.54,385.84 C331.96,385.55 332.42,385.31 332.85,385.04 C333.28,384.78 333.62,384.50 334.12,384.26 C334.61,384.02 335.18,383.76 335.85,383.60 C336.52,383.43 337.34,383.33 338.11,383.26 C338.89,383.18 339.69,383.18 340.50,383.16 C341.31,383.14 342.13,383.12 342.96,383.15 C343.79,383.18 344.74,383.21 345.49,383.36 C346.25,383.50 346.99,383.75 347.49,384.02 C347.99,384.28 348.22,384.65 348.50,384.96 C348.77,385.27 348.87,385.57 349.13,385.88 C349.40,386.19 349.84,386.47 350.10,386.80 Z" fill="none" stroke="#6a7cd8" stroke-width="0.5" />
<path d="M348.52,386.80 C348.42,387.02 347.98,387.25 347.62,387.43 C347.27,387.61 346.76,387.74 346.39,387.89 C346.02,388.03 345.72,388.16 345.39,388.30 C345.05,388.44 344.76,388.60 344.37,388.72 C343.98,388.83 343.51,388.94 343.04,389.01 C342.56,389.07 342.01,389.09 341.50,389.09 C340.99,389.10 340.45,389.08 339.95,389.03 C339.44,388.99 338.91,388.93 338.47,388.82 C338.03,388.72 337.62,388.57 337.31,388.41 C337.00,388.26 336.82,388.06 336.61,387.89 C336.40,387.71 336.25,387.54 336.04,387.36 C335.83,387.18 335.51,387.01 335.34,386.80 C335.16,386.59 334.93,386.34 334.98,386.13 C335.03,385.91 335.29,385.67 335.65,385.50 C336.01,385.33 336.63,385.22 337.13,385.12 C337.63,385.02 338.19,384.98 338.67,384.91 C339.15,384.84 339.56,384.76 340.04,384.70 C340.51,384.64 341.01,384.55 341.50,384.55 C341.99,384.54 342.53,384.59 342.98,384.67 C343.43,384.75 343.78,384.91 344.17,385.02 C344.56,385.13 344.87,385.23 345.31,385.33 C345.75,385.43 346.33,385.49 346.81,385.62 C347.30,385.75 347.93,385.91 348.21,386.11 C348.50,386.30 348.62,386.58 348.52,386.80 Z" fill="none" stroke="#6a90dc" stroke-width="0.4" />
<rect x="288.60" y="324.90" width="36.3" height="31.7" fill="none" stroke="#7c74cc" stroke-width="0.95"/>
<rect x="326.50" y="374.30" width="32.6" height="23.5" fill="none" stroke="#7c74cc" stroke-width="0.95"/>
<text x="288.20" y="322.80" font-size="7.3" text-anchor="start" fill="#2d69a4" textLength="48" lengthAdjust="spacingAndGlyphs" >CD4+(66,25%)</text>
<text x="325.20" y="372.10" font-size="7.3" text-anchor="start" fill="#2d69a4" textLength="48.3" lengthAdjust="spacingAndGlyphs" >CD8+(11,98%)</text>
<rect x="284.20" y="309.80" width="98.5" height="89.2" fill="none" stroke="#1e1e1e" stroke-width="1.35"/>
<line x1="280.80" y1="309.80" x2="284.20" y2="309.80" stroke="#1e1e1e" stroke-width="1.0" />
<line x1="280.80" y1="338.10" x2="284.20" y2="338.10" stroke="#1e1e1e" stroke-width="1.0" />
<line x1="280.80" y1="365.90" x2="284.20" y2="365.90" stroke="#1e1e1e" stroke-width="1.0" />
<line x1="280.80" y1="387.60" x2="284.20" y2="387.60" stroke="#1e1e1e" stroke-width="1.0" />
<line x1="282.20" y1="329.67" x2="284.20" y2="329.67" stroke="#1e1e1e" stroke-width="0.75" />
<line x1="282.20" y1="324.74" x2="284.20" y2="324.74" stroke="#1e1e1e" stroke-width="0.75" />
<line x1="282.20" y1="321.24" x2="284.20" y2="321.24" stroke="#1e1e1e" stroke-width="0.75" />
<line x1="282.20" y1="318.53" x2="284.20" y2="318.53" stroke="#1e1e1e" stroke-width="0.75" />
<line x1="282.20" y1="316.31" x2="284.20" y2="316.31" stroke="#1e1e1e" stroke-width="0.75" />
<line x1="282.20" y1="314.44" x2="284.20" y2="314.44" stroke="#1e1e1e" stroke-width="0.75" />
<line x1="282.20" y1="312.81" x2="284.20" y2="312.81" stroke="#1e1e1e" stroke-width="0.75" />
<line x1="282.20" y1="311.38" x2="284.20" y2="311.38" stroke="#1e1e1e" stroke-width="0.75" />
<line x1="282.20" y1="357.97" x2="284.20" y2="357.97" stroke="#1e1e1e" stroke-width="0.75" />
<line x1="282.20" y1="353.04" x2="284.20" y2="353.04" stroke="#1e1e1e" stroke-width="0.75" />
<line x1="282.20" y1="349.54" x2="284.20" y2="349.54" stroke="#1e1e1e" stroke-width="0.75" />
<line x1="282.20" y1="346.83" x2="284.20" y2="346.83" stroke="#1e1e1e" stroke-width="0.75" />
<line x1="282.20" y1="344.61" x2="284.20" y2="344.61" stroke="#1e1e1e" stroke-width="0.75" />
<line x1="282.20" y1="342.74" x2="284.20" y2="342.74" stroke="#1e1e1e" stroke-width="0.75" />
<line x1="282.20" y1="341.11" x2="284.20" y2="341.11" stroke="#1e1e1e" stroke-width="0.75" />
<line x1="282.20" y1="339.68" x2="284.20" y2="339.68" stroke="#1e1e1e" stroke-width="0.75" />
<line x1="282.20" y1="381.07" x2="284.20" y2="381.07" stroke="#1e1e1e" stroke-width="0.75" />
<line x1="282.20" y1="377.25" x2="284.20" y2="377.25" stroke="#1e1e1e" stroke-width="0.75" />
<line x1="282.20" y1="374.54" x2="284.20" y2="374.54" stroke="#1e1e1e" stroke-width="0.75" />
<line x1="282.20" y1="372.43" x2="284.20" y2="372.43" stroke="#1e1e1e" stroke-width="0.75" />
<line x1="282.20" y1="370.71" x2="284.20" y2="370.71" stroke="#1e1e1e" stroke-width="0.75" />
<line x1="282.20" y1="369.26" x2="284.20" y2="369.26" stroke="#1e1e1e" stroke-width="0.75" />
<line x1="282.20" y1="368.00" x2="284.20" y2="368.00" stroke="#1e1e1e" stroke-width="0.75" />
<line x1="282.20" y1="366.89" x2="284.20" y2="366.89" stroke="#1e1e1e" stroke-width="0.75" />
<line x1="282.20" y1="390.30" x2="284.20" y2="390.30" stroke="#1e1e1e" stroke-width="0.75" />
<line x1="282.20" y1="393.00" x2="284.20" y2="393.00" stroke="#1e1e1e" stroke-width="0.75" />
<line x1="282.20" y1="395.80" x2="284.20" y2="395.80" stroke="#1e1e1e" stroke-width="0.75" />
<text x="277.20" y="312.60" font-size="7.8" text-anchor="end" fill="#2a2a2a">10</text>
<text x="277.20" y="309.40" font-size="6.2" fill="#2a2a2a">6</text>
<text x="277.20" y="340.90" font-size="7.8" text-anchor="end" fill="#2a2a2a">10</text>
<text x="277.20" y="337.70" font-size="6.2" fill="#2a2a2a">5</text>
<text x="277.20" y="368.70" font-size="7.8" text-anchor="end" fill="#2a2a2a">10</text>
<text x="277.20" y="365.50" font-size="6.2" fill="#2a2a2a">4</text>
<text x="278.20" y="390.40" font-size="7.8" text-anchor="end" fill="#2a2a2a">0</text>
<line x1="298.40" y1="399.00" x2="298.40" y2="402.40" stroke="#1e1e1e" stroke-width="1.0" />
<line x1="321.40" y1="399.00" x2="321.40" y2="402.40" stroke="#1e1e1e" stroke-width="1.0" />
<line x1="355.90" y1="399.00" x2="355.90" y2="402.40" stroke="#1e1e1e" stroke-width="1.0" />
<line x1="285.00" y1="399.00" x2="285.00" y2="401.00" stroke="#1e1e1e" stroke-width="0.75" />
<line x1="287.70" y1="399.00" x2="287.70" y2="401.00" stroke="#1e1e1e" stroke-width="0.75" />
<line x1="290.40" y1="399.00" x2="290.40" y2="401.00" stroke="#1e1e1e" stroke-width="0.75" />
<line x1="293.10" y1="399.00" x2="293.10" y2="401.00" stroke="#1e1e1e" stroke-width="0.75" />
<line x1="295.80" y1="399.00" x2="295.80" y2="401.00" stroke="#1e1e1e" stroke-width="0.75" />
<line x1="302.37" y1="399.00" x2="302.37" y2="401.00" stroke="#1e1e1e" stroke-width="0.75" />
<line x1="305.30" y1="399.00" x2="305.30" y2="401.00" stroke="#1e1e1e" stroke-width="0.75" />
<line x1="307.95" y1="399.00" x2="307.95" y2="401.00" stroke="#1e1e1e" stroke-width="0.75" />
<line x1="310.42" y1="399.00" x2="310.42" y2="401.00" stroke="#1e1e1e" stroke-width="0.75" />
<line x1="312.77" y1="399.00" x2="312.77" y2="401.00" stroke="#1e1e1e" stroke-width="0.75" />
<line x1="315.03" y1="399.00" x2="315.03" y2="401.00" stroke="#1e1e1e" stroke-width="0.75" />
<line x1="317.21" y1="399.00" x2="317.21" y2="401.00" stroke="#1e1e1e" stroke-width="0.75" />
<line x1="319.33" y1="399.00" x2="319.33" y2="401.00" stroke="#1e1e1e" stroke-width="0.75" />
<line x1="331.79" y1="399.00" x2="331.79" y2="401.00" stroke="#1e1e1e" stroke-width="0.75" />
<line x1="337.86" y1="399.00" x2="337.86" y2="401.00" stroke="#1e1e1e" stroke-width="0.75" />
<line x1="342.17" y1="399.00" x2="342.17" y2="401.00" stroke="#1e1e1e" stroke-width="0.75" />
<line x1="345.51" y1="399.00" x2="345.51" y2="401.00" stroke="#1e1e1e" stroke-width="0.75" />
<line x1="348.25" y1="399.00" x2="348.25" y2="401.00" stroke="#1e1e1e" stroke-width="0.75" />
<line x1="350.56" y1="399.00" x2="350.56" y2="401.00" stroke="#1e1e1e" stroke-width="0.75" />
<line x1="352.56" y1="399.00" x2="352.56" y2="401.00" stroke="#1e1e1e" stroke-width="0.75" />
<line x1="354.32" y1="399.00" x2="354.32" y2="401.00" stroke="#1e1e1e" stroke-width="0.75" />
<line x1="366.29" y1="399.00" x2="366.29" y2="401.00" stroke="#1e1e1e" stroke-width="0.75" />
<line x1="372.36" y1="399.00" x2="372.36" y2="401.00" stroke="#1e1e1e" stroke-width="0.75" />
<line x1="376.67" y1="399.00" x2="376.67" y2="401.00" stroke="#1e1e1e" stroke-width="0.75" />
<line x1="380.01" y1="399.00" x2="380.01" y2="401.00" stroke="#1e1e1e" stroke-width="0.75" />
<text x="298.40" y="409.40" font-size="7.8" text-anchor="middle" fill="#2a2a2a">0</text>
<text x="318.50" y="409.40" font-size="7.8" text-anchor="middle" fill="#2a2a2a">10</text>
<text x="322.90" y="406.00" font-size="6.2" fill="#2a2a2a">3</text>
<text x="354.10" y="409.40" font-size="7.8" text-anchor="middle" fill="#2a2a2a">10</text>
<text x="358.50" y="406.00" font-size="6.2" fill="#2a2a2a">4</text>
<text x="463.75" y="306.40" font-size="9.5" text-anchor="middle" fill="#1e1e1e" >Veca + Venetoclax</text>
<circle cx="486.1" cy="347.8" r="0.45" fill="#a2a3bd"/>
<circle cx="487.6" cy="345.4" r="0.45" fill="#a2a3bd"/>
<circle cx="491.7" cy="376.4" r="0.45" fill="#a2a3bd"/>
<circle cx="467.1" cy="338.3" r="0.45" fill="#a2a3bd"/>
<circle cx="483.0" cy="345.7" r="0.45" fill="#a2a3bd"/>
<circle cx="494.3" cy="379.8" r="0.45" fill="#a2a3bd"/>
<circle cx="429.7" cy="370.4" r="0.45" fill="#a2a3bd"/>
<circle cx="449.6" cy="389.6" r="0.45" fill="#a2a3bd"/>
<circle cx="426.4" cy="363.3" r="0.45" fill="#a2a3bd"/>
<circle cx="441.2" cy="365.8" r="0.45" fill="#a2a3bd"/>
<circle cx="500.2" cy="355.4" r="0.45" fill="#a2a3bd"/>
<circle cx="468.6" cy="338.2" r="0.45" fill="#a2a3bd"/>
<circle cx="470.9" cy="386.0" r="0.45" fill="#a2a3bd"/>
<circle cx="441.3" cy="374.1" r="0.45" fill="#a2a3bd"/>
<circle cx="470.0" cy="343.5" r="0.45" fill="#a2a3bd"/>
<circle cx="477.9" cy="337.2" r="0.45" fill="#a2a3bd"/>
<circle cx="469.7" cy="333.6" r="0.45" fill="#a2a3bd"/>
<circle cx="465.7" cy="342.5" r="0.45" fill="#a2a3bd"/>
<circle cx="436.4" cy="347.4" r="0.45" fill="#a2a3bd"/>
<circle cx="470.0" cy="333.4" r="0.45" fill="#a2a3bd"/>
<circle cx="476.3" cy="329.9" r="0.45" fill="#a2a3bd"/>
<circle cx="481.1" cy="337.4" r="0.45" fill="#a2a3bd"/>
<circle cx="479.2" cy="360.7" r="0.45" fill="#a2a3bd"/>
<circle cx="431.3" cy="371.2" r="0.45" fill="#a2a3bd"/>
<circle cx="473.1" cy="341.4" r="0.45" fill="#a2a3bd"/>
<circle cx="455.6" cy="393.1" r="0.45" fill="#a2a3bd"/>
<circle cx="458.0" cy="360.1" r="0.45" fill="#a2a3bd"/>
<circle cx="496.8" cy="336.1" r="0.45" fill="#a2a3bd"/>
<circle cx="492.2" cy="334.7" r="0.45" fill="#a2a3bd"/>
<circle cx="433.4" cy="366.2" r="0.45" fill="#a2a3bd"/>
<circle cx="484.2" cy="349.4" r="0.45" fill="#a2a3bd"/>
<circle cx="448.8" cy="314.3" r="0.45" fill="#a2a3bd"/>
<circle cx="486.7" cy="358.9" r="0.45" fill="#a2a3bd"/>
<circle cx="475.1" cy="345.8" r="0.45" fill="#a2a3bd"/>
<circle cx="457.3" cy="330.6" r="0.45" fill="#a2a3bd"/>
<circle cx="483.4" cy="343.0" r="0.45" fill="#a2a3bd"/>
<circle cx="428.0" cy="360.9" r="0.45" fill="#a2a3bd"/>
<circle cx="476.7" cy="382.2" r="0.45" fill="#a2a3bd"/>
<circle cx="456.2" cy="336.7" r="0.45" fill="#a2a3bd"/>
<circle cx="490.1" cy="339.4" r="0.45" fill="#a2a3bd"/>
<circle cx="473.7" cy="342.3" r="0.45" fill="#a2a3bd"/>
<circle cx="476.7" cy="365.7" r="0.45" fill="#a2a3bd"/>
<circle cx="440.9" cy="360.6" r="0.45" fill="#a2a3bd"/>
<circle cx="476.9" cy="348.7" r="0.45" fill="#a2a3bd"/>
<circle cx="481.0" cy="335.7" r="0.45" fill="#a2a3bd"/>
<circle cx="490.4" cy="333.7" r="0.45" fill="#a2a3bd"/>
<circle cx="455.4" cy="387.6" r="0.45" fill="#a2a3bd"/>
<circle cx="451.8" cy="385.7" r="0.45" fill="#a2a3bd"/>
<circle cx="483.4" cy="345.1" r="0.45" fill="#a2a3bd"/>
<circle cx="500.8" cy="389.5" r="0.45" fill="#a2a3bd"/>
<circle cx="464.6" cy="322.6" r="0.45" fill="#a2a3bd"/>
<circle cx="452.6" cy="378.1" r="0.45" fill="#a2a3bd"/>
<circle cx="447.9" cy="368.9" r="0.45" fill="#a2a3bd"/>
<circle cx="506.0" cy="319.6" r="0.45" fill="#a2a3bd"/>
<circle cx="506.5" cy="368.4" r="0.45" fill="#a2a3bd"/>
<circle cx="481.5" cy="336.8" r="0.45" fill="#a2a3bd"/>
<circle cx="479.5" cy="318.5" r="0.45" fill="#a2a3bd"/>
<circle cx="466.2" cy="328.8" r="0.45" fill="#a2a3bd"/>
<circle cx="456.8" cy="367.2" r="0.45" fill="#a2a3bd"/>
<circle cx="478.2" cy="339.6" r="0.45" fill="#a2a3bd"/>
<circle cx="429.1" cy="380.1" r="0.45" fill="#a2a3bd"/>
<circle cx="455.0" cy="378.9" r="0.45" fill="#a2a3bd"/>
<circle cx="437.0" cy="368.7" r="0.45" fill="#a2a3bd"/>
<circle cx="492.6" cy="327.5" r="0.45" fill="#a2a3bd"/>
<circle cx="473.8" cy="340.0" r="0.45" fill="#a2a3bd"/>
<circle cx="465.0" cy="332.7" r="0.45" fill="#a2a3bd"/>
<circle cx="474.1" cy="324.9" r="0.45" fill="#a2a3bd"/>
<circle cx="478.1" cy="326.0" r="0.45" fill="#a2a3bd"/>
<circle cx="488.3" cy="321.3" r="0.45" fill="#a2a3bd"/>
<circle cx="465.2" cy="337.3" r="0.45" fill="#a2a3bd"/>
<circle cx="434.0" cy="367.7" r="0.45" fill="#a2a3bd"/>
<circle cx="481.7" cy="339.4" r="0.45" fill="#a2a3bd"/>
<circle cx="458.4" cy="323.3" r="0.45" fill="#a2a3bd"/>
<circle cx="454.8" cy="350.1" r="0.45" fill="#a2a3bd"/>
<circle cx="425.0" cy="390.5" r="0.45" fill="#a2a3bd"/>
<circle cx="469.1" cy="362.1" r="0.45" fill="#a2a3bd"/>
<circle cx="478.7" cy="333.6" r="0.45" fill="#a2a3bd"/>
<circle cx="434.6" cy="325.8" r="0.45" fill="#a2a3bd"/>
<circle cx="468.6" cy="353.2" r="0.45" fill="#a2a3bd"/>
<circle cx="483.5" cy="314.0" r="0.45" fill="#a2a3bd"/>
<circle cx="463.2" cy="336.6" r="0.45" fill="#a2a3bd"/>
<circle cx="440.4" cy="362.2" r="0.45" fill="#a2a3bd"/>
<circle cx="483.0" cy="331.3" r="0.45" fill="#a2a3bd"/>
<circle cx="459.0" cy="381.6" r="0.45" fill="#a2a3bd"/>
<circle cx="445.1" cy="370.5" r="0.45" fill="#a2a3bd"/>
<circle cx="461.2" cy="388.4" r="0.45" fill="#a2a3bd"/>
<circle cx="490.7" cy="324.9" r="0.45" fill="#a2a3bd"/>
<circle cx="438.9" cy="364.5" r="0.45" fill="#a2a3bd"/>
<circle cx="435.9" cy="382.8" r="0.45" fill="#a2a3bd"/>
<circle cx="482.3" cy="343.8" r="0.45" fill="#a2a3bd"/>
<circle cx="429.1" cy="391.2" r="0.45" fill="#a2a3bd"/>
<circle cx="466.6" cy="335.4" r="0.45" fill="#a2a3bd"/>
<circle cx="426.0" cy="373.7" r="0.45" fill="#a2a3bd"/>
<circle cx="434.9" cy="367.3" r="0.45" fill="#a2a3bd"/>
<circle cx="475.7" cy="343.0" r="0.45" fill="#a2a3bd"/>
<circle cx="497.9" cy="333.4" r="0.45" fill="#a2a3bd"/>
<circle cx="452.4" cy="393.1" r="0.45" fill="#a2a3bd"/>
<circle cx="464.4" cy="333.4" r="0.45" fill="#a2a3bd"/>
<circle cx="495.3" cy="332.8" r="0.45" fill="#a2a3bd"/>
<circle cx="429.2" cy="367.1" r="0.45" fill="#a2a3bd"/>
<circle cx="450.1" cy="381.2" r="0.45" fill="#a2a3bd"/>
<circle cx="433.7" cy="392.2" r="0.45" fill="#a2a3bd"/>
<circle cx="455.7" cy="325.6" r="0.45" fill="#a2a3bd"/>
<circle cx="434.0" cy="367.6" r="0.45" fill="#a2a3bd"/>
<circle cx="448.3" cy="311.7" r="0.45" fill="#a2a3bd"/>
<circle cx="455.1" cy="346.4" r="0.45" fill="#a2a3bd"/>
<circle cx="433.0" cy="374.0" r="0.45" fill="#a2a3bd"/>
<circle cx="482.5" cy="354.2" r="0.45" fill="#a2a3bd"/>
<circle cx="445.2" cy="372.3" r="0.45" fill="#a2a3bd"/>
<circle cx="475.5" cy="326.3" r="0.45" fill="#a2a3bd"/>
<circle cx="472.6" cy="334.9" r="0.9" fill="#6c6cd0"/>
<circle cx="482.4" cy="329.9" r="0.9" fill="#6c6cd0"/>
<path d="M464.24,341.57 C464.51,342.69 464.42,344.05 463.60,345.05 C462.79,346.05 461.14,347.08 459.34,347.57 C457.53,348.06 454.50,347.80 452.77,347.98 C451.03,348.16 450.04,348.25 448.93,348.64 C447.81,349.03 447.20,349.66 446.08,350.35 C444.95,351.03 443.72,352.26 442.20,352.76 C440.68,353.27 438.67,353.48 436.98,353.38 C435.30,353.29 433.25,352.93 432.09,352.20 C430.93,351.46 431.06,349.78 430.01,348.97 C428.96,348.15 427.00,348.03 425.79,347.32 C424.58,346.61 423.08,345.69 422.75,344.73 C422.42,343.78 423.52,342.58 423.80,341.57 C424.09,340.56 423.59,339.46 424.45,338.69 C425.31,337.92 428.15,337.75 428.97,336.94 C429.80,336.13 428.81,334.73 429.42,333.82 C430.02,332.91 431.22,331.91 432.59,331.48 C433.96,331.04 436.02,331.37 437.63,331.22 C439.23,331.06 440.67,330.58 442.20,330.57 C443.73,330.55 445.42,330.76 446.81,331.13 C448.20,331.51 449.14,332.38 450.54,332.81 C451.94,333.23 454.11,333.09 455.21,333.68 C456.31,334.27 456.02,335.56 457.14,336.34 C458.27,337.12 460.79,337.49 461.97,338.36 C463.15,339.23 463.97,340.46 464.24,341.57 Z" fill="none" stroke="#6d6ad0" stroke-width="0.6" />
<path d="M458.20,341.20 C458.10,341.99 456.97,342.86 456.13,343.53 C455.29,344.20 454.03,344.67 453.15,345.22 C452.27,345.77 451.67,346.31 450.86,346.83 C450.05,347.35 449.20,347.77 448.30,348.36 C447.39,348.95 446.60,349.87 445.42,350.37 C444.24,350.87 442.61,351.35 441.20,351.35 C439.79,351.35 438.25,350.79 436.97,350.39 C435.70,349.99 434.81,349.31 433.53,348.94 C432.26,348.56 430.64,348.54 429.32,348.12 C427.99,347.71 426.20,347.20 425.60,346.45 C425.00,345.70 425.78,344.49 425.73,343.62 C425.67,342.74 424.97,341.96 425.28,341.20 C425.60,340.45 426.78,339.70 427.61,339.08 C428.44,338.47 429.51,338.05 430.28,337.53 C431.05,337.02 431.74,336.71 432.24,335.99 C432.74,335.27 432.52,333.95 433.27,333.21 C434.02,332.46 435.43,332.01 436.75,331.53 C438.07,331.06 439.67,330.45 441.20,330.35 C442.73,330.25 444.51,330.55 445.93,330.93 C447.35,331.30 448.86,331.86 449.72,332.61 C450.57,333.37 450.44,334.72 451.06,335.46 C451.69,336.21 452.52,336.53 453.46,337.08 C454.39,337.64 455.89,338.10 456.68,338.79 C457.47,339.48 458.29,340.41 458.20,341.20 Z" fill="none" stroke="#6d6ad0" stroke-width="0.5" />
<path d="M456.24,344.70 C456.23,345.20 456.31,345.69 456.18,346.18 C456.05,346.68 455.60,347.07 455.46,347.67 C455.31,348.26 455.76,349.20 455.30,349.75 C454.83,350.31 453.65,350.69 452.66,350.97 C451.66,351.25 450.43,351.51 449.32,351.44 C448.21,351.37 446.96,350.87 446.00,350.57 C445.04,350.28 444.40,349.84 443.56,349.66 C442.72,349.47 441.64,349.68 440.96,349.45 C440.27,349.22 439.80,348.68 439.46,348.26 C439.12,347.84 439.33,347.30 438.92,346.92 C438.51,346.55 438.03,346.38 437.01,346.01 C436.00,345.64 433.76,345.27 432.85,344.70 C431.94,344.13 431.37,343.23 431.54,342.59 C431.71,341.96 432.69,341.21 433.87,340.89 C435.05,340.58 437.33,340.74 438.63,340.70 C439.94,340.65 440.89,340.85 441.68,340.63 C442.47,340.41 442.66,339.78 443.38,339.38 C444.10,338.98 445.07,338.34 446.00,338.23 C446.93,338.12 448.15,338.39 448.95,338.71 C449.76,339.03 450.15,339.79 450.84,340.14 C451.53,340.50 452.41,340.55 453.12,340.83 C453.82,341.12 454.56,341.45 455.09,341.85 C455.62,342.24 456.09,342.73 456.28,343.20 C456.47,343.68 456.26,344.20 456.24,344.70 Z" fill="none" stroke="#6d6ad0" stroke-width="0.45" />
<g filter="url(#bl)">
<path d="M456.29,340.65 C456.27,341.37 456.04,342.13 455.62,342.80 C455.20,343.47 454.48,344.10 453.77,344.67 C453.05,345.24 452.20,345.74 451.33,346.23 C450.46,346.71 449.57,347.19 448.55,347.58 C447.54,347.97 446.41,348.34 445.24,348.56 C444.06,348.78 442.75,348.88 441.50,348.89 C440.25,348.90 438.97,348.79 437.73,348.63 C436.49,348.47 435.24,348.26 434.08,347.94 C432.92,347.63 431.70,347.25 430.76,346.74 C429.82,346.24 429.00,345.58 428.46,344.92 C427.91,344.26 427.69,343.49 427.49,342.78 C427.29,342.07 427.28,341.37 427.23,340.65 C427.18,339.93 427.05,339.21 427.20,338.48 C427.34,337.75 427.52,336.92 428.12,336.27 C428.73,335.62 429.74,334.99 430.81,334.59 C431.89,334.19 433.36,334.02 434.58,333.86 C435.81,333.69 437.01,333.72 438.17,333.59 C439.32,333.46 440.31,333.26 441.50,333.09 C442.69,332.92 444.01,332.60 445.32,332.57 C446.63,332.54 448.17,332.61 449.38,332.91 C450.59,333.21 451.71,333.79 452.58,334.37 C453.44,334.95 454.01,335.70 454.54,336.38 C455.07,337.07 455.47,337.77 455.76,338.48 C456.05,339.20 456.32,339.93 456.29,340.65 Z" fill="#bfe6f6" stroke="none" stroke-width="0" />
<path d="M453.33,340.28 C453.30,340.89 452.90,341.53 452.45,342.08 C452.00,342.62 451.27,343.10 450.63,343.56 C449.99,344.01 449.32,344.42 448.60,344.82 C447.88,345.21 447.17,345.62 446.34,345.94 C445.50,346.26 444.56,346.55 443.58,346.73 C442.61,346.90 441.53,346.99 440.50,347.00 C439.47,347.01 438.39,346.94 437.38,346.80 C436.37,346.66 435.33,346.46 434.44,346.16 C433.55,345.86 432.70,345.46 432.03,345.03 C431.36,344.59 430.87,344.05 430.41,343.54 C429.95,343.04 429.63,342.51 429.28,341.97 C428.93,341.42 428.51,340.88 428.29,340.28 C428.08,339.69 427.83,339.01 427.99,338.41 C428.15,337.80 428.61,337.14 429.28,336.66 C429.94,336.18 431.03,335.81 431.98,335.51 C432.92,335.22 434.00,335.10 434.94,334.90 C435.88,334.69 436.71,334.50 437.63,334.30 C438.56,334.10 439.49,333.80 440.50,333.70 C441.51,333.59 442.67,333.53 443.67,333.66 C444.68,333.78 445.68,334.11 446.53,334.44 C447.38,334.77 448.06,335.24 448.77,335.65 C449.49,336.07 450.18,336.48 450.82,336.95 C451.46,337.42 452.21,337.91 452.63,338.47 C453.05,339.02 453.36,339.68 453.33,340.28 Z" fill="#72c9ef" stroke="none" stroke-width="0" />
<path d="M449.54,340.19 C449.51,340.67 449.58,341.13 449.46,341.60 C449.34,342.07 449.19,342.59 448.80,343.02 C448.42,343.45 447.79,343.86 447.15,344.19 C446.50,344.53 445.71,344.78 444.93,345.03 C444.16,345.29 443.37,345.53 442.52,345.71 C441.66,345.89 440.72,346.09 439.80,346.11 C438.88,346.14 437.86,346.04 437.01,345.86 C436.17,345.67 435.41,345.30 434.73,344.98 C434.04,344.66 433.51,344.29 432.92,343.94 C432.33,343.59 431.70,343.28 431.20,342.90 C430.69,342.51 430.14,342.09 429.89,341.64 C429.65,341.19 429.63,340.66 429.72,340.19 C429.81,339.72 430.19,339.28 430.43,338.82 C430.66,338.37 430.87,337.95 431.14,337.47 C431.40,336.99 431.54,336.41 432.01,335.95 C432.49,335.49 433.16,334.96 433.99,334.71 C434.81,334.45 435.99,334.39 436.96,334.42 C437.93,334.46 438.93,334.78 439.80,334.94 C440.67,335.10 441.34,335.29 442.17,335.39 C442.99,335.48 443.86,335.43 444.74,335.53 C445.62,335.64 446.72,335.74 447.46,336.02 C448.21,336.30 448.86,336.77 449.22,337.23 C449.58,337.69 449.57,338.27 449.62,338.76 C449.67,339.25 449.56,339.72 449.54,340.19 Z" fill="#48b0e6" stroke="none" stroke-width="0" />
<ellipse cx="439.40" cy="340.19" rx="8.40" ry="4.44" fill="#80c440" />
<ellipse cx="440.48" cy="340.10" rx="4.60" ry="2.39" fill="#dfe07a" />
<ellipse cx="439.80" cy="340.10" rx="2.40" ry="1.66" fill="#ec2f2a" />
</g>
<path d="M456.29,340.65 C456.27,341.37 456.04,342.13 455.62,342.80 C455.20,343.47 454.48,344.10 453.77,344.67 C453.05,345.24 452.20,345.74 451.33,346.23 C450.46,346.71 449.57,347.19 448.55,347.58 C447.54,347.97 446.41,348.34 445.24,348.56 C444.06,348.78 442.75,348.88 441.50,348.89 C440.25,348.90 438.97,348.79 437.73,348.63 C436.49,348.47 435.24,348.26 434.08,347.94 C432.92,347.63 431.70,347.25 430.76,346.74 C429.82,346.24 429.00,345.58 428.46,344.92 C427.91,344.26 427.69,343.49 427.49,342.78 C427.29,342.07 427.28,341.37 427.23,340.65 C427.18,339.93 427.05,339.21 427.20,338.48 C427.34,337.75 427.52,336.92 428.12,336.27 C428.73,335.62 429.74,334.99 430.81,334.59 C431.89,334.19 433.36,334.02 434.58,333.86 C435.81,333.69 437.01,333.72 438.17,333.59 C439.32,333.46 440.31,333.26 441.50,333.09 C442.69,332.92 444.01,332.60 445.32,332.57 C446.63,332.54 448.17,332.61 449.38,332.91 C450.59,333.21 451.71,333.79 452.58,334.37 C453.44,334.95 454.01,335.70 454.54,336.38 C455.07,337.07 455.47,337.77 455.76,338.48 C456.05,339.20 456.32,339.93 456.29,340.65 Z" fill="none" stroke="#6f86d8" stroke-width="0.45" />
<path d="M453.91,340.28 C453.60,340.92 452.72,341.52 452.07,342.05 C451.43,342.57 450.64,342.95 450.05,343.42 C449.46,343.89 449.10,344.37 448.53,344.85 C447.96,345.33 447.43,345.93 446.63,346.32 C445.84,346.71 444.77,347.04 443.75,347.18 C442.73,347.32 441.55,347.24 440.50,347.18 C439.45,347.12 438.45,346.94 437.43,346.80 C436.41,346.66 435.36,346.56 434.36,346.33 C433.36,346.11 432.25,345.84 431.43,345.44 C430.60,345.04 429.90,344.47 429.43,343.92 C428.96,343.36 428.79,342.70 428.60,342.10 C428.41,341.49 428.34,340.90 428.29,340.28 C428.25,339.67 428.14,339.04 428.32,338.43 C428.51,337.82 428.82,337.16 429.38,336.63 C429.94,336.11 430.84,335.65 431.71,335.29 C432.58,334.93 433.63,334.70 434.60,334.47 C435.56,334.24 436.51,334.06 437.50,333.91 C438.48,333.76 439.49,333.59 440.50,333.57 C441.51,333.54 442.59,333.61 443.58,333.75 C444.56,333.90 445.49,334.19 446.41,334.46 C447.34,334.73 448.21,335.03 449.13,335.38 C450.05,335.72 451.13,336.05 451.94,336.53 C452.74,337.01 453.62,337.61 453.95,338.24 C454.28,338.86 454.22,339.65 453.91,340.28 Z" fill="none" stroke="#5e9ae0" stroke-width="0.35" />
<g filter="url(#bl)">
<path d="M467.86,386.70 C467.82,386.98 467.26,387.28 466.63,387.54 C466.00,387.80 464.98,388.02 464.08,388.24 C463.17,388.45 462.23,388.64 461.22,388.83 C460.22,389.01 459.22,389.20 458.04,389.35 C456.87,389.50 455.55,389.64 454.18,389.72 C452.82,389.80 451.30,389.84 449.85,389.85 C448.40,389.86 446.89,389.82 445.47,389.76 C444.05,389.69 442.59,389.59 441.34,389.46 C440.09,389.32 438.90,389.13 437.95,388.92 C437.01,388.72 436.32,388.47 435.68,388.23 C435.04,387.99 434.59,387.74 434.09,387.49 C433.60,387.23 433.01,386.98 432.71,386.70 C432.41,386.42 432.05,386.10 432.28,385.82 C432.51,385.54 433.16,385.23 434.09,385.00 C435.02,384.77 436.56,384.60 437.88,384.46 C439.21,384.32 440.72,384.27 442.04,384.17 C443.37,384.08 444.52,383.99 445.83,383.89 C447.13,383.80 448.44,383.66 449.85,383.61 C451.26,383.56 452.90,383.53 454.31,383.59 C455.72,383.65 457.12,383.80 458.31,383.96 C459.51,384.12 460.46,384.33 461.47,384.53 C462.47,384.72 463.44,384.92 464.34,385.14 C465.24,385.36 466.29,385.59 466.88,385.85 C467.47,386.11 467.90,386.42 467.86,386.70 Z" fill="#dcf0fa" stroke="none" stroke-width="0" />
</g>
<path d="M468.01,386.70 C467.67,387.02 465.69,387.34 464.56,387.59 C463.43,387.84 462.07,387.98 461.23,388.20 C460.39,388.42 460.18,388.67 459.51,388.92 C458.84,389.16 458.22,389.49 457.20,389.67 C456.18,389.84 454.68,389.91 453.37,389.98 C452.06,390.05 450.77,390.02 449.35,390.08 C447.93,390.14 446.37,390.34 444.87,390.35 C443.38,390.35 441.96,390.19 440.37,390.10 C438.77,390.00 436.54,389.99 435.31,389.77 C434.08,389.54 433.19,389.12 432.99,388.76 C432.78,388.40 433.65,387.94 434.06,387.59 C434.46,387.25 435.22,386.99 435.42,386.70 C435.63,386.41 435.36,386.18 435.29,385.88 C435.22,385.58 434.83,385.23 435.02,384.89 C435.21,384.56 435.51,384.13 436.42,383.88 C437.34,383.62 439.04,383.45 440.50,383.35 C441.95,383.25 443.68,383.28 445.15,383.28 C446.63,383.28 447.99,383.30 449.35,383.33 C450.71,383.35 452.03,383.38 453.34,383.45 C454.65,383.51 455.86,383.63 457.21,383.73 C458.55,383.83 460.18,383.89 461.42,384.07 C462.66,384.24 463.77,384.50 464.64,384.77 C465.50,385.04 466.05,385.37 466.61,385.69 C467.17,386.01 468.35,386.38 468.01,386.70 Z" fill="none" stroke="#6d6ad0" stroke-width="0.55" />
<path d="M461.26,386.90 C461.28,387.10 461.32,387.31 461.10,387.50 C460.87,387.69 460.51,387.90 459.93,388.05 C459.35,388.21 458.37,388.30 457.62,388.42 C456.87,388.53 456.18,388.63 455.43,388.74 C454.68,388.84 453.97,388.97 453.12,389.06 C452.27,389.14 451.28,389.24 450.35,389.24 C449.42,389.24 448.47,389.13 447.56,389.07 C446.65,389.01 445.91,388.92 444.91,388.87 C443.91,388.81 442.38,388.85 441.56,388.73 C440.75,388.61 440.22,388.36 440.01,388.14 C439.80,387.93 440.23,387.67 440.29,387.46 C440.34,387.25 440.41,387.09 440.34,386.90 C440.27,386.71 440.07,386.54 439.86,386.31 C439.66,386.09 438.70,385.73 439.12,385.55 C439.53,385.37 441.30,385.31 442.33,385.23 C443.36,385.15 444.37,385.11 445.31,385.08 C446.25,385.05 447.15,385.06 447.99,385.07 C448.83,385.07 449.48,385.19 450.35,385.12 C451.22,385.05 452.17,384.74 453.24,384.65 C454.31,384.56 455.67,384.54 456.75,384.59 C457.83,384.64 459.14,384.76 459.72,384.95 C460.29,385.13 459.98,385.49 460.19,385.72 C460.40,385.94 460.81,386.11 460.99,386.31 C461.16,386.50 461.25,386.70 461.26,386.90 Z" fill="none" stroke="#7487e0" stroke-width="0.5" />
<path d="M456.57,386.60 C456.44,386.73 455.96,386.87 455.57,386.98 C455.19,387.09 454.50,387.13 454.25,387.25 C453.99,387.37 454.34,387.58 454.05,387.69 C453.76,387.80 453.06,387.87 452.49,387.92 C451.93,387.97 451.26,388.00 450.65,388.01 C450.04,388.02 449.45,388.00 448.85,387.99 C448.25,387.99 447.84,387.94 447.08,387.99 C446.31,388.03 445.23,388.23 444.28,388.26 C443.34,388.29 442.02,388.27 441.40,388.16 C440.78,388.05 440.49,387.80 440.56,387.60 C440.64,387.41 441.31,387.16 441.87,386.99 C442.44,386.82 443.60,386.71 443.94,386.60 C444.28,386.49 444.13,386.45 443.92,386.32 C443.71,386.20 442.76,386.00 442.69,385.85 C442.61,385.71 443.05,385.57 443.46,385.47 C443.87,385.37 444.55,385.31 445.15,385.26 C445.74,385.21 446.41,385.23 447.03,385.17 C447.64,385.12 448.20,384.98 448.85,384.95 C449.50,384.91 450.22,384.95 450.95,384.96 C451.69,384.96 452.56,384.94 453.27,385.00 C453.98,385.05 454.73,385.15 455.20,385.27 C455.67,385.39 455.92,385.57 456.11,385.72 C456.30,385.87 456.26,386.03 456.34,386.18 C456.42,386.33 456.70,386.47 456.57,386.60 Z" fill="none" stroke="#8aa4e8" stroke-width="0.45" />
<path d="M460.56,386.30 C460.60,386.42 460.57,386.57 460.35,386.68 C460.12,386.79 459.66,386.89 459.22,386.96 C458.79,387.02 458.16,387.02 457.73,387.05 C457.31,387.08 456.96,387.06 456.67,387.12 C456.38,387.18 456.30,387.28 455.99,387.41 C455.69,387.54 455.30,387.83 454.85,387.89 C454.40,387.96 453.72,387.88 453.31,387.80 C452.89,387.72 452.53,387.56 452.37,387.42 C452.21,387.28 452.41,387.06 452.35,386.95 C452.29,386.83 452.40,386.78 452.02,386.72 C451.64,386.67 450.64,386.70 450.06,386.63 C449.47,386.56 448.74,386.43 448.51,386.30 C448.29,386.17 448.36,385.98 448.70,385.87 C449.03,385.76 450.05,385.72 450.54,385.65 C451.03,385.59 451.29,385.52 451.65,385.47 C452.00,385.41 452.35,385.38 452.69,385.33 C453.02,385.27 453.30,385.18 453.66,385.14 C454.02,385.11 454.46,385.11 454.85,385.12 C455.24,385.13 455.62,385.17 455.99,385.20 C456.36,385.23 456.64,385.28 457.07,385.30 C457.49,385.33 458.16,385.29 458.54,385.34 C458.92,385.39 459.09,385.53 459.35,385.62 C459.62,385.72 459.91,385.82 460.11,385.93 C460.31,386.05 460.53,386.18 460.56,386.30 Z" fill="none" stroke="#8aa4e8" stroke-width="0.4" />
<path d="M481.84,386.30 C481.81,386.78 481.29,387.31 480.82,387.74 C480.35,388.17 479.61,388.53 479.02,388.90 C478.42,389.26 477.88,389.61 477.24,389.94 C476.60,390.27 475.92,390.57 475.18,390.88 C474.43,391.20 473.68,391.60 472.77,391.83 C471.86,392.06 470.72,392.24 469.70,392.24 C468.68,392.23 467.59,392.01 466.64,391.81 C465.69,391.62 464.89,391.31 463.98,391.08 C463.08,390.85 462.05,390.70 461.19,390.41 C460.34,390.11 459.32,389.76 458.85,389.32 C458.37,388.89 458.46,388.27 458.34,387.77 C458.21,387.27 457.94,386.77 458.09,386.30 C458.25,385.83 458.80,385.36 459.26,384.95 C459.72,384.54 460.32,384.19 460.85,383.83 C461.38,383.47 461.93,383.19 462.44,382.79 C462.95,382.40 463.24,381.83 463.92,381.47 C464.60,381.10 465.57,380.83 466.53,380.59 C467.50,380.36 468.62,380.11 469.70,380.07 C470.78,380.03 471.99,380.16 473.00,380.36 C474.01,380.55 475.03,380.86 475.75,381.24 C476.47,381.62 476.76,382.22 477.32,382.62 C477.87,383.03 478.47,383.32 479.08,383.69 C479.69,384.06 480.51,384.41 480.97,384.84 C481.43,385.28 481.86,385.82 481.84,386.30 Z" fill="none" stroke="#6d6ad0" stroke-width="0.6" />
<g filter="url(#bl)">
<path d="M477.62,386.50 C477.59,386.80 477.69,387.09 477.60,387.39 C477.51,387.69 477.42,388.03 477.09,388.31 C476.76,388.58 476.21,388.84 475.64,389.05 C475.07,389.27 474.36,389.42 473.69,389.58 C473.01,389.75 472.33,389.91 471.59,390.03 C470.84,390.15 470.01,390.30 469.20,390.31 C468.39,390.33 467.48,390.27 466.74,390.14 C466.00,390.01 465.36,389.75 464.77,389.54 C464.19,389.33 463.76,389.08 463.25,388.86 C462.74,388.64 462.18,388.45 461.73,388.21 C461.28,387.97 460.76,387.71 460.54,387.42 C460.32,387.14 460.33,386.80 460.42,386.50 C460.52,386.20 460.89,385.93 461.10,385.64 C461.31,385.35 461.47,385.09 461.67,384.77 C461.87,384.46 461.91,384.07 462.30,383.76 C462.69,383.45 463.27,383.09 464.00,382.93 C464.73,382.76 465.82,382.73 466.69,382.78 C467.55,382.82 468.45,383.07 469.20,383.19 C469.95,383.32 470.50,383.45 471.22,383.51 C471.93,383.57 472.69,383.51 473.49,383.56 C474.28,383.61 475.30,383.64 475.97,383.82 C476.64,383.99 477.23,384.30 477.53,384.59 C477.83,384.89 477.75,385.27 477.77,385.59 C477.79,385.91 477.65,386.20 477.62,386.50 Z" fill="#a4ddf4" stroke="none" stroke-width="0" />
<ellipse cx="469.20" cy="386.50" rx="5.00" ry="1.89" fill="#5cc0ea" />
</g>
<path d="M478.09,386.50 C478.06,386.82 478.16,387.13 478.07,387.45 C477.98,387.76 477.88,388.12 477.53,388.41 C477.18,388.71 476.60,388.98 476.00,389.20 C475.40,389.43 474.65,389.59 473.94,389.76 C473.22,389.94 472.51,390.11 471.72,390.24 C470.93,390.37 470.05,390.52 469.20,390.54 C468.35,390.56 467.38,390.49 466.60,390.35 C465.83,390.22 465.14,389.95 464.53,389.72 C463.91,389.49 463.46,389.23 462.92,389.00 C462.39,388.76 461.79,388.57 461.31,388.31 C460.84,388.06 460.29,387.78 460.06,387.47 C459.83,387.17 459.84,386.81 459.94,386.50 C460.03,386.19 460.43,385.89 460.65,385.59 C460.87,385.28 461.04,385.00 461.25,384.67 C461.46,384.34 461.50,383.93 461.91,383.60 C462.32,383.27 462.94,382.89 463.71,382.72 C464.48,382.54 465.63,382.51 466.55,382.56 C467.46,382.61 468.40,382.87 469.20,383.00 C470.00,383.13 470.58,383.27 471.33,383.34 C472.08,383.40 472.89,383.33 473.72,383.38 C474.56,383.44 475.63,383.47 476.34,383.66 C477.06,383.84 477.67,384.17 477.99,384.48 C478.30,384.79 478.23,385.20 478.25,385.54 C478.26,385.87 478.12,386.18 478.09,386.50 Z" fill="none" stroke="#6a7cd8" stroke-width="0.5" />
<path d="M476.17,386.50 C476.23,386.70 476.36,386.92 476.31,387.13 C476.27,387.34 476.18,387.59 475.90,387.77 C475.62,387.95 475.10,388.10 474.63,388.20 C474.15,388.31 473.54,388.33 473.04,388.40 C472.55,388.46 472.13,388.51 471.66,388.59 C471.18,388.67 470.72,388.82 470.20,388.88 C469.68,388.93 469.02,388.98 468.51,388.92 C468.01,388.86 467.51,388.68 467.18,388.51 C466.85,388.35 466.74,388.09 466.51,387.92 C466.28,387.75 466.12,387.62 465.80,387.48 C465.49,387.34 464.96,387.24 464.60,387.08 C464.23,386.92 463.77,386.71 463.63,386.50 C463.50,386.29 463.61,386.04 463.80,385.84 C463.99,385.64 464.45,385.47 464.80,385.30 C465.15,385.13 465.52,384.99 465.89,384.84 C466.26,384.69 466.60,384.51 467.04,384.40 C467.49,384.28 468.04,384.18 468.57,384.16 C469.09,384.13 469.70,384.20 470.20,384.26 C470.70,384.32 471.13,384.44 471.58,384.52 C472.03,384.59 472.45,384.63 472.91,384.69 C473.38,384.75 473.94,384.79 474.37,384.89 C474.80,385.00 475.23,385.15 475.50,385.32 C475.77,385.49 475.87,385.71 475.98,385.90 C476.09,386.10 476.12,386.30 476.17,386.50 Z" fill="none" stroke="#6a90dc" stroke-width="0.4" />
<rect x="418.90" y="324.60" width="36.3" height="31.7" fill="none" stroke="#7c74cc" stroke-width="0.95"/>
<rect x="456.80" y="374.00" width="32.6" height="23.5" fill="none" stroke="#7c74cc" stroke-width="0.95"/>
<text x="418.50" y="322.50" font-size="7.3" text-anchor="start" fill="#2d69a4" textLength="48" lengthAdjust="spacingAndGlyphs" >CD4+(64,14%)</text>
<text x="455.50" y="371.80" font-size="7.3" text-anchor="start" fill="#2d69a4" textLength="48.3" lengthAdjust="spacingAndGlyphs" >CD8+(12,64%)</text>
<rect x="414.50" y="309.50" width="98.5" height="89.2" fill="none" stroke="#1e1e1e" stroke-width="1.35"/>
<line x1="411.10" y1="309.50" x2="414.50" y2="309.50" stroke="#1e1e1e" stroke-width="1.0" />
<line x1="411.10" y1="337.80" x2="414.50" y2="337.80" stroke="#1e1e1e" stroke-width="1.0" />
<line x1="411.10" y1="365.60" x2="414.50" y2="365.60" stroke="#1e1e1e" stroke-width="1.0" />
<line x1="411.10" y1="387.30" x2="414.50" y2="387.30" stroke="#1e1e1e" stroke-width="1.0" />
<line x1="412.50" y1="329.37" x2="414.50" y2="329.37" stroke="#1e1e1e" stroke-width="0.75" />
<line x1="412.50" y1="324.44" x2="414.50" y2="324.44" stroke="#1e1e1e" stroke-width="0.75" />
<line x1="412.50" y1="320.94" x2="414.50" y2="320.94" stroke="#1e1e1e" stroke-width="0.75" />
<line x1="412.50" y1="318.23" x2="414.50" y2="318.23" stroke="#1e1e1e" stroke-width="0.75" />
<line x1="412.50" y1="316.01" x2="414.50" y2="316.01" stroke="#1e1e1e" stroke-width="0.75" />
<line x1="412.50" y1="314.14" x2="414.50" y2="314.14" stroke="#1e1e1e" stroke-width="0.75" />
<line x1="412.50" y1="312.51" x2="414.50" y2="312.51" stroke="#1e1e1e" stroke-width="0.75" />
<line x1="412.50" y1="311.08" x2="414.50" y2="311.08" stroke="#1e1e1e" stroke-width="0.75" />
<line x1="412.50" y1="357.67" x2="414.50" y2="357.67" stroke="#1e1e1e" stroke-width="0.75" />
<line x1="412.50" y1="352.74" x2="414.50" y2="352.74" stroke="#1e1e1e" stroke-width="0.75" />
<line x1="412.50" y1="349.24" x2="414.50" y2="349.24" stroke="#1e1e1e" stroke-width="0.75" />
<line x1="412.50" y1="346.53" x2="414.50" y2="346.53" stroke="#1e1e1e" stroke-width="0.75" />
<line x1="412.50" y1="344.31" x2="414.50" y2="344.31" stroke="#1e1e1e" stroke-width="0.75" />
<line x1="412.50" y1="342.44" x2="414.50" y2="342.44" stroke="#1e1e1e" stroke-width="0.75" />
<line x1="412.50" y1="340.81" x2="414.50" y2="340.81" stroke="#1e1e1e" stroke-width="0.75" />
<line x1="412.50" y1="339.38" x2="414.50" y2="339.38" stroke="#1e1e1e" stroke-width="0.75" />
<line x1="412.50" y1="380.77" x2="414.50" y2="380.77" stroke="#1e1e1e" stroke-width="0.75" />
<line x1="412.50" y1="376.95" x2="414.50" y2="376.95" stroke="#1e1e1e" stroke-width="0.75" />
<line x1="412.50" y1="374.24" x2="414.50" y2="374.24" stroke="#1e1e1e" stroke-width="0.75" />
<line x1="412.50" y1="372.13" x2="414.50" y2="372.13" stroke="#1e1e1e" stroke-width="0.75" />
<line x1="412.50" y1="370.41" x2="414.50" y2="370.41" stroke="#1e1e1e" stroke-width="0.75" />
<line x1="412.50" y1="368.96" x2="414.50" y2="368.96" stroke="#1e1e1e" stroke-width="0.75" />
<line x1="412.50" y1="367.70" x2="414.50" y2="367.70" stroke="#1e1e1e" stroke-width="0.75" />
<line x1="412.50" y1="366.59" x2="414.50" y2="366.59" stroke="#1e1e1e" stroke-width="0.75" />
<line x1="412.50" y1="390.00" x2="414.50" y2="390.00" stroke="#1e1e1e" stroke-width="0.75" />
<line x1="412.50" y1="392.70" x2="414.50" y2="392.70" stroke="#1e1e1e" stroke-width="0.75" />
<line x1="412.50" y1="395.50" x2="414.50" y2="395.50" stroke="#1e1e1e" stroke-width="0.75" />
<text x="407.50" y="312.30" font-size="7.8" text-anchor="end" fill="#2a2a2a">10</text>
<text x="407.50" y="309.10" font-size="6.2" fill="#2a2a2a">6</text>
<text x="407.50" y="340.60" font-size="7.8" text-anchor="end" fill="#2a2a2a">10</text>
<text x="407.50" y="337.40" font-size="6.2" fill="#2a2a2a">5</text>
<text x="407.50" y="368.40" font-size="7.8" text-anchor="end" fill="#2a2a2a">10</text>
<text x="407.50" y="365.20" font-size="6.2" fill="#2a2a2a">4</text>
<text x="408.50" y="390.10" font-size="7.8" text-anchor="end" fill="#2a2a2a">0</text>
<line x1="428.70" y1="398.70" x2="428.70" y2="402.10" stroke="#1e1e1e" stroke-width="1.0" />
<line x1="451.70" y1="398.70" x2="451.70" y2="402.10" stroke="#1e1e1e" stroke-width="1.0" />
<line x1="486.20" y1="398.70" x2="486.20" y2="402.10" stroke="#1e1e1e" stroke-width="1.0" />
<line x1="415.30" y1="398.70" x2="415.30" y2="400.70" stroke="#1e1e1e" stroke-width="0.75" />
<line x1="418.00" y1="398.70" x2="418.00" y2="400.70" stroke="#1e1e1e" stroke-width="0.75" />
<line x1="420.70" y1="398.70" x2="420.70" y2="400.70" stroke="#1e1e1e" stroke-width="0.75" />
<line x1="423.40" y1="398.70" x2="423.40" y2="400.70" stroke="#1e1e1e" stroke-width="0.75" />
<line x1="426.10" y1="398.70" x2="426.10" y2="400.70" stroke="#1e1e1e" stroke-width="0.75" />
<line x1="432.67" y1="398.70" x2="432.67" y2="400.70" stroke="#1e1e1e" stroke-width="0.75" />
<line x1="435.60" y1="398.70" x2="435.60" y2="400.70" stroke="#1e1e1e" stroke-width="0.75" />
<line x1="438.25" y1="398.70" x2="438.25" y2="400.70" stroke="#1e1e1e" stroke-width="0.75" />
<line x1="440.72" y1="398.70" x2="440.72" y2="400.70" stroke="#1e1e1e" stroke-width="0.75" />
<line x1="443.07" y1="398.70" x2="443.07" y2="400.70" stroke="#1e1e1e" stroke-width="0.75" />
<line x1="445.33" y1="398.70" x2="445.33" y2="400.70" stroke="#1e1e1e" stroke-width="0.75" />
<line x1="447.51" y1="398.70" x2="447.51" y2="400.70" stroke="#1e1e1e" stroke-width="0.75" />
<line x1="449.63" y1="398.70" x2="449.63" y2="400.70" stroke="#1e1e1e" stroke-width="0.75" />
<line x1="462.09" y1="398.70" x2="462.09" y2="400.70" stroke="#1e1e1e" stroke-width="0.75" />
<line x1="468.16" y1="398.70" x2="468.16" y2="400.70" stroke="#1e1e1e" stroke-width="0.75" />
<line x1="472.47" y1="398.70" x2="472.47" y2="400.70" stroke="#1e1e1e" stroke-width="0.75" />
<line x1="475.81" y1="398.70" x2="475.81" y2="400.70" stroke="#1e1e1e" stroke-width="0.75" />
<line x1="478.55" y1="398.70" x2="478.55" y2="400.70" stroke="#1e1e1e" stroke-width="0.75" />
<line x1="480.86" y1="398.70" x2="480.86" y2="400.70" stroke="#1e1e1e" stroke-width="0.75" />
<line x1="482.86" y1="398.70" x2="482.86" y2="400.70" stroke="#1e1e1e" stroke-width="0.75" />
<line x1="484.62" y1="398.70" x2="484.62" y2="400.70" stroke="#1e1e1e" stroke-width="0.75" />
<line x1="496.59" y1="398.70" x2="496.59" y2="400.70" stroke="#1e1e1e" stroke-width="0.75" />
<line x1="502.66" y1="398.70" x2="502.66" y2="400.70" stroke="#1e1e1e" stroke-width="0.75" />
<line x1="506.97" y1="398.70" x2="506.97" y2="400.70" stroke="#1e1e1e" stroke-width="0.75" />
<line x1="510.31" y1="398.70" x2="510.31" y2="400.70" stroke="#1e1e1e" stroke-width="0.75" />
<text x="428.70" y="409.10" font-size="7.8" text-anchor="middle" fill="#2a2a2a">0</text>
<text x="448.80" y="409.10" font-size="7.8" text-anchor="middle" fill="#2a2a2a">10</text>
<text x="453.20" y="405.70" font-size="6.2" fill="#2a2a2a">3</text>
<text x="484.40" y="409.10" font-size="7.8" text-anchor="middle" fill="#2a2a2a">10</text>
<text x="488.80" y="405.70" font-size="6.2" fill="#2a2a2a">4</text>
<text x="333.45" y="425.10" font-size="9.5" text-anchor="middle" fill="#1e1e1e" >PI-3065</text>
<circle cx="319.6" cy="506.2" r="0.45" fill="#a2a3bd"/>
<circle cx="355.9" cy="508.0" r="0.45" fill="#a2a3bd"/>
<circle cx="318.1" cy="465.4" r="0.45" fill="#a2a3bd"/>
<circle cx="325.5" cy="482.2" r="0.45" fill="#a2a3bd"/>
<circle cx="346.5" cy="474.2" r="0.45" fill="#a2a3bd"/>
<circle cx="354.6" cy="459.9" r="0.45" fill="#a2a3bd"/>
<circle cx="363.9" cy="448.9" r="0.45" fill="#a2a3bd"/>
<circle cx="348.1" cy="452.9" r="0.45" fill="#a2a3bd"/>
<circle cx="296.9" cy="478.3" r="0.45" fill="#a2a3bd"/>
<circle cx="307.4" cy="449.9" r="0.45" fill="#a2a3bd"/>
<circle cx="368.0" cy="456.0" r="0.45" fill="#a2a3bd"/>
<circle cx="337.5" cy="487.9" r="0.45" fill="#a2a3bd"/>
<circle cx="363.3" cy="452.5" r="0.45" fill="#a2a3bd"/>
<circle cx="370.0" cy="456.8" r="0.45" fill="#a2a3bd"/>
<circle cx="349.6" cy="465.0" r="0.45" fill="#a2a3bd"/>
<circle cx="341.0" cy="474.7" r="0.45" fill="#a2a3bd"/>
<circle cx="341.4" cy="449.4" r="0.45" fill="#a2a3bd"/>
<circle cx="351.9" cy="446.7" r="0.45" fill="#a2a3bd"/>
<circle cx="327.6" cy="461.4" r="0.45" fill="#a2a3bd"/>
<circle cx="348.7" cy="458.8" r="0.45" fill="#a2a3bd"/>
<circle cx="323.5" cy="478.8" r="0.45" fill="#a2a3bd"/>
<circle cx="305.7" cy="498.6" r="0.45" fill="#a2a3bd"/>
<circle cx="353.5" cy="461.4" r="0.45" fill="#a2a3bd"/>
<circle cx="306.2" cy="494.3" r="0.45" fill="#a2a3bd"/>
<circle cx="374.4" cy="460.5" r="0.45" fill="#a2a3bd"/>
<circle cx="325.7" cy="456.0" r="0.45" fill="#a2a3bd"/>
<circle cx="346.0" cy="437.8" r="0.45" fill="#a2a3bd"/>
<circle cx="291.6" cy="509.9" r="0.45" fill="#a2a3bd"/>
<circle cx="337.3" cy="473.1" r="0.45" fill="#a2a3bd"/>
<circle cx="319.3" cy="508.2" r="0.45" fill="#a2a3bd"/>
<circle cx="342.2" cy="468.9" r="0.45" fill="#a2a3bd"/>
<circle cx="352.2" cy="462.4" r="0.45" fill="#a2a3bd"/>
<circle cx="329.1" cy="483.9" r="0.45" fill="#a2a3bd"/>
<circle cx="361.0" cy="458.0" r="0.45" fill="#a2a3bd"/>
<circle cx="347.5" cy="475.3" r="0.45" fill="#a2a3bd"/>
<circle cx="309.1" cy="493.0" r="0.45" fill="#a2a3bd"/>
<circle cx="348.9" cy="457.6" r="0.45" fill="#a2a3bd"/>
<circle cx="349.5" cy="453.8" r="0.45" fill="#a2a3bd"/>
<circle cx="327.3" cy="500.4" r="0.45" fill="#a2a3bd"/>
<circle cx="296.1" cy="493.5" r="0.45" fill="#a2a3bd"/>
<circle cx="351.8" cy="450.9" r="0.45" fill="#a2a3bd"/>
<circle cx="369.7" cy="459.1" r="0.45" fill="#a2a3bd"/>
<circle cx="329.7" cy="472.3" r="0.45" fill="#a2a3bd"/>
<circle cx="309.9" cy="488.4" r="0.45" fill="#a2a3bd"/>
<circle cx="353.3" cy="468.5" r="0.45" fill="#a2a3bd"/>
<circle cx="376.0" cy="483.7" r="0.45" fill="#a2a3bd"/>
<circle cx="343.5" cy="463.6" r="0.45" fill="#a2a3bd"/>
<circle cx="351.0" cy="435.6" r="0.45" fill="#a2a3bd"/>
<circle cx="350.9" cy="439.0" r="0.45" fill="#a2a3bd"/>
<circle cx="316.8" cy="504.9" r="0.45" fill="#a2a3bd"/>
<circle cx="343.5" cy="449.9" r="0.45" fill="#a2a3bd"/>
<circle cx="348.5" cy="441.0" r="0.45" fill="#a2a3bd"/>
<circle cx="362.6" cy="453.4" r="0.45" fill="#a2a3bd"/>
<circle cx="361.3" cy="460.3" r="0.45" fill="#a2a3bd"/>
<circle cx="339.9" cy="447.4" r="0.45" fill="#a2a3bd"/>
<circle cx="316.2" cy="506.3" r="0.45" fill="#a2a3bd"/>
<circle cx="334.1" cy="443.8" r="0.45" fill="#a2a3bd"/>
<circle cx="305.2" cy="507.9" r="0.45" fill="#a2a3bd"/>
<circle cx="351.2" cy="512.4" r="0.45" fill="#a2a3bd"/>
<circle cx="335.6" cy="475.7" r="0.45" fill="#a2a3bd"/>
<circle cx="360.8" cy="435.0" r="0.45" fill="#a2a3bd"/>
<circle cx="339.3" cy="441.3" r="0.45" fill="#a2a3bd"/>
<circle cx="298.6" cy="505.7" r="0.45" fill="#a2a3bd"/>
<circle cx="339.9" cy="448.4" r="0.45" fill="#a2a3bd"/>
<circle cx="320.9" cy="500.6" r="0.45" fill="#a2a3bd"/>
<circle cx="293.2" cy="483.8" r="0.45" fill="#a2a3bd"/>
<circle cx="341.2" cy="452.4" r="0.45" fill="#a2a3bd"/>
<circle cx="315.5" cy="479.7" r="0.45" fill="#a2a3bd"/>
<circle cx="346.8" cy="463.2" r="0.45" fill="#a2a3bd"/>
<circle cx="343.1" cy="466.1" r="0.45" fill="#a2a3bd"/>
<circle cx="359.3" cy="462.2" r="0.45" fill="#a2a3bd"/>
<circle cx="334.0" cy="448.8" r="0.45" fill="#a2a3bd"/>
<circle cx="346.6" cy="459.0" r="0.45" fill="#a2a3bd"/>
<circle cx="344.0" cy="471.3" r="0.45" fill="#a2a3bd"/>
<circle cx="351.9" cy="449.1" r="0.45" fill="#a2a3bd"/>
<circle cx="342.2" cy="455.7" r="0.45" fill="#a2a3bd"/>
<circle cx="337.8" cy="472.6" r="0.45" fill="#a2a3bd"/>
<circle cx="363.1" cy="466.7" r="0.45" fill="#a2a3bd"/>
<circle cx="316.0" cy="491.2" r="0.45" fill="#a2a3bd"/>
<circle cx="333.5" cy="450.4" r="0.45" fill="#a2a3bd"/>
<circle cx="376.8" cy="482.2" r="0.45" fill="#a2a3bd"/>
<circle cx="346.6" cy="458.9" r="0.45" fill="#a2a3bd"/>
<circle cx="331.0" cy="452.5" r="0.45" fill="#a2a3bd"/>
<circle cx="328.8" cy="440.8" r="0.45" fill="#a2a3bd"/>
<circle cx="338.4" cy="462.8" r="0.45" fill="#a2a3bd"/>
<circle cx="357.8" cy="457.2" r="0.45" fill="#a2a3bd"/>
<circle cx="371.8" cy="481.2" r="0.45" fill="#a2a3bd"/>
<circle cx="360.2" cy="457.5" r="0.45" fill="#a2a3bd"/>
<circle cx="331.6" cy="490.6" r="0.45" fill="#a2a3bd"/>
<circle cx="343.1" cy="472.5" r="0.45" fill="#a2a3bd"/>
<circle cx="336.8" cy="450.2" r="0.45" fill="#a2a3bd"/>
<circle cx="350.6" cy="437.2" r="0.45" fill="#a2a3bd"/>
<circle cx="336.8" cy="457.2" r="0.45" fill="#a2a3bd"/>
<circle cx="359.7" cy="452.4" r="0.45" fill="#a2a3bd"/>
<circle cx="366.5" cy="488.9" r="0.45" fill="#a2a3bd"/>
<circle cx="335.6" cy="450.7" r="0.45" fill="#a2a3bd"/>
<circle cx="314.5" cy="504.4" r="0.45" fill="#a2a3bd"/>
<circle cx="346.9" cy="449.1" r="0.45" fill="#a2a3bd"/>
<circle cx="341.0" cy="467.8" r="0.45" fill="#a2a3bd"/>
<circle cx="335.1" cy="461.7" r="0.45" fill="#a2a3bd"/>
<circle cx="314.1" cy="479.5" r="0.45" fill="#a2a3bd"/>
<circle cx="320.5" cy="466.6" r="0.45" fill="#a2a3bd"/>
<circle cx="338.1" cy="433.4" r="0.45" fill="#a2a3bd"/>
<circle cx="308.0" cy="498.5" r="0.45" fill="#a2a3bd"/>
<circle cx="315.6" cy="495.2" r="0.45" fill="#a2a3bd"/>
<circle cx="323.5" cy="464.4" r="0.45" fill="#a2a3bd"/>
<circle cx="306.2" cy="456.6" r="0.45" fill="#a2a3bd"/>
<circle cx="294.6" cy="507.6" r="0.45" fill="#a2a3bd"/>
<circle cx="308.2" cy="488.3" r="0.45" fill="#a2a3bd"/>
<circle cx="325.9" cy="483.2" r="0.45" fill="#a2a3bd"/>
<path d="M326.77,463.08 C326.84,464.01 326.57,465.07 325.92,465.89 C325.27,466.72 324.03,467.48 322.86,468.03 C321.70,468.58 320.15,468.85 318.94,469.18 C317.73,469.51 316.63,469.60 315.63,470.02 C314.63,470.45 314.00,470.94 312.94,471.72 C311.88,472.50 310.64,474.36 309.28,474.70 C307.91,475.04 306.06,474.25 304.74,473.76 C303.42,473.27 302.07,472.59 301.34,471.76 C300.60,470.92 300.63,469.59 300.31,468.74 C299.98,467.89 300.37,467.20 299.41,466.67 C298.45,466.15 295.97,466.17 294.54,465.57 C293.12,464.97 291.43,464.01 290.87,463.08 C290.30,462.15 290.27,460.81 291.14,460.01 C292.01,459.21 294.80,458.86 296.10,458.28 C297.39,457.70 297.89,457.02 298.93,456.55 C299.96,456.08 301.21,455.88 302.29,455.45 C303.37,455.02 304.24,454.26 305.41,453.97 C306.57,453.67 308.01,453.63 309.28,453.68 C310.54,453.73 311.85,453.97 313.02,454.26 C314.19,454.54 315.01,455.14 316.30,455.40 C317.60,455.66 319.64,455.38 320.77,455.83 C321.90,456.27 322.27,457.31 323.06,458.06 C323.85,458.81 324.89,459.50 325.51,460.34 C326.13,461.17 326.70,462.15 326.77,463.08 Z" fill="none" stroke="#6d6ad0" stroke-width="0.6" />
<path d="M321.37,462.76 C321.47,463.42 320.97,464.05 320.92,464.78 C320.87,465.52 321.23,466.35 321.07,467.18 C320.90,468.00 320.72,469.08 319.93,469.72 C319.13,470.35 317.69,470.99 316.29,470.99 C314.89,471.00 312.84,470.05 311.53,469.74 C310.22,469.43 309.41,469.26 308.44,469.13 C307.47,468.99 306.77,468.89 305.70,468.94 C304.64,469.00 303.23,469.50 302.04,469.47 C300.86,469.43 299.38,469.20 298.58,468.73 C297.78,468.27 297.43,467.37 297.25,466.67 C297.07,465.97 297.61,465.19 297.49,464.54 C297.38,463.88 296.77,463.39 296.56,462.76 C296.36,462.13 296.42,461.53 296.26,460.78 C296.10,460.04 295.41,459.06 295.61,458.27 C295.80,457.49 296.58,456.70 297.43,456.09 C298.28,455.49 299.51,455.00 300.69,454.63 C301.87,454.27 303.23,453.94 304.53,453.91 C305.82,453.88 307.23,454.23 308.44,454.45 C309.64,454.68 310.72,454.97 311.75,455.27 C312.79,455.56 313.80,455.84 314.66,456.23 C315.52,456.63 316.26,457.13 316.91,457.63 C317.56,458.13 318.02,458.68 318.58,459.21 C319.15,459.75 319.84,460.24 320.31,460.83 C320.77,461.43 321.27,462.10 321.37,462.76 Z" fill="none" stroke="#6d6ad0" stroke-width="0.5" />
<path d="M320.01,465.80 C319.60,466.16 318.50,466.33 318.39,466.70 C318.27,467.07 319.06,467.49 319.32,468.04 C319.57,468.60 320.21,469.56 319.91,470.02 C319.62,470.48 318.42,470.69 317.56,470.81 C316.71,470.92 315.63,470.63 314.78,470.71 C313.93,470.79 313.24,471.27 312.45,471.29 C311.67,471.31 310.86,470.96 310.08,470.80 C309.30,470.65 308.49,470.58 307.79,470.36 C307.10,470.15 306.51,469.81 305.90,469.50 C305.29,469.20 304.72,468.88 304.14,468.52 C303.56,468.15 302.75,467.77 302.42,467.32 C302.09,466.87 301.75,466.25 302.15,465.80 C302.55,465.35 303.84,464.89 304.80,464.64 C305.77,464.40 307.44,464.57 307.96,464.33 C308.48,464.10 308.02,463.82 307.94,463.25 C307.86,462.68 307.18,461.49 307.46,460.91 C307.73,460.33 308.77,460.00 309.60,459.79 C310.43,459.57 311.59,459.42 312.45,459.60 C313.31,459.79 313.99,460.63 314.78,460.89 C315.57,461.15 316.37,461.03 317.18,461.17 C317.99,461.31 318.90,461.46 319.64,461.74 C320.38,462.01 321.41,462.34 321.61,462.81 C321.81,463.28 321.11,464.03 320.84,464.53 C320.57,465.03 320.42,465.44 320.01,465.80 Z" fill="none" stroke="#6d6ad0" stroke-width="0.45" />
<g filter="url(#bl)">
<path d="M322.67,462.28 C322.50,462.89 321.95,463.45 321.67,464.05 C321.39,464.65 321.31,465.24 320.99,465.88 C320.68,466.52 320.50,467.33 319.80,467.90 C319.10,468.47 317.99,469.05 316.80,469.32 C315.62,469.58 314.01,469.55 312.70,469.50 C311.40,469.45 310.16,469.15 308.98,469.04 C307.79,468.93 306.77,468.89 305.60,468.82 C304.43,468.74 303.09,468.80 301.95,468.59 C300.81,468.39 299.55,468.05 298.75,467.59 C297.95,467.12 297.48,466.43 297.14,465.83 C296.80,465.23 296.85,464.58 296.72,463.99 C296.59,463.39 296.46,462.86 296.36,462.28 C296.27,461.70 296.06,461.10 296.15,460.50 C296.24,459.89 296.47,459.25 296.90,458.66 C297.33,458.07 297.98,457.50 298.73,456.96 C299.47,456.42 300.32,455.86 301.35,455.42 C302.37,454.98 303.61,454.52 304.88,454.34 C306.15,454.16 307.71,454.16 308.98,454.36 C310.24,454.56 311.46,455.10 312.46,455.53 C313.46,455.95 314.10,456.52 314.95,456.91 C315.80,457.29 316.59,457.52 317.54,457.83 C318.48,458.15 319.77,458.36 320.63,458.79 C321.49,459.21 322.37,459.79 322.71,460.37 C323.05,460.95 322.85,461.67 322.67,462.28 Z" fill="#bfe6f6" stroke="none" stroke-width="0" />
<path d="M319.48,461.96 C319.75,462.47 320.08,463.06 320.04,463.61 C320.00,464.16 319.79,464.80 319.25,465.28 C318.71,465.75 317.74,466.18 316.82,466.46 C315.89,466.75 314.69,466.85 313.68,466.98 C312.68,467.11 311.73,467.15 310.78,467.23 C309.84,467.32 308.96,467.46 308.03,467.50 C307.09,467.53 306.06,467.57 305.15,467.45 C304.25,467.33 303.35,467.06 302.59,466.79 C301.82,466.51 301.24,466.12 300.57,465.78 C299.90,465.44 299.25,465.13 298.56,464.76 C297.88,464.39 296.98,464.02 296.45,463.55 C295.92,463.08 295.41,462.49 295.38,461.96 C295.34,461.43 295.76,460.82 296.26,460.34 C296.75,459.87 297.67,459.48 298.36,459.10 C299.05,458.72 299.74,458.42 300.41,458.06 C301.08,457.70 301.61,457.27 302.36,456.93 C303.11,456.59 303.97,456.20 304.92,456.02 C305.86,455.84 307.02,455.77 308.03,455.83 C309.03,455.88 310.06,456.13 310.96,456.35 C311.86,456.58 312.65,456.89 313.41,457.18 C314.17,457.48 314.87,457.79 315.50,458.13 C316.13,458.48 316.69,458.85 317.18,459.25 C317.67,459.65 318.06,460.08 318.45,460.53 C318.83,460.98 319.22,461.45 319.48,461.96 Z" fill="#72c9ef" stroke="none" stroke-width="0" />
<path d="M316.43,461.88 C316.23,462.27 315.84,462.61 315.59,462.98 C315.35,463.34 315.21,463.69 314.98,464.07 C314.75,464.46 314.61,464.91 314.20,465.29 C313.78,465.66 313.21,466.07 312.51,466.32 C311.81,466.57 310.85,466.73 310.00,466.79 C309.14,466.84 308.19,466.77 307.36,466.68 C306.53,466.59 305.73,466.43 305.00,466.27 C304.27,466.10 303.58,465.90 302.96,465.68 C302.34,465.45 301.79,465.19 301.28,464.91 C300.78,464.63 300.35,464.33 299.93,464.02 C299.51,463.70 299.10,463.39 298.75,463.03 C298.41,462.67 298.04,462.28 297.88,461.88 C297.73,461.48 297.67,461.02 297.83,460.61 C297.99,460.20 298.38,459.78 298.83,459.43 C299.29,459.07 299.92,458.76 300.55,458.48 C301.17,458.21 301.86,457.95 302.58,457.75 C303.30,457.55 304.09,457.37 304.89,457.29 C305.69,457.21 306.57,457.20 307.36,457.26 C308.15,457.32 308.92,457.50 309.64,457.64 C310.36,457.79 311.00,457.97 311.69,458.14 C312.39,458.31 313.14,458.44 313.82,458.66 C314.51,458.88 315.31,459.12 315.80,459.45 C316.29,459.78 316.66,460.22 316.77,460.62 C316.87,461.03 316.62,461.49 316.43,461.88 Z" fill="#48b0e6" stroke="none" stroke-width="0" />
<ellipse cx="306.98" cy="461.88" rx="7.60" ry="3.68" fill="#80c440" />
<ellipse cx="307.55" cy="461.80" rx="4.37" ry="2.08" fill="#dfe07a" />
<ellipse cx="306.60" cy="461.80" rx="2.28" ry="1.44" fill="#ec2f2a" />
</g>
<path d="M322.67,462.28 C322.50,462.89 321.95,463.45 321.67,464.05 C321.39,464.65 321.31,465.24 320.99,465.88 C320.68,466.52 320.50,467.33 319.80,467.90 C319.10,468.47 317.99,469.05 316.80,469.32 C315.62,469.58 314.01,469.55 312.70,469.50 C311.40,469.45 310.16,469.15 308.98,469.04 C307.79,468.93 306.77,468.89 305.60,468.82 C304.43,468.74 303.09,468.80 301.95,468.59 C300.81,468.39 299.55,468.05 298.75,467.59 C297.95,467.12 297.48,466.43 297.14,465.83 C296.80,465.23 296.85,464.58 296.72,463.99 C296.59,463.39 296.46,462.86 296.36,462.28 C296.27,461.70 296.06,461.10 296.15,460.50 C296.24,459.89 296.47,459.25 296.90,458.66 C297.33,458.07 297.98,457.50 298.73,456.96 C299.47,456.42 300.32,455.86 301.35,455.42 C302.37,454.98 303.61,454.52 304.88,454.34 C306.15,454.16 307.71,454.16 308.98,454.36 C310.24,454.56 311.46,455.10 312.46,455.53 C313.46,455.95 314.10,456.52 314.95,456.91 C315.80,457.29 316.59,457.52 317.54,457.83 C318.48,458.15 319.77,458.36 320.63,458.79 C321.49,459.21 322.37,459.79 322.71,460.37 C323.05,460.95 322.85,461.67 322.67,462.28 Z" fill="none" stroke="#6f86d8" stroke-width="0.45" />
<path d="M319.71,461.96 C319.77,462.49 319.67,463.03 319.50,463.56 C319.33,464.09 319.13,464.66 318.71,465.17 C318.28,465.67 317.70,466.21 316.93,466.60 C316.17,466.98 315.11,467.27 314.12,467.46 C313.14,467.65 312.02,467.68 311.00,467.75 C309.99,467.82 309.03,467.86 308.03,467.88 C307.02,467.91 305.95,468.00 304.97,467.90 C303.98,467.81 302.87,467.62 302.10,467.30 C301.33,466.98 300.76,466.43 300.32,465.97 C299.88,465.51 299.83,464.97 299.44,464.54 C299.06,464.10 298.63,463.78 298.02,463.35 C297.42,462.92 296.36,462.50 295.81,461.96 C295.27,461.42 294.66,460.69 294.75,460.11 C294.84,459.52 295.55,458.88 296.35,458.45 C297.16,458.03 298.54,457.80 299.58,457.57 C300.62,457.34 301.66,457.26 302.59,457.06 C303.52,456.86 304.25,456.59 305.15,456.38 C306.06,456.17 307.04,455.89 308.03,455.82 C309.01,455.76 310.15,455.84 311.09,456.01 C312.03,456.19 312.88,456.56 313.67,456.87 C314.45,457.19 315.11,457.56 315.79,457.92 C316.46,458.28 317.17,458.63 317.74,459.04 C318.31,459.45 318.86,459.92 319.19,460.40 C319.52,460.89 319.66,461.43 319.71,461.96 Z" fill="none" stroke="#5e9ae0" stroke-width="0.35" />
<g filter="url(#bl)">
<path d="M330.40,506.00 C330.76,506.34 331.21,506.73 331.16,507.10 C331.11,507.47 330.81,507.90 330.09,508.22 C329.36,508.53 328.05,508.82 326.80,509.01 C325.54,509.20 323.92,509.27 322.56,509.35 C321.20,509.44 319.92,509.46 318.64,509.52 C317.37,509.58 316.18,509.67 314.91,509.70 C313.64,509.72 312.26,509.74 311.03,509.67 C309.81,509.59 308.59,509.41 307.56,509.22 C306.53,509.04 305.74,508.78 304.83,508.55 C303.92,508.33 303.05,508.12 302.12,507.87 C301.19,507.62 299.98,507.37 299.27,507.06 C298.55,506.75 297.85,506.36 297.81,506.00 C297.77,505.64 298.33,505.24 299.00,504.92 C299.67,504.60 300.91,504.35 301.84,504.09 C302.78,503.84 303.72,503.64 304.62,503.40 C305.52,503.15 306.24,502.87 307.26,502.64 C308.27,502.42 309.44,502.16 310.71,502.03 C311.99,501.91 313.55,501.87 314.91,501.91 C316.27,501.94 317.67,502.10 318.88,502.25 C320.09,502.40 321.17,502.61 322.19,502.81 C323.21,503.01 324.16,503.21 325.01,503.44 C325.86,503.67 326.63,503.92 327.29,504.19 C327.96,504.46 328.48,504.74 329.00,505.04 C329.52,505.35 330.04,505.66 330.40,506.00 Z" fill="#dcf0fa" stroke="none" stroke-width="0" />
</g>
<path d="M330.56,506.00 C330.36,506.42 330.16,506.85 329.53,507.20 C328.91,507.55 327.75,507.85 326.79,508.12 C325.83,508.38 324.81,508.60 323.80,508.78 C322.78,508.97 321.62,508.98 320.70,509.23 C319.78,509.48 319.33,510.04 318.28,510.28 C317.24,510.53 315.78,510.62 314.41,510.71 C313.04,510.80 311.16,511.04 310.05,510.82 C308.95,510.60 308.43,509.80 307.80,509.40 C307.16,509.00 307.12,508.65 306.25,508.42 C305.37,508.19 304.01,508.21 302.55,508.03 C301.10,507.85 298.70,507.68 297.52,507.34 C296.34,507.00 295.41,506.44 295.50,506.00 C295.59,505.56 296.90,505.04 298.05,504.70 C299.19,504.36 301.19,504.18 302.38,503.94 C303.57,503.70 304.32,503.50 305.20,503.27 C306.07,503.03 306.73,502.76 307.63,502.52 C308.54,502.28 309.50,501.89 310.62,501.81 C311.75,501.73 313.20,501.97 314.41,502.03 C315.62,502.09 316.72,502.10 317.88,502.17 C319.03,502.24 320.08,502.35 321.33,502.45 C322.59,502.54 324.19,502.56 325.40,502.74 C326.61,502.93 327.73,503.24 328.62,503.57 C329.50,503.90 330.40,504.30 330.72,504.70 C331.05,505.11 330.76,505.58 330.56,506.00 Z" fill="none" stroke="#6d6ad0" stroke-width="0.55" />
<path d="M324.96,506.20 C324.71,506.45 324.56,506.65 324.47,506.90 C324.38,507.15 324.48,507.40 324.41,507.70 C324.35,508.00 324.58,508.45 324.08,508.70 C323.58,508.94 322.35,509.08 321.39,509.18 C320.43,509.29 319.33,509.41 318.33,509.34 C317.33,509.26 316.28,508.84 315.41,508.73 C314.54,508.62 313.97,508.66 313.12,508.66 C312.27,508.67 311.19,508.80 310.30,508.75 C309.41,508.71 308.40,508.58 307.78,508.40 C307.17,508.22 306.63,507.93 306.62,507.66 C306.61,507.39 307.53,507.04 307.71,506.79 C307.89,506.55 307.98,506.42 307.71,506.20 C307.43,505.98 306.19,505.71 306.06,505.48 C305.94,505.24 306.66,505.03 306.97,504.80 C307.28,504.56 307.52,504.31 307.94,504.05 C308.36,503.79 308.82,503.50 309.49,503.25 C310.17,502.99 311.00,502.60 311.99,502.52 C312.98,502.45 314.46,502.60 315.41,502.81 C316.36,503.02 317.11,503.48 317.68,503.76 C318.26,504.04 318.41,504.31 318.86,504.48 C319.32,504.64 319.73,504.68 320.42,504.76 C321.11,504.83 322.09,504.83 323.01,504.94 C323.93,505.04 325.61,505.18 325.94,505.39 C326.26,505.60 325.20,505.95 324.96,506.20 Z" fill="none" stroke="#7487e0" stroke-width="0.5" />
<path d="M320.80,505.90 C320.91,506.07 321.12,506.28 321.01,506.45 C320.89,506.62 320.58,506.82 320.13,506.94 C319.69,507.06 318.85,507.09 318.33,507.18 C317.81,507.26 317.49,507.39 317.01,507.45 C316.53,507.52 315.96,507.48 315.44,507.55 C314.93,507.63 314.48,507.84 313.91,507.90 C313.34,507.96 312.62,507.97 312.03,507.94 C311.43,507.90 310.96,507.76 310.35,507.69 C309.73,507.62 308.89,507.62 308.35,507.51 C307.80,507.40 307.28,507.22 307.07,507.04 C306.85,506.86 306.79,506.62 307.05,506.43 C307.32,506.24 308.28,506.05 308.65,505.90 C309.02,505.75 309.17,505.67 309.29,505.54 C309.40,505.41 309.41,505.32 309.34,505.14 C309.26,504.95 308.81,504.67 308.83,504.43 C308.86,504.19 308.97,503.79 309.50,503.69 C310.02,503.58 311.25,503.75 311.98,503.82 C312.72,503.88 313.33,504.03 313.91,504.10 C314.50,504.16 314.89,504.20 315.49,504.20 C316.08,504.21 316.78,504.11 317.46,504.12 C318.15,504.13 319.15,504.13 319.58,504.26 C320.01,504.39 319.93,504.68 320.06,504.87 C320.18,505.06 320.19,505.23 320.32,505.40 C320.44,505.57 320.68,505.73 320.80,505.90 Z" fill="none" stroke="#8aa4e8" stroke-width="0.45" />
<path d="M323.96,505.60 C323.79,505.72 323.40,505.82 323.19,505.92 C322.99,506.01 322.79,506.06 322.72,506.18 C322.65,506.30 322.86,506.48 322.79,506.63 C322.72,506.79 322.59,507.00 322.32,507.09 C322.04,507.19 321.53,507.22 321.13,507.23 C320.73,507.23 320.30,507.17 319.91,507.14 C319.53,507.12 319.23,507.06 318.83,507.06 C318.43,507.05 317.91,507.13 317.51,507.09 C317.11,507.06 316.71,506.96 316.44,506.85 C316.18,506.73 315.92,506.58 315.92,506.43 C315.92,506.28 316.40,506.07 316.47,505.93 C316.53,505.79 316.52,505.73 316.30,505.60 C316.08,505.47 315.31,505.30 315.16,505.14 C315.00,504.99 315.17,504.79 315.37,504.66 C315.57,504.52 315.91,504.36 316.37,504.33 C316.83,504.30 317.67,504.46 318.13,504.49 C318.59,504.53 318.83,504.57 319.12,504.54 C319.42,504.51 319.59,504.39 319.91,504.31 C320.24,504.22 320.62,504.11 321.07,504.05 C321.52,503.98 322.20,503.88 322.62,503.92 C323.04,503.96 323.31,504.15 323.58,504.28 C323.86,504.41 324.15,504.55 324.26,504.70 C324.38,504.85 324.32,505.03 324.27,505.18 C324.22,505.33 324.14,505.48 323.96,505.60 Z" fill="none" stroke="#8aa4e8" stroke-width="0.4" />
<path d="M345.57,505.60 C345.63,506.15 345.36,506.70 345.25,507.29 C345.13,507.87 345.17,508.51 344.87,509.12 C344.57,509.72 344.19,510.45 343.45,510.92 C342.71,511.39 341.56,511.83 340.42,511.95 C339.29,512.07 337.79,511.73 336.67,511.64 C335.55,511.55 334.66,511.47 333.70,511.40 C332.74,511.34 331.92,511.28 330.93,511.25 C329.93,511.22 328.75,511.37 327.73,511.24 C326.72,511.10 325.56,510.84 324.83,510.44 C324.09,510.05 323.63,509.41 323.32,508.87 C323.01,508.32 323.14,507.71 322.98,507.17 C322.82,506.62 322.48,506.14 322.37,505.60 C322.26,505.06 322.30,504.52 322.32,503.94 C322.34,503.35 322.18,502.65 322.50,502.07 C322.83,501.49 323.51,500.91 324.27,500.46 C325.03,500.00 326.04,499.61 327.05,499.32 C328.06,499.03 329.20,498.78 330.31,498.71 C331.42,498.63 332.62,498.75 333.70,498.85 C334.78,498.96 335.80,499.14 336.77,499.35 C337.74,499.56 338.68,499.80 339.51,500.11 C340.35,500.42 341.11,500.80 341.77,501.20 C342.44,501.60 342.99,502.05 343.51,502.51 C344.03,502.97 344.55,503.45 344.89,503.96 C345.24,504.48 345.52,505.05 345.57,505.60 Z" fill="none" stroke="#6d6ad0" stroke-width="0.6" />
<g filter="url(#bl)">
<path d="M343.43,505.80 C343.21,506.24 342.76,506.62 342.49,507.03 C342.21,507.44 342.06,507.83 341.79,508.26 C341.53,508.69 341.37,509.20 340.91,509.62 C340.44,510.04 339.79,510.50 339.00,510.78 C338.21,511.06 337.14,511.23 336.17,511.30 C335.21,511.36 334.14,511.28 333.20,511.18 C332.26,511.08 331.37,510.90 330.54,510.72 C329.71,510.53 328.94,510.31 328.24,510.05 C327.54,509.80 326.92,509.50 326.35,509.19 C325.78,508.88 325.30,508.55 324.82,508.20 C324.35,507.84 323.88,507.49 323.49,507.09 C323.11,506.69 322.68,506.25 322.51,505.80 C322.33,505.35 322.27,504.83 322.45,504.37 C322.63,503.92 323.07,503.45 323.58,503.05 C324.10,502.65 324.81,502.31 325.52,501.99 C326.22,501.68 326.99,501.40 327.81,501.18 C328.63,500.95 329.52,500.74 330.42,500.65 C331.31,500.56 332.31,500.56 333.20,500.63 C334.09,500.69 334.95,500.89 335.77,501.05 C336.58,501.22 337.30,501.42 338.09,501.61 C338.87,501.80 339.72,501.94 340.49,502.19 C341.26,502.43 342.17,502.71 342.72,503.08 C343.27,503.44 343.69,503.94 343.81,504.39 C343.93,504.85 343.65,505.36 343.43,505.80 Z" fill="#7ccbee" stroke="none" stroke-width="0" />
<path d="M341.51,505.80 C341.54,506.16 341.47,506.53 341.33,506.89 C341.20,507.25 341.03,507.64 340.70,507.98 C340.38,508.32 339.94,508.67 339.38,508.93 C338.83,509.19 338.08,509.40 337.36,509.53 C336.65,509.67 335.85,509.71 335.10,509.77 C334.36,509.82 333.64,509.85 332.90,509.87 C332.16,509.88 331.38,509.93 330.65,509.86 C329.92,509.79 329.13,509.66 328.54,509.45 C327.96,509.23 327.51,508.88 327.16,508.58 C326.80,508.27 326.69,507.92 326.39,507.62 C326.09,507.32 325.78,507.08 325.37,506.77 C324.97,506.47 324.30,506.17 323.97,505.80 C323.63,505.43 323.27,504.96 323.36,504.57 C323.45,504.17 323.93,503.75 324.49,503.45 C325.05,503.16 325.98,502.98 326.70,502.81 C327.43,502.63 328.17,502.55 328.84,502.41 C329.52,502.26 330.09,502.08 330.76,501.95 C331.44,501.82 332.17,501.64 332.90,501.61 C333.63,501.57 334.46,501.62 335.15,501.74 C335.85,501.85 336.49,502.09 337.08,502.30 C337.67,502.51 338.18,502.76 338.68,503.01 C339.18,503.26 339.70,503.50 340.11,503.79 C340.52,504.08 340.91,504.40 341.14,504.73 C341.38,505.07 341.48,505.44 341.51,505.80 Z" fill="#3ea6e4" stroke="none" stroke-width="0" />
<ellipse cx="332.70" cy="505.80" rx="6.51" ry="3.22" fill="#46b858" />
<ellipse cx="333.00" cy="505.80" rx="4.41" ry="2.08" fill="#b9d33a" />
<ellipse cx="333.20" cy="505.80" rx="2.94" ry="1.14" fill="#ee2a20" />
</g>
<path d="M343.72,505.80 C343.49,506.27 343.03,506.67 342.75,507.10 C342.47,507.54 342.31,507.94 342.04,508.40 C341.77,508.85 341.61,509.39 341.13,509.84 C340.65,510.28 339.98,510.77 339.17,511.07 C338.36,511.36 337.25,511.54 336.26,511.61 C335.26,511.68 334.17,511.59 333.20,511.49 C332.23,511.39 331.31,511.20 330.46,511.00 C329.61,510.80 328.82,510.57 328.10,510.30 C327.38,510.03 326.74,509.72 326.15,509.39 C325.56,509.06 325.07,508.70 324.58,508.33 C324.10,507.96 323.61,507.58 323.22,507.16 C322.82,506.74 322.38,506.28 322.20,505.80 C322.02,505.32 321.96,504.78 322.14,504.29 C322.33,503.81 322.78,503.31 323.31,502.89 C323.84,502.47 324.57,502.11 325.30,501.78 C326.02,501.44 326.81,501.15 327.65,500.91 C328.49,500.67 329.41,500.45 330.34,500.36 C331.26,500.26 332.28,500.26 333.20,500.33 C334.12,500.40 335.00,500.61 335.84,500.78 C336.68,500.95 337.42,501.17 338.23,501.37 C339.04,501.57 339.90,501.72 340.70,501.98 C341.49,502.24 342.42,502.53 342.99,502.92 C343.56,503.31 343.99,503.83 344.11,504.31 C344.23,504.79 343.95,505.33 343.72,505.80 Z" fill="none" stroke="#5a72d8" stroke-width="0.45" />
<rect x="288.60" y="443.30" width="36.3" height="31.7" fill="none" stroke="#7c74cc" stroke-width="0.95"/>
<rect x="326.50" y="492.70" width="32.6" height="23.5" fill="none" stroke="#7c74cc" stroke-width="0.95"/>
<text x="288.20" y="441.20" font-size="7.3" text-anchor="start" fill="#2d69a4" textLength="48" lengthAdjust="spacingAndGlyphs" >CD4+(46,21%)</text>
<text x="325.20" y="490.50" font-size="7.3" text-anchor="start" fill="#2d69a4" textLength="48.3" lengthAdjust="spacingAndGlyphs" >CD8+(31,27%)</text>
<rect x="284.20" y="428.20" width="98.5" height="89.2" fill="none" stroke="#1e1e1e" stroke-width="1.35"/>
<line x1="280.80" y1="428.20" x2="284.20" y2="428.20" stroke="#1e1e1e" stroke-width="1.0" />
<line x1="280.80" y1="456.50" x2="284.20" y2="456.50" stroke="#1e1e1e" stroke-width="1.0" />
<line x1="280.80" y1="484.30" x2="284.20" y2="484.30" stroke="#1e1e1e" stroke-width="1.0" />
<line x1="280.80" y1="506.00" x2="284.20" y2="506.00" stroke="#1e1e1e" stroke-width="1.0" />
<line x1="282.20" y1="448.07" x2="284.20" y2="448.07" stroke="#1e1e1e" stroke-width="0.75" />
<line x1="282.20" y1="443.14" x2="284.20" y2="443.14" stroke="#1e1e1e" stroke-width="0.75" />
<line x1="282.20" y1="439.64" x2="284.20" y2="439.64" stroke="#1e1e1e" stroke-width="0.75" />
<line x1="282.20" y1="436.93" x2="284.20" y2="436.93" stroke="#1e1e1e" stroke-width="0.75" />
<line x1="282.20" y1="434.71" x2="284.20" y2="434.71" stroke="#1e1e1e" stroke-width="0.75" />
<line x1="282.20" y1="432.84" x2="284.20" y2="432.84" stroke="#1e1e1e" stroke-width="0.75" />
<line x1="282.20" y1="431.21" x2="284.20" y2="431.21" stroke="#1e1e1e" stroke-width="0.75" />
<line x1="282.20" y1="429.78" x2="284.20" y2="429.78" stroke="#1e1e1e" stroke-width="0.75" />
<line x1="282.20" y1="476.37" x2="284.20" y2="476.37" stroke="#1e1e1e" stroke-width="0.75" />
<line x1="282.20" y1="471.44" x2="284.20" y2="471.44" stroke="#1e1e1e" stroke-width="0.75" />
<line x1="282.20" y1="467.94" x2="284.20" y2="467.94" stroke="#1e1e1e" stroke-width="0.75" />
<line x1="282.20" y1="465.23" x2="284.20" y2="465.23" stroke="#1e1e1e" stroke-width="0.75" />
<line x1="282.20" y1="463.01" x2="284.20" y2="463.01" stroke="#1e1e1e" stroke-width="0.75" />
<line x1="282.20" y1="461.14" x2="284.20" y2="461.14" stroke="#1e1e1e" stroke-width="0.75" />
<line x1="282.20" y1="459.51" x2="284.20" y2="459.51" stroke="#1e1e1e" stroke-width="0.75" />
<line x1="282.20" y1="458.08" x2="284.20" y2="458.08" stroke="#1e1e1e" stroke-width="0.75" />
<line x1="282.20" y1="499.47" x2="284.20" y2="499.47" stroke="#1e1e1e" stroke-width="0.75" />
<line x1="282.20" y1="495.65" x2="284.20" y2="495.65" stroke="#1e1e1e" stroke-width="0.75" />
<line x1="282.20" y1="492.94" x2="284.20" y2="492.94" stroke="#1e1e1e" stroke-width="0.75" />
<line x1="282.20" y1="490.83" x2="284.20" y2="490.83" stroke="#1e1e1e" stroke-width="0.75" />
<line x1="282.20" y1="489.11" x2="284.20" y2="489.11" stroke="#1e1e1e" stroke-width="0.75" />
<line x1="282.20" y1="487.66" x2="284.20" y2="487.66" stroke="#1e1e1e" stroke-width="0.75" />
<line x1="282.20" y1="486.40" x2="284.20" y2="486.40" stroke="#1e1e1e" stroke-width="0.75" />
<line x1="282.20" y1="485.29" x2="284.20" y2="485.29" stroke="#1e1e1e" stroke-width="0.75" />
<line x1="282.20" y1="508.70" x2="284.20" y2="508.70" stroke="#1e1e1e" stroke-width="0.75" />
<line x1="282.20" y1="511.40" x2="284.20" y2="511.40" stroke="#1e1e1e" stroke-width="0.75" />
<line x1="282.20" y1="514.20" x2="284.20" y2="514.20" stroke="#1e1e1e" stroke-width="0.75" />
<text x="277.20" y="431.00" font-size="7.8" text-anchor="end" fill="#2a2a2a">10</text>
<text x="277.20" y="427.80" font-size="6.2" fill="#2a2a2a">6</text>
<text x="277.20" y="459.30" font-size="7.8" text-anchor="end" fill="#2a2a2a">10</text>
<text x="277.20" y="456.10" font-size="6.2" fill="#2a2a2a">5</text>
<text x="277.20" y="487.10" font-size="7.8" text-anchor="end" fill="#2a2a2a">10</text>
<text x="277.20" y="483.90" font-size="6.2" fill="#2a2a2a">4</text>
<text x="278.20" y="508.80" font-size="7.8" text-anchor="end" fill="#2a2a2a">0</text>
<line x1="298.40" y1="517.40" x2="298.40" y2="520.80" stroke="#1e1e1e" stroke-width="1.0" />
<line x1="321.40" y1="517.40" x2="321.40" y2="520.80" stroke="#1e1e1e" stroke-width="1.0" />
<line x1="355.90" y1="517.40" x2="355.90" y2="520.80" stroke="#1e1e1e" stroke-width="1.0" />
<line x1="285.00" y1="517.40" x2="285.00" y2="519.40" stroke="#1e1e1e" stroke-width="0.75" />
<line x1="287.70" y1="517.40" x2="287.70" y2="519.40" stroke="#1e1e1e" stroke-width="0.75" />
<line x1="290.40" y1="517.40" x2="290.40" y2="519.40" stroke="#1e1e1e" stroke-width="0.75" />
<line x1="293.10" y1="517.40" x2="293.10" y2="519.40" stroke="#1e1e1e" stroke-width="0.75" />
<line x1="295.80" y1="517.40" x2="295.80" y2="519.40" stroke="#1e1e1e" stroke-width="0.75" />
<line x1="302.37" y1="517.40" x2="302.37" y2="519.40" stroke="#1e1e1e" stroke-width="0.75" />
<line x1="305.30" y1="517.40" x2="305.30" y2="519.40" stroke="#1e1e1e" stroke-width="0.75" />
<line x1="307.95" y1="517.40" x2="307.95" y2="519.40" stroke="#1e1e1e" stroke-width="0.75" />
<line x1="310.42" y1="517.40" x2="310.42" y2="519.40" stroke="#1e1e1e" stroke-width="0.75" />
<line x1="312.77" y1="517.40" x2="312.77" y2="519.40" stroke="#1e1e1e" stroke-width="0.75" />
<line x1="315.03" y1="517.40" x2="315.03" y2="519.40" stroke="#1e1e1e" stroke-width="0.75" />
<line x1="317.21" y1="517.40" x2="317.21" y2="519.40" stroke="#1e1e1e" stroke-width="0.75" />
<line x1="319.33" y1="517.40" x2="319.33" y2="519.40" stroke="#1e1e1e" stroke-width="0.75" />
<line x1="331.79" y1="517.40" x2="331.79" y2="519.40" stroke="#1e1e1e" stroke-width="0.75" />
<line x1="337.86" y1="517.40" x2="337.86" y2="519.40" stroke="#1e1e1e" stroke-width="0.75" />
<line x1="342.17" y1="517.40" x2="342.17" y2="519.40" stroke="#1e1e1e" stroke-width="0.75" />
<line x1="345.51" y1="517.40" x2="345.51" y2="519.40" stroke="#1e1e1e" stroke-width="0.75" />
<line x1="348.25" y1="517.40" x2="348.25" y2="519.40" stroke="#1e1e1e" stroke-width="0.75" />
<line x1="350.56" y1="517.40" x2="350.56" y2="519.40" stroke="#1e1e1e" stroke-width="0.75" />
<line x1="352.56" y1="517.40" x2="352.56" y2="519.40" stroke="#1e1e1e" stroke-width="0.75" />
<line x1="354.32" y1="517.40" x2="354.32" y2="519.40" stroke="#1e1e1e" stroke-width="0.75" />
<line x1="366.29" y1="517.40" x2="366.29" y2="519.40" stroke="#1e1e1e" stroke-width="0.75" />
<line x1="372.36" y1="517.40" x2="372.36" y2="519.40" stroke="#1e1e1e" stroke-width="0.75" />
<line x1="376.67" y1="517.40" x2="376.67" y2="519.40" stroke="#1e1e1e" stroke-width="0.75" />
<line x1="380.01" y1="517.40" x2="380.01" y2="519.40" stroke="#1e1e1e" stroke-width="0.75" />
<text x="298.40" y="527.80" font-size="7.8" text-anchor="middle" fill="#2a2a2a">0</text>
<text x="318.50" y="527.80" font-size="7.8" text-anchor="middle" fill="#2a2a2a">10</text>
<text x="322.90" y="524.40" font-size="6.2" fill="#2a2a2a">3</text>
<text x="354.10" y="527.80" font-size="7.8" text-anchor="middle" fill="#2a2a2a">10</text>
<text x="358.50" y="524.40" font-size="6.2" fill="#2a2a2a">4</text>
<text x="463.75" y="425.10" font-size="9.5" text-anchor="middle" fill="#1e1e1e" >Veca + PI-3065</text>
<circle cx="452.9" cy="495.3" r="0.45" fill="#a2a3bd"/>
<circle cx="494.2" cy="459.3" r="0.45" fill="#a2a3bd"/>
<circle cx="477.2" cy="447.6" r="0.45" fill="#a2a3bd"/>
<circle cx="432.6" cy="506.4" r="0.45" fill="#a2a3bd"/>
<circle cx="437.8" cy="497.1" r="0.45" fill="#a2a3bd"/>
<circle cx="429.6" cy="497.7" r="0.45" fill="#a2a3bd"/>
<circle cx="432.3" cy="506.5" r="0.45" fill="#a2a3bd"/>
<circle cx="453.7" cy="490.0" r="0.45" fill="#a2a3bd"/>
<circle cx="483.2" cy="438.6" r="0.45" fill="#a2a3bd"/>
<circle cx="483.1" cy="463.6" r="0.45" fill="#a2a3bd"/>
<circle cx="433.3" cy="511.7" r="0.45" fill="#a2a3bd"/>
<circle cx="481.8" cy="475.9" r="0.45" fill="#a2a3bd"/>
<circle cx="500.5" cy="448.4" r="0.45" fill="#a2a3bd"/>
<circle cx="465.1" cy="444.6" r="0.45" fill="#a2a3bd"/>
<circle cx="458.6" cy="479.2" r="0.45" fill="#a2a3bd"/>
<circle cx="468.3" cy="453.1" r="0.45" fill="#a2a3bd"/>
<circle cx="497.4" cy="472.4" r="0.45" fill="#a2a3bd"/>
<circle cx="489.6" cy="471.1" r="0.45" fill="#a2a3bd"/>
<circle cx="481.1" cy="472.2" r="0.45" fill="#a2a3bd"/>
<circle cx="482.5" cy="482.5" r="0.45" fill="#a2a3bd"/>
<circle cx="423.0" cy="505.6" r="0.45" fill="#a2a3bd"/>
<circle cx="463.6" cy="481.8" r="0.45" fill="#a2a3bd"/>
<circle cx="433.8" cy="491.5" r="0.45" fill="#a2a3bd"/>
<circle cx="458.9" cy="468.5" r="0.45" fill="#a2a3bd"/>
<circle cx="485.4" cy="458.1" r="0.45" fill="#a2a3bd"/>
<circle cx="500.1" cy="487.3" r="0.45" fill="#a2a3bd"/>
<circle cx="459.4" cy="500.5" r="0.45" fill="#a2a3bd"/>
<circle cx="441.6" cy="494.8" r="0.45" fill="#a2a3bd"/>
<circle cx="437.6" cy="481.2" r="0.45" fill="#a2a3bd"/>
<circle cx="432.3" cy="495.4" r="0.45" fill="#a2a3bd"/>
<circle cx="428.9" cy="479.0" r="0.45" fill="#a2a3bd"/>
<circle cx="466.9" cy="453.1" r="0.45" fill="#a2a3bd"/>
<circle cx="450.3" cy="467.4" r="0.45" fill="#a2a3bd"/>
<circle cx="455.6" cy="472.3" r="0.45" fill="#a2a3bd"/>
<circle cx="432.4" cy="494.9" r="0.45" fill="#a2a3bd"/>
<circle cx="483.8" cy="468.3" r="0.45" fill="#a2a3bd"/>
<circle cx="480.1" cy="449.2" r="0.45" fill="#a2a3bd"/>
<circle cx="458.4" cy="510.7" r="0.45" fill="#a2a3bd"/>
<circle cx="468.1" cy="452.8" r="0.45" fill="#a2a3bd"/>
<circle cx="455.2" cy="460.8" r="0.45" fill="#a2a3bd"/>
<circle cx="445.1" cy="432.7" r="0.45" fill="#a2a3bd"/>
<circle cx="479.3" cy="460.2" r="0.45" fill="#a2a3bd"/>
<circle cx="426.6" cy="503.5" r="0.45" fill="#a2a3bd"/>
<circle cx="498.3" cy="450.3" r="0.45" fill="#a2a3bd"/>
<circle cx="486.8" cy="486.5" r="0.45" fill="#a2a3bd"/>
<circle cx="438.1" cy="505.7" r="0.45" fill="#a2a3bd"/>
<circle cx="440.7" cy="494.7" r="0.45" fill="#a2a3bd"/>
<circle cx="472.2" cy="464.3" r="0.45" fill="#a2a3bd"/>
<circle cx="444.9" cy="483.3" r="0.45" fill="#a2a3bd"/>
<circle cx="426.1" cy="481.9" r="0.45" fill="#a2a3bd"/>
<circle cx="439.6" cy="509.9" r="0.45" fill="#a2a3bd"/>
<circle cx="448.5" cy="482.7" r="0.45" fill="#a2a3bd"/>
<circle cx="425.6" cy="500.0" r="0.45" fill="#a2a3bd"/>
<circle cx="501.6" cy="505.6" r="0.45" fill="#a2a3bd"/>
<circle cx="469.2" cy="439.3" r="0.45" fill="#a2a3bd"/>
<circle cx="501.1" cy="450.1" r="0.45" fill="#a2a3bd"/>
<circle cx="478.8" cy="446.3" r="0.45" fill="#a2a3bd"/>
<circle cx="475.5" cy="455.0" r="0.45" fill="#a2a3bd"/>
<circle cx="458.7" cy="488.3" r="0.45" fill="#a2a3bd"/>
<circle cx="426.2" cy="502.7" r="0.45" fill="#a2a3bd"/>
<circle cx="489.0" cy="456.5" r="0.45" fill="#a2a3bd"/>
<circle cx="421.4" cy="439.2" r="0.45" fill="#a2a3bd"/>
<circle cx="446.1" cy="497.0" r="0.45" fill="#a2a3bd"/>
<circle cx="481.9" cy="469.4" r="0.45" fill="#a2a3bd"/>
<circle cx="496.9" cy="458.3" r="0.45" fill="#a2a3bd"/>
<circle cx="482.6" cy="460.4" r="0.45" fill="#a2a3bd"/>
<circle cx="475.8" cy="453.3" r="0.45" fill="#a2a3bd"/>
<circle cx="462.8" cy="462.3" r="0.45" fill="#a2a3bd"/>
<circle cx="489.5" cy="465.7" r="0.45" fill="#a2a3bd"/>
<circle cx="469.7" cy="458.1" r="0.45" fill="#a2a3bd"/>
<circle cx="485.6" cy="471.8" r="0.45" fill="#a2a3bd"/>
<circle cx="477.9" cy="467.6" r="0.45" fill="#a2a3bd"/>
<circle cx="487.1" cy="452.5" r="0.45" fill="#a2a3bd"/>
<circle cx="472.9" cy="467.3" r="0.45" fill="#a2a3bd"/>
<circle cx="480.0" cy="444.0" r="0.45" fill="#a2a3bd"/>
<circle cx="471.1" cy="469.7" r="0.45" fill="#a2a3bd"/>
<circle cx="443.3" cy="484.2" r="0.45" fill="#a2a3bd"/>
<circle cx="466.5" cy="443.0" r="0.45" fill="#a2a3bd"/>
<circle cx="452.3" cy="491.3" r="0.45" fill="#a2a3bd"/>
<circle cx="458.5" cy="484.0" r="0.45" fill="#a2a3bd"/>
<circle cx="436.7" cy="480.3" r="0.45" fill="#a2a3bd"/>
<circle cx="476.8" cy="453.3" r="0.45" fill="#a2a3bd"/>
<circle cx="426.2" cy="491.1" r="0.45" fill="#a2a3bd"/>
<circle cx="456.2" cy="453.6" r="0.45" fill="#a2a3bd"/>
<circle cx="451.6" cy="448.4" r="0.45" fill="#a2a3bd"/>
<circle cx="457.6" cy="462.7" r="0.45" fill="#a2a3bd"/>
<circle cx="433.9" cy="486.6" r="0.45" fill="#a2a3bd"/>
<circle cx="502.6" cy="481.4" r="0.45" fill="#a2a3bd"/>
<circle cx="494.0" cy="449.6" r="0.45" fill="#a2a3bd"/>
<circle cx="449.5" cy="501.1" r="0.45" fill="#a2a3bd"/>
<circle cx="468.9" cy="462.0" r="0.45" fill="#a2a3bd"/>
<circle cx="489.8" cy="496.9" r="0.45" fill="#a2a3bd"/>
<circle cx="468.8" cy="454.2" r="0.45" fill="#a2a3bd"/>
<circle cx="450.1" cy="513.2" r="0.45" fill="#a2a3bd"/>
<circle cx="447.8" cy="505.6" r="0.45" fill="#a2a3bd"/>
<circle cx="473.9" cy="457.5" r="0.45" fill="#a2a3bd"/>
<circle cx="498.2" cy="478.8" r="0.45" fill="#a2a3bd"/>
<circle cx="502.2" cy="445.4" r="0.45" fill="#a2a3bd"/>
<circle cx="478.4" cy="455.8" r="0.45" fill="#a2a3bd"/>
<circle cx="481.0" cy="459.5" r="0.45" fill="#a2a3bd"/>
<circle cx="478.9" cy="454.7" r="0.45" fill="#a2a3bd"/>
<circle cx="475.6" cy="465.5" r="0.45" fill="#a2a3bd"/>
<circle cx="490.2" cy="489.2" r="0.45" fill="#a2a3bd"/>
<circle cx="463.7" cy="450.6" r="0.45" fill="#a2a3bd"/>
<circle cx="440.3" cy="487.7" r="0.45" fill="#a2a3bd"/>
<circle cx="482.5" cy="454.1" r="0.45" fill="#a2a3bd"/>
<circle cx="482.1" cy="444.5" r="0.45" fill="#a2a3bd"/>
<circle cx="492.6" cy="474.4" r="0.45" fill="#a2a3bd"/>
<circle cx="465.1" cy="451.7" r="0.45" fill="#a2a3bd"/>
<path d="M454.40,462.18 C454.00,462.94 452.96,463.62 452.33,464.27 C451.69,464.91 450.93,465.31 450.60,466.05 C450.27,466.79 450.73,467.85 450.35,468.72 C449.97,469.60 449.34,470.73 448.31,471.29 C447.28,471.85 445.56,471.98 444.17,472.06 C442.78,472.14 441.31,471.94 439.98,471.79 C438.64,471.64 437.52,471.27 436.17,471.15 C434.81,471.03 433.13,471.35 431.84,471.07 C430.56,470.78 429.44,470.07 428.48,469.43 C427.52,468.80 426.27,468.10 426.07,467.25 C425.87,466.40 427.15,465.17 427.26,464.33 C427.36,463.49 427.32,463.00 426.70,462.18 C426.08,461.36 423.81,460.31 423.53,459.40 C423.25,458.49 424.33,457.56 425.04,456.74 C425.75,455.92 426.42,454.81 427.79,454.49 C429.15,454.17 431.75,454.80 433.25,454.83 C434.75,454.87 435.67,454.87 436.79,454.67 C437.91,454.48 438.79,453.94 439.98,453.64 C441.16,453.34 442.43,453.09 443.93,452.88 C445.42,452.66 447.61,452.08 448.96,452.36 C450.31,452.64 451.10,453.82 452.02,454.58 C452.95,455.33 454.04,456.04 454.49,456.89 C454.95,457.74 454.76,458.80 454.74,459.68 C454.73,460.56 454.81,461.42 454.40,462.18 Z" fill="none" stroke="#6d6ad0" stroke-width="0.6" />
<path d="M453.29,461.86 C453.93,462.60 454.88,463.63 454.70,464.38 C454.51,465.14 453.29,465.94 452.17,466.42 C451.06,466.89 449.18,466.94 448.03,467.24 C446.87,467.55 446.16,467.90 445.24,468.26 C444.31,468.62 443.49,469.15 442.47,469.39 C441.46,469.64 440.29,469.64 439.14,469.72 C437.99,469.80 436.75,469.97 435.60,469.87 C434.45,469.76 433.36,469.40 432.24,469.10 C431.12,468.80 429.56,468.64 428.89,468.06 C428.23,467.49 428.26,466.42 428.25,465.67 C428.23,464.91 428.65,464.17 428.80,463.54 C428.95,462.90 429.45,462.47 429.17,461.86 C428.89,461.25 427.57,460.65 427.10,459.91 C426.63,459.16 426.16,458.16 426.35,457.39 C426.54,456.61 427.34,455.81 428.23,455.25 C429.12,454.70 430.45,454.24 431.70,454.06 C432.95,453.88 434.50,454.25 435.74,454.17 C436.98,454.08 437.96,453.66 439.14,453.56 C440.32,453.45 441.68,453.35 442.82,453.54 C443.95,453.74 445.32,454.08 445.94,454.72 C446.56,455.36 446.23,456.69 446.53,457.38 C446.84,458.07 447.04,458.42 447.76,458.85 C448.48,459.28 449.93,459.46 450.85,459.96 C451.77,460.46 452.65,461.12 453.29,461.86 Z" fill="none" stroke="#6d6ad0" stroke-width="0.5" />
<path d="M452.73,464.90 C452.57,465.39 452.55,465.85 452.28,466.28 C452.01,466.72 451.63,467.16 451.13,467.50 C450.62,467.85 449.93,468.16 449.23,468.34 C448.52,468.51 447.57,468.42 446.91,468.58 C446.24,468.74 445.86,469.07 445.23,469.29 C444.61,469.52 443.93,469.73 443.15,469.91 C442.37,470.09 441.51,470.28 440.56,470.38 C439.61,470.47 438.35,470.64 437.45,470.49 C436.54,470.33 435.56,469.92 435.12,469.44 C434.68,468.97 434.77,468.18 434.81,467.62 C434.86,467.06 435.40,466.53 435.37,466.08 C435.34,465.63 434.91,465.33 434.63,464.90 C434.36,464.47 433.70,463.93 433.72,463.47 C433.74,463.01 434.33,462.57 434.77,462.16 C435.20,461.76 435.65,461.29 436.32,461.04 C437.00,460.79 438.06,460.82 438.80,460.64 C439.55,460.46 440.09,460.11 440.82,459.97 C441.54,459.83 442.40,459.73 443.15,459.79 C443.90,459.84 444.57,460.20 445.33,460.31 C446.09,460.41 447.10,460.22 447.72,460.43 C448.34,460.64 448.37,461.29 449.03,461.57 C449.69,461.86 450.98,461.82 451.68,462.12 C452.38,462.42 453.06,462.91 453.23,463.37 C453.41,463.84 452.89,464.41 452.73,464.90 Z" fill="none" stroke="#6d6ad0" stroke-width="0.45" />
<g filter="url(#bl)">
<path d="M452.94,461.38 C452.78,461.99 452.63,462.58 452.27,463.13 C451.91,463.69 451.38,464.22 450.79,464.71 C450.20,465.20 449.45,465.61 448.74,466.08 C448.02,466.55 447.37,467.05 446.52,467.53 C445.66,468.02 444.74,468.66 443.60,468.99 C442.46,469.32 440.94,469.59 439.68,469.52 C438.41,469.44 437.01,468.96 435.99,468.52 C434.97,468.08 434.36,467.34 433.55,466.88 C432.75,466.43 432.17,466.11 431.17,465.79 C430.18,465.48 428.73,465.38 427.60,465.00 C426.48,464.62 425.01,464.10 424.44,463.50 C423.87,462.90 423.84,462.04 424.17,461.38 C424.50,460.72 425.66,460.08 426.41,459.54 C427.16,458.99 428.03,458.59 428.69,458.09 C429.34,457.58 429.66,457.02 430.32,456.52 C430.99,456.02 431.71,455.42 432.68,455.09 C433.65,454.76 434.97,454.59 436.14,454.53 C437.31,454.47 438.52,454.66 439.68,454.71 C440.83,454.75 441.86,454.78 443.07,454.81 C444.28,454.83 445.67,454.71 446.94,454.85 C448.21,454.99 449.72,455.23 450.70,455.66 C451.69,456.09 452.44,456.79 452.86,457.43 C453.29,458.07 453.24,458.83 453.25,459.49 C453.26,460.15 453.11,460.77 452.94,461.38 Z" fill="#bfe6f6" stroke="none" stroke-width="0" />
<path d="M450.71,461.06 C450.52,461.58 450.01,462.08 449.60,462.55 C449.19,463.02 448.75,463.46 448.25,463.88 C447.75,464.30 447.26,464.75 446.59,465.09 C445.91,465.43 445.05,465.72 444.19,465.91 C443.32,466.09 442.32,466.12 441.41,466.20 C440.50,466.28 439.67,466.30 438.73,466.40 C437.78,466.49 436.81,466.71 435.74,466.77 C434.67,466.83 433.33,466.93 432.31,466.76 C431.28,466.58 430.21,466.19 429.59,465.74 C428.98,465.29 428.80,464.59 428.63,464.05 C428.46,463.50 428.68,462.95 428.59,462.45 C428.49,461.95 428.27,461.55 428.09,461.06 C427.91,460.57 427.48,460.04 427.51,459.52 C427.54,459.01 427.77,458.41 428.28,457.97 C428.79,457.53 429.74,457.17 430.58,456.89 C431.41,456.60 432.41,456.45 433.31,456.25 C434.20,456.06 435.02,455.86 435.93,455.71 C436.83,455.56 437.77,455.37 438.73,455.33 C439.68,455.29 440.72,455.34 441.65,455.47 C442.58,455.59 443.46,455.86 444.32,456.10 C445.17,456.34 445.99,456.61 446.80,456.92 C447.61,457.24 448.52,457.55 449.18,457.97 C449.83,458.38 450.46,458.90 450.72,459.41 C450.97,459.93 450.89,460.54 450.71,461.06 Z" fill="#72c9ef" stroke="none" stroke-width="0" />
<path d="M448.13,460.98 C447.96,461.40 447.39,461.81 446.97,462.17 C446.55,462.53 446.03,462.82 445.60,463.15 C445.18,463.48 444.87,463.82 444.40,464.14 C443.94,464.46 443.45,464.83 442.81,465.08 C442.17,465.33 441.36,465.53 440.57,465.64 C439.77,465.75 438.89,465.76 438.06,465.75 C437.23,465.73 436.39,465.65 435.61,465.53 C434.84,465.41 434.05,465.23 433.40,465.00 C432.76,464.77 432.20,464.45 431.74,464.13 C431.29,463.81 431.02,463.44 430.68,463.10 C430.34,462.77 430.04,462.45 429.69,462.10 C429.35,461.74 428.84,461.39 428.60,460.98 C428.36,460.57 428.11,460.09 428.23,459.67 C428.35,459.25 428.79,458.80 429.32,458.46 C429.85,458.13 430.69,457.89 431.39,457.66 C432.09,457.42 432.82,457.26 433.53,457.07 C434.24,456.88 434.90,456.64 435.65,456.50 C436.41,456.36 437.27,456.22 438.06,456.23 C438.85,456.25 439.71,456.42 440.42,456.60 C441.12,456.78 441.68,457.10 442.29,457.33 C442.90,457.56 443.44,457.76 444.09,457.97 C444.75,458.19 445.60,458.34 446.24,458.63 C446.89,458.91 447.64,459.27 447.95,459.66 C448.27,460.05 448.29,460.56 448.13,460.98 Z" fill="#48b0e6" stroke="none" stroke-width="0" />
<ellipse cx="437.68" cy="460.98" rx="7.60" ry="3.68" fill="#80c440" />
<ellipse cx="438.25" cy="460.90" rx="4.37" ry="2.08" fill="#dfe07a" />
<ellipse cx="437.30" cy="460.90" rx="2.28" ry="1.44" fill="#ec2f2a" />
</g>
<path d="M452.94,461.38 C452.78,461.99 452.63,462.58 452.27,463.13 C451.91,463.69 451.38,464.22 450.79,464.71 C450.20,465.20 449.45,465.61 448.74,466.08 C448.02,466.55 447.37,467.05 446.52,467.53 C445.66,468.02 444.74,468.66 443.60,468.99 C442.46,469.32 440.94,469.59 439.68,469.52 C438.41,469.44 437.01,468.96 435.99,468.52 C434.97,468.08 434.36,467.34 433.55,466.88 C432.75,466.43 432.17,466.11 431.17,465.79 C430.18,465.48 428.73,465.38 427.60,465.00 C426.48,464.62 425.01,464.10 424.44,463.50 C423.87,462.90 423.84,462.04 424.17,461.38 C424.50,460.72 425.66,460.08 426.41,459.54 C427.16,458.99 428.03,458.59 428.69,458.09 C429.34,457.58 429.66,457.02 430.32,456.52 C430.99,456.02 431.71,455.42 432.68,455.09 C433.65,454.76 434.97,454.59 436.14,454.53 C437.31,454.47 438.52,454.66 439.68,454.71 C440.83,454.75 441.86,454.78 443.07,454.81 C444.28,454.83 445.67,454.71 446.94,454.85 C448.21,454.99 449.72,455.23 450.70,455.66 C451.69,456.09 452.44,456.79 452.86,457.43 C453.29,458.07 453.24,458.83 453.25,459.49 C453.26,460.15 453.11,460.77 452.94,461.38 Z" fill="none" stroke="#6f86d8" stroke-width="0.45" />
<path d="M450.50,461.06 C450.58,461.58 450.41,462.13 450.23,462.66 C450.04,463.20 449.80,463.75 449.41,464.27 C449.01,464.79 448.57,465.39 447.85,465.81 C447.14,466.23 446.13,466.63 445.11,466.81 C444.09,467.00 442.81,466.97 441.75,466.93 C440.68,466.90 439.69,466.69 438.73,466.61 C437.76,466.53 436.91,466.51 435.96,466.44 C435.01,466.37 433.93,466.38 433.03,466.19 C432.13,466.00 431.20,465.68 430.57,465.30 C429.94,464.92 429.63,464.37 429.24,463.91 C428.85,463.45 428.66,463.00 428.24,462.52 C427.82,462.05 427.12,461.60 426.71,461.06 C426.30,460.52 425.69,459.83 425.76,459.25 C425.82,458.67 426.35,458.00 427.11,457.57 C427.88,457.15 429.28,456.90 430.34,456.70 C431.40,456.49 432.53,456.49 433.47,456.32 C434.40,456.15 435.07,455.90 435.95,455.66 C436.82,455.42 437.73,455.00 438.73,454.87 C439.72,454.73 440.95,454.69 441.92,454.85 C442.90,455.00 443.81,455.44 444.55,455.81 C445.29,456.18 445.78,456.67 446.38,457.08 C446.97,457.48 447.56,457.83 448.12,458.24 C448.68,458.64 449.36,459.05 449.76,459.52 C450.16,459.99 450.42,460.54 450.50,461.06 Z" fill="none" stroke="#5e9ae0" stroke-width="0.35" />
<g filter="url(#bl)">
<path d="M464.17,505.80 C463.88,506.16 463.07,506.51 462.42,506.84 C461.77,507.16 461.07,507.46 460.27,507.75 C459.47,508.05 458.70,508.36 457.62,508.59 C456.55,508.83 455.18,509.03 453.81,509.16 C452.44,509.29 450.85,509.31 449.40,509.37 C447.95,509.42 446.63,509.44 445.12,509.50 C443.62,509.57 442.08,509.72 440.38,509.76 C438.68,509.80 436.55,509.87 434.92,509.75 C433.29,509.63 431.58,509.36 430.61,509.04 C429.64,508.73 429.34,508.25 429.08,507.87 C428.81,507.49 429.15,507.11 429.00,506.77 C428.86,506.42 428.50,506.14 428.21,505.80 C427.93,505.46 427.24,505.09 427.29,504.73 C427.34,504.38 427.71,503.96 428.52,503.66 C429.33,503.35 430.84,503.10 432.17,502.91 C433.50,502.71 435.09,502.60 436.51,502.47 C437.93,502.33 439.24,502.20 440.68,502.09 C442.11,501.98 443.61,501.85 445.12,501.82 C446.64,501.80 448.30,501.83 449.78,501.92 C451.26,502.01 452.65,502.19 454.01,502.36 C455.38,502.53 456.67,502.72 457.96,502.93 C459.25,503.15 460.70,503.37 461.74,503.66 C462.78,503.94 463.79,504.30 464.19,504.66 C464.60,505.02 464.47,505.44 464.17,505.80 Z" fill="#dcf0fa" stroke="none" stroke-width="0" />
</g>
<path d="M463.89,505.80 C463.85,506.20 462.80,506.66 461.92,507.01 C461.05,507.36 459.58,507.60 458.64,507.91 C457.70,508.21 457.07,508.49 456.28,508.83 C455.49,509.18 454.93,509.61 453.90,509.98 C452.86,510.36 451.61,510.93 450.06,511.09 C448.52,511.24 446.27,511.08 444.62,510.92 C442.98,510.76 441.42,510.42 440.17,510.13 C438.93,509.84 438.26,509.41 437.16,509.17 C436.07,508.92 434.83,508.86 433.60,508.67 C432.37,508.48 430.69,508.32 429.79,508.03 C428.89,507.74 428.42,507.32 428.22,506.94 C428.02,506.57 428.13,506.15 428.58,505.80 C429.03,505.45 430.81,505.23 430.94,504.85 C431.07,504.46 429.57,504.00 429.34,503.50 C429.11,503.01 428.74,502.27 429.56,501.88 C430.37,501.48 432.58,501.30 434.22,501.11 C435.86,500.91 437.63,500.71 439.37,500.69 C441.10,500.67 443.00,500.86 444.62,500.98 C446.25,501.11 447.82,501.23 449.09,501.46 C450.36,501.69 451.10,502.13 452.24,502.36 C453.39,502.60 455.02,502.61 455.96,502.85 C456.90,503.09 456.87,503.52 457.90,503.80 C458.93,504.09 461.14,504.25 462.14,504.58 C463.14,504.91 463.92,505.40 463.89,505.80 Z" fill="none" stroke="#6d6ad0" stroke-width="0.55" />
<path d="M457.11,506.00 C456.79,506.24 455.85,506.43 455.49,506.65 C455.13,506.87 455.35,507.13 454.94,507.32 C454.54,507.52 453.65,507.64 453.04,507.82 C452.42,508.00 451.85,508.11 451.26,508.40 C450.67,508.68 450.42,509.31 449.48,509.53 C448.54,509.75 446.83,509.79 445.62,509.72 C444.42,509.65 442.97,509.41 442.24,509.10 C441.52,508.78 441.81,508.09 441.30,507.84 C440.78,507.59 440.10,507.66 439.16,507.59 C438.22,507.51 436.97,507.52 435.66,507.41 C434.36,507.30 432.07,507.17 431.34,506.94 C430.60,506.70 430.67,506.28 431.25,506.00 C431.83,505.72 433.88,505.50 434.81,505.29 C435.74,505.08 436.26,504.94 436.82,504.75 C437.37,504.56 437.67,504.38 438.15,504.16 C438.63,503.95 438.97,503.65 439.69,503.47 C440.41,503.30 441.48,503.13 442.47,503.11 C443.46,503.09 444.64,503.31 445.62,503.37 C446.61,503.43 447.30,503.50 448.37,503.48 C449.44,503.47 450.68,503.30 452.04,503.27 C453.41,503.24 455.53,503.16 456.56,503.32 C457.59,503.47 458.07,503.90 458.22,504.22 C458.36,504.53 457.61,504.93 457.42,505.22 C457.24,505.52 457.44,505.76 457.11,506.00 Z" fill="none" stroke="#7487e0" stroke-width="0.5" />
<path d="M450.53,505.70 C450.88,505.85 451.44,506.00 451.89,506.21 C452.33,506.43 453.33,506.79 453.19,506.99 C453.05,507.19 451.83,507.31 451.04,507.41 C450.26,507.50 449.29,507.53 448.49,507.56 C447.68,507.60 446.94,507.60 446.21,507.62 C445.48,507.64 444.80,507.70 444.12,507.68 C443.45,507.67 442.87,507.54 442.16,507.51 C441.44,507.49 440.49,507.60 439.82,507.54 C439.14,507.49 438.72,507.30 438.11,507.18 C437.50,507.07 436.52,506.99 436.14,506.84 C435.76,506.68 435.78,506.44 435.83,506.25 C435.88,506.06 436.03,505.86 436.43,505.70 C436.82,505.54 437.87,505.44 438.22,505.31 C438.56,505.18 438.50,505.08 438.49,504.90 C438.48,504.72 438.01,504.43 438.16,504.23 C438.32,504.03 438.85,503.82 439.45,503.70 C440.05,503.59 441.00,503.55 441.77,503.54 C442.55,503.52 443.35,503.63 444.12,503.63 C444.90,503.63 445.60,503.58 446.45,503.56 C447.30,503.54 448.42,503.46 449.21,503.53 C450.01,503.59 450.95,503.75 451.22,503.95 C451.48,504.15 451.03,504.52 450.79,504.75 C450.55,504.98 449.85,505.17 449.80,505.32 C449.76,505.48 450.19,505.55 450.53,505.70 Z" fill="none" stroke="#8aa4e8" stroke-width="0.45" />
<path d="M455.21,505.40 C455.25,505.54 455.55,505.71 455.44,505.84 C455.32,505.97 454.85,506.08 454.52,506.18 C454.20,506.28 453.86,506.37 453.48,506.43 C453.11,506.49 452.62,506.46 452.29,506.55 C451.96,506.64 451.85,506.85 451.49,506.95 C451.12,507.06 450.58,507.19 450.12,507.19 C449.67,507.20 449.10,507.09 448.73,506.99 C448.36,506.89 448.15,506.70 447.88,506.59 C447.60,506.48 447.38,506.41 447.07,506.33 C446.76,506.26 446.48,506.20 446.00,506.13 C445.52,506.05 444.56,506.01 444.18,505.89 C443.80,505.77 443.73,505.57 443.70,505.40 C443.67,505.23 443.84,505.06 444.00,504.90 C444.15,504.74 444.22,504.53 444.63,504.43 C445.04,504.33 445.90,504.31 446.45,504.28 C447.00,504.25 447.49,504.23 447.95,504.25 C448.41,504.26 448.85,504.35 449.21,504.36 C449.57,504.36 449.76,504.34 450.12,504.27 C450.49,504.20 450.88,504.03 451.41,503.94 C451.94,503.84 452.73,503.71 453.30,503.72 C453.87,503.72 454.47,503.84 454.82,503.96 C455.17,504.09 455.34,504.30 455.40,504.47 C455.47,504.64 455.23,504.83 455.20,504.98 C455.17,505.14 455.17,505.26 455.21,505.40 Z" fill="none" stroke="#8aa4e8" stroke-width="0.4" />
<path d="M480.19,505.40 C480.55,506.01 480.94,506.77 480.71,507.38 C480.47,507.99 479.60,508.61 478.76,509.06 C477.93,509.52 476.64,509.76 475.69,510.09 C474.73,510.42 473.95,510.75 473.04,511.05 C472.13,511.34 471.22,511.69 470.21,511.87 C469.21,512.05 468.09,512.09 467.00,512.13 C465.91,512.16 464.76,512.20 463.68,512.09 C462.60,511.98 461.54,511.73 460.52,511.46 C459.50,511.19 458.28,510.94 457.58,510.48 C456.89,510.03 456.59,509.30 456.36,508.72 C456.12,508.13 456.20,507.52 456.17,506.97 C456.14,506.41 456.34,505.94 456.19,505.40 C456.04,504.86 455.39,504.31 455.25,503.70 C455.10,503.09 455.00,502.36 455.32,501.76 C455.65,501.16 456.38,500.56 457.21,500.11 C458.03,499.67 459.17,499.31 460.26,499.10 C461.35,498.88 462.62,498.94 463.74,498.83 C464.86,498.72 465.89,498.48 467.00,498.43 C468.11,498.38 469.35,498.36 470.41,498.53 C471.47,498.70 472.65,498.99 473.38,499.44 C474.11,499.88 474.33,500.67 474.82,501.18 C475.31,501.69 475.70,502.07 476.33,502.49 C476.95,502.92 477.94,503.24 478.58,503.73 C479.23,504.21 479.84,504.79 480.19,505.40 Z" fill="none" stroke="#6d6ad0" stroke-width="0.6" />
<g filter="url(#bl)">
<path d="M478.39,505.60 C478.20,506.09 477.52,506.56 477.02,506.98 C476.53,507.41 475.92,507.74 475.41,508.13 C474.91,508.51 474.55,508.91 474.00,509.28 C473.44,509.65 472.86,510.08 472.11,510.37 C471.35,510.66 470.40,510.89 469.46,511.02 C468.53,511.15 467.48,511.17 466.50,511.15 C465.52,511.12 464.53,511.04 463.61,510.89 C462.69,510.75 461.76,510.55 461.00,510.28 C460.23,510.01 459.57,509.63 459.03,509.26 C458.50,508.90 458.18,508.47 457.78,508.07 C457.37,507.68 457.02,507.31 456.61,506.90 C456.20,506.49 455.61,506.07 455.32,505.60 C455.03,505.13 454.74,504.56 454.88,504.07 C455.02,503.58 455.55,503.06 456.17,502.67 C456.79,502.28 457.79,502.00 458.62,501.73 C459.45,501.46 460.31,501.27 461.15,501.05 C461.99,500.82 462.76,500.55 463.65,500.39 C464.55,500.22 465.56,500.06 466.50,500.08 C467.44,500.10 468.45,500.29 469.28,500.50 C470.12,500.71 470.78,501.08 471.50,501.35 C472.22,501.62 472.85,501.85 473.63,502.10 C474.41,502.35 475.41,502.53 476.17,502.86 C476.93,503.19 477.82,503.61 478.19,504.06 C478.56,504.52 478.59,505.11 478.39,505.60 Z" fill="#7ccbee" stroke="none" stroke-width="0" />
<path d="M475.28,505.60 C475.33,505.97 475.20,506.36 475.05,506.74 C474.90,507.11 474.69,507.50 474.37,507.86 C474.05,508.22 473.69,508.63 473.13,508.92 C472.58,509.22 471.82,509.49 471.06,509.63 C470.29,509.77 469.34,509.78 468.53,509.77 C467.72,509.77 466.95,509.65 466.20,509.60 C465.45,509.56 464.77,509.54 464.03,509.48 C463.29,509.42 462.48,509.40 461.79,509.26 C461.10,509.12 460.39,508.89 459.89,508.62 C459.39,508.35 459.11,507.98 458.80,507.65 C458.48,507.32 458.31,506.99 458.00,506.65 C457.70,506.31 457.23,505.98 456.97,505.60 C456.70,505.22 456.33,504.75 456.41,504.34 C456.48,503.94 456.87,503.48 457.43,503.17 C457.98,502.87 458.97,502.67 459.74,502.51 C460.51,502.34 461.35,502.30 462.07,502.17 C462.78,502.04 463.33,501.87 464.02,501.71 C464.71,501.55 465.43,501.29 466.20,501.21 C466.97,501.13 467.90,501.12 468.65,501.23 C469.40,501.33 470.11,501.62 470.70,501.87 C471.29,502.12 471.71,502.45 472.19,502.73 C472.66,503.02 473.12,503.27 473.55,503.57 C473.97,503.86 474.46,504.16 474.75,504.50 C475.04,504.84 475.23,505.23 475.28,505.60 Z" fill="#3ea6e4" stroke="none" stroke-width="0" />
<ellipse cx="466.00" cy="505.60" rx="6.82" ry="3.35" fill="#46b858" />
<ellipse cx="466.30" cy="505.60" rx="4.62" ry="2.16" fill="#b9d33a" />
<ellipse cx="466.50" cy="505.60" rx="3.08" ry="1.19" fill="#ee2a20" />
</g>
<path d="M478.72,505.60 C478.52,506.11 477.82,506.62 477.31,507.06 C476.80,507.51 476.18,507.86 475.66,508.27 C475.14,508.67 474.77,509.09 474.20,509.48 C473.63,509.88 473.04,510.33 472.26,510.63 C471.49,510.94 470.50,511.19 469.54,511.33 C468.58,511.46 467.50,511.48 466.50,511.45 C465.50,511.43 464.47,511.34 463.53,511.19 C462.59,511.04 461.63,510.83 460.85,510.54 C460.06,510.25 459.38,509.86 458.83,509.47 C458.28,509.08 457.96,508.63 457.54,508.21 C457.13,507.79 456.76,507.41 456.34,506.97 C455.92,506.54 455.31,506.10 455.02,505.60 C454.72,505.10 454.42,504.50 454.56,503.99 C454.71,503.47 455.25,502.92 455.89,502.51 C456.53,502.10 457.56,501.80 458.41,501.52 C459.26,501.23 460.14,501.03 461.00,500.80 C461.86,500.56 462.66,500.27 463.58,500.10 C464.49,499.93 465.54,499.75 466.50,499.77 C467.46,499.79 468.50,499.99 469.36,500.22 C470.22,500.44 470.89,500.83 471.64,501.11 C472.38,501.39 473.03,501.64 473.82,501.91 C474.62,502.17 475.65,502.36 476.43,502.71 C477.21,503.05 478.13,503.49 478.51,503.98 C478.89,504.46 478.92,505.09 478.72,505.60 Z" fill="none" stroke="#5a72d8" stroke-width="0.45" />
<rect x="418.90" y="443.30" width="36.3" height="31.7" fill="none" stroke="#7c74cc" stroke-width="0.95"/>
<rect x="456.80" y="492.70" width="32.6" height="23.5" fill="none" stroke="#7c74cc" stroke-width="0.95"/>
<text x="418.50" y="441.20" font-size="7.3" text-anchor="start" fill="#2d69a4" textLength="48" lengthAdjust="spacingAndGlyphs" >CD4+(48,41%)</text>
<text x="455.50" y="490.50" font-size="7.3" text-anchor="start" fill="#2d69a4" textLength="48.3" lengthAdjust="spacingAndGlyphs" >CD8+(31,90%)</text>
<rect x="414.50" y="428.20" width="98.5" height="89.2" fill="none" stroke="#1e1e1e" stroke-width="1.35"/>
<line x1="411.10" y1="428.20" x2="414.50" y2="428.20" stroke="#1e1e1e" stroke-width="1.0" />
<line x1="411.10" y1="456.50" x2="414.50" y2="456.50" stroke="#1e1e1e" stroke-width="1.0" />
<line x1="411.10" y1="484.30" x2="414.50" y2="484.30" stroke="#1e1e1e" stroke-width="1.0" />
<line x1="411.10" y1="506.00" x2="414.50" y2="506.00" stroke="#1e1e1e" stroke-width="1.0" />
<line x1="412.50" y1="448.07" x2="414.50" y2="448.07" stroke="#1e1e1e" stroke-width="0.75" />
<line x1="412.50" y1="443.14" x2="414.50" y2="443.14" stroke="#1e1e1e" stroke-width="0.75" />
<line x1="412.50" y1="439.64" x2="414.50" y2="439.64" stroke="#1e1e1e" stroke-width="0.75" />
<line x1="412.50" y1="436.93" x2="414.50" y2="436.93" stroke="#1e1e1e" stroke-width="0.75" />
<line x1="412.50" y1="434.71" x2="414.50" y2="434.71" stroke="#1e1e1e" stroke-width="0.75" />
<line x1="412.50" y1="432.84" x2="414.50" y2="432.84" stroke="#1e1e1e" stroke-width="0.75" />
<line x1="412.50" y1="431.21" x2="414.50" y2="431.21" stroke="#1e1e1e" stroke-width="0.75" />
<line x1="412.50" y1="429.78" x2="414.50" y2="429.78" stroke="#1e1e1e" stroke-width="0.75" />
<line x1="412.50" y1="476.37" x2="414.50" y2="476.37" stroke="#1e1e1e" stroke-width="0.75" />
<line x1="412.50" y1="471.44" x2="414.50" y2="471.44" stroke="#1e1e1e" stroke-width="0.75" />
<line x1="412.50" y1="467.94" x2="414.50" y2="467.94" stroke="#1e1e1e" stroke-width="0.75" />
<line x1="412.50" y1="465.23" x2="414.50" y2="465.23" stroke="#1e1e1e" stroke-width="0.75" />
<line x1="412.50" y1="463.01" x2="414.50" y2="463.01" stroke="#1e1e1e" stroke-width="0.75" />
<line x1="412.50" y1="461.14" x2="414.50" y2="461.14" stroke="#1e1e1e" stroke-width="0.75" />
<line x1="412.50" y1="459.51" x2="414.50" y2="459.51" stroke="#1e1e1e" stroke-width="0.75" />
<line x1="412.50" y1="458.08" x2="414.50" y2="458.08" stroke="#1e1e1e" stroke-width="0.75" />
<line x1="412.50" y1="499.47" x2="414.50" y2="499.47" stroke="#1e1e1e" stroke-width="0.75" />
<line x1="412.50" y1="495.65" x2="414.50" y2="495.65" stroke="#1e1e1e" stroke-width="0.75" />
<line x1="412.50" y1="492.94" x2="414.50" y2="492.94" stroke="#1e1e1e" stroke-width="0.75" />
<line x1="412.50" y1="490.83" x2="414.50" y2="490.83" stroke="#1e1e1e" stroke-width="0.75" />
<line x1="412.50" y1="489.11" x2="414.50" y2="489.11" stroke="#1e1e1e" stroke-width="0.75" />
<line x1="412.50" y1="487.66" x2="414.50" y2="487.66" stroke="#1e1e1e" stroke-width="0.75" />
<line x1="412.50" y1="486.40" x2="414.50" y2="486.40" stroke="#1e1e1e" stroke-width="0.75" />
<line x1="412.50" y1="485.29" x2="414.50" y2="485.29" stroke="#1e1e1e" stroke-width="0.75" />
<line x1="412.50" y1="508.70" x2="414.50" y2="508.70" stroke="#1e1e1e" stroke-width="0.75" />
<line x1="412.50" y1="511.40" x2="414.50" y2="511.40" stroke="#1e1e1e" stroke-width="0.75" />
<line x1="412.50" y1="514.20" x2="414.50" y2="514.20" stroke="#1e1e1e" stroke-width="0.75" />
<text x="407.50" y="431.00" font-size="7.8" text-anchor="end" fill="#2a2a2a">10</text>
<text x="407.50" y="427.80" font-size="6.2" fill="#2a2a2a">6</text>
<text x="407.50" y="459.30" font-size="7.8" text-anchor="end" fill="#2a2a2a">10</text>
<text x="407.50" y="456.10" font-size="6.2" fill="#2a2a2a">5</text>
<text x="407.50" y="487.10" font-size="7.8" text-anchor="end" fill="#2a2a2a">10</text>
<text x="407.50" y="483.90" font-size="6.2" fill="#2a2a2a">4</text>
<text x="408.50" y="508.80" font-size="7.8" text-anchor="end" fill="#2a2a2a">0</text>
<line x1="428.70" y1="517.40" x2="428.70" y2="520.80" stroke="#1e1e1e" stroke-width="1.0" />
<line x1="451.70" y1="517.40" x2="451.70" y2="520.80" stroke="#1e1e1e" stroke-width="1.0" />
<line x1="486.20" y1="517.40" x2="486.20" y2="520.80" stroke="#1e1e1e" stroke-width="1.0" />
<line x1="415.30" y1="517.40" x2="415.30" y2="519.40" stroke="#1e1e1e" stroke-width="0.75" />
<line x1="418.00" y1="517.40" x2="418.00" y2="519.40" stroke="#1e1e1e" stroke-width="0.75" />
<line x1="420.70" y1="517.40" x2="420.70" y2="519.40" stroke="#1e1e1e" stroke-width="0.75" />
<line x1="423.40" y1="517.40" x2="423.40" y2="519.40" stroke="#1e1e1e" stroke-width="0.75" />
<line x1="426.10" y1="517.40" x2="426.10" y2="519.40" stroke="#1e1e1e" stroke-width="0.75" />
<line x1="432.67" y1="517.40" x2="432.67" y2="519.40" stroke="#1e1e1e" stroke-width="0.75" />
<line x1="435.60" y1="517.40" x2="435.60" y2="519.40" stroke="#1e1e1e" stroke-width="0.75" />
<line x1="438.25" y1="517.40" x2="438.25" y2="519.40" stroke="#1e1e1e" stroke-width="0.75" />
<line x1="440.72" y1="517.40" x2="440.72" y2="519.40" stroke="#1e1e1e" stroke-width="0.75" />
<line x1="443.07" y1="517.40" x2="443.07" y2="519.40" stroke="#1e1e1e" stroke-width="0.75" />
<line x1="445.33" y1="517.40" x2="445.33" y2="519.40" stroke="#1e1e1e" stroke-width="0.75" />
<line x1="447.51" y1="517.40" x2="447.51" y2="519.40" stroke="#1e1e1e" stroke-width="0.75" />
<line x1="449.63" y1="517.40" x2="449.63" y2="519.40" stroke="#1e1e1e" stroke-width="0.75" />
<line x1="462.09" y1="517.40" x2="462.09" y2="519.40" stroke="#1e1e1e" stroke-width="0.75" />
<line x1="468.16" y1="517.40" x2="468.16" y2="519.40" stroke="#1e1e1e" stroke-width="0.75" />
<line x1="472.47" y1="517.40" x2="472.47" y2="519.40" stroke="#1e1e1e" stroke-width="0.75" />
<line x1="475.81" y1="517.40" x2="475.81" y2="519.40" stroke="#1e1e1e" stroke-width="0.75" />
<line x1="478.55" y1="517.40" x2="478.55" y2="519.40" stroke="#1e1e1e" stroke-width="0.75" />
<line x1="480.86" y1="517.40" x2="480.86" y2="519.40" stroke="#1e1e1e" stroke-width="0.75" />
<line x1="482.86" y1="517.40" x2="482.86" y2="519.40" stroke="#1e1e1e" stroke-width="0.75" />
<line x1="484.62" y1="517.40" x2="484.62" y2="519.40" stroke="#1e1e1e" stroke-width="0.75" />
<line x1="496.59" y1="517.40" x2="496.59" y2="519.40" stroke="#1e1e1e" stroke-width="0.75" />
<line x1="502.66" y1="517.40" x2="502.66" y2="519.40" stroke="#1e1e1e" stroke-width="0.75" />
<line x1="506.97" y1="517.40" x2="506.97" y2="519.40" stroke="#1e1e1e" stroke-width="0.75" />
<line x1="510.31" y1="517.40" x2="510.31" y2="519.40" stroke="#1e1e1e" stroke-width="0.75" />
<text x="428.70" y="527.80" font-size="7.8" text-anchor="middle" fill="#2a2a2a">0</text>
<text x="448.80" y="527.80" font-size="7.8" text-anchor="middle" fill="#2a2a2a">10</text>
<text x="453.20" y="524.40" font-size="6.2" fill="#2a2a2a">3</text>
<text x="484.40" y="527.80" font-size="7.8" text-anchor="middle" fill="#2a2a2a">10</text>
<text x="488.80" y="524.40" font-size="6.2" fill="#2a2a2a">4</text>
<path d="M262,190 L262,533.4 L508,533.4" fill="none" stroke="#3d7bb4" stroke-width="1.8"/>
<path d="M262,185.8 L259.0,191.2 L265.0,191.2 Z" fill="#14508f"/>
<path d="M512.8,533.4 L507.2,530.5 L507.2,536.3 Z" fill="#14508f"/>
<text x="256.20" y="359.80" font-size="9.6" text-anchor="middle" fill="#222" textLength="18.4" lengthAdjust="spacingAndGlyphs" transform="rotate(-90 256.20 359.80)" >CD4</text>
<text x="387.10" y="547.40" font-size="9.6" text-anchor="middle" fill="#222" textLength="17.6" lengthAdjust="spacingAndGlyphs" >CD8</text>
<text x="7.00" y="17.60" font-size="11.0" text-anchor="start" fill="#111" font-weight="bold" >A</text>
<text x="241.20" y="18.20" font-size="11.0" text-anchor="start" fill="#111" font-weight="bold" >B</text>
<text x="6.90" y="187.60" font-size="11.0" text-anchor="start" fill="#111" font-weight="bold" >C</text>
<text x="241.00" y="187.60" font-size="11.0" text-anchor="start" fill="#111" font-weight="bold" >D</text>
<text x="7.30" y="346.60" font-size="11.0" text-anchor="start" fill="#111" font-weight="bold" >E</text>
<rect x="0.5" y="0.5" width="519" height="553" fill="none" stroke="#1a1a1a" stroke-width="1.2"/>
</svg></body></html>
